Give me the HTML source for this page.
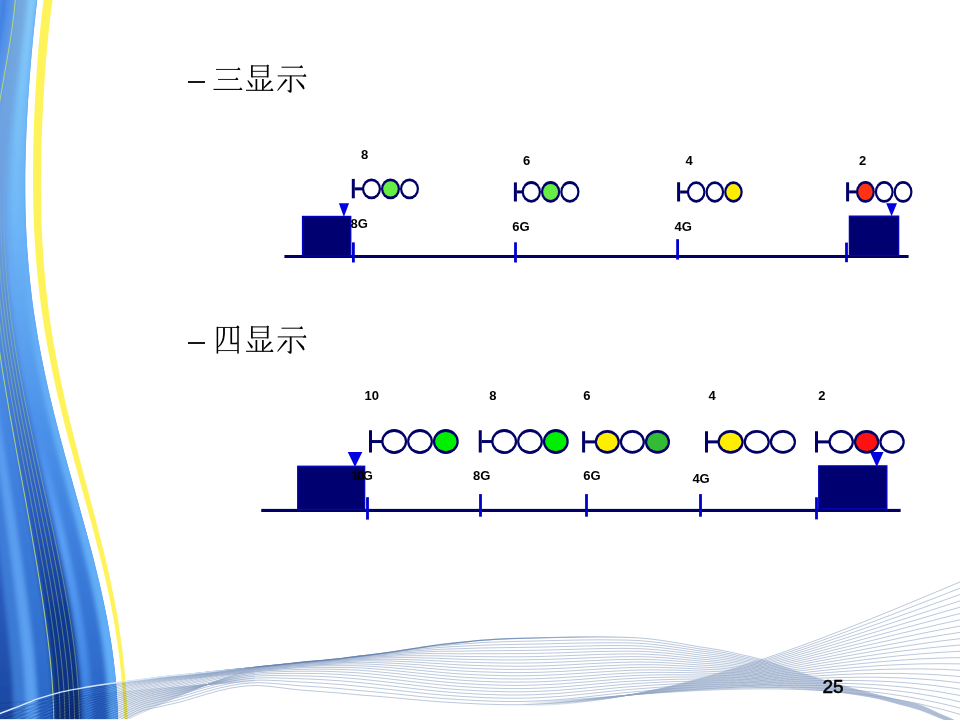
<!DOCTYPE html>
<html><head><meta charset="utf-8"><style>
html,body{margin:0;padding:0;background:#fff;}
body{width:960px;height:720px;overflow:hidden;position:relative;}
svg{position:absolute;left:0;top:0;display:block;}
text{font-family:"Liberation Sans",sans-serif;fill:#000;}
</style></head><body>
<svg width="960" height="720" viewBox="0 0 960 720">
<defs><clipPath id="cpBand"><path d="M-60.0,-40.0 C-60.0,-36.7 -60.0,-26.7 -60.0,-20.0 C-60.0,-13.3 -60.0,-6.7 -60.0,0.0 C-60.0,6.7 -60.0,13.3 -60.0,20.0 C-60.0,26.7 -60.0,33.3 -60.0,40.0 C-60.0,46.7 -60.0,53.3 -60.0,60.0 C-60.0,66.7 -60.0,73.3 -60.0,80.0 C-60.0,86.7 -60.0,93.3 -60.0,100.0 C-60.0,106.7 -60.0,113.3 -60.0,120.0 C-60.0,126.7 -60.0,133.3 -60.0,140.0 C-60.0,146.7 -60.0,153.3 -60.0,160.0 C-60.0,166.7 -60.0,173.3 -60.0,180.0 C-60.0,186.7 -60.0,193.3 -60.0,200.0 C-60.0,206.7 -60.0,213.3 -60.0,220.0 C-60.0,226.7 -60.0,233.3 -60.0,240.0 C-60.0,246.7 -60.0,253.3 -60.0,260.0 C-60.0,266.7 -60.0,273.3 -60.0,280.0 C-60.0,286.7 -60.0,293.3 -60.0,300.0 C-60.0,306.7 -60.0,313.3 -60.0,320.0 C-60.0,326.7 -60.0,333.3 -60.0,340.0 C-60.0,346.7 -60.0,353.3 -60.0,360.0 C-60.0,366.7 -60.0,373.3 -60.0,380.0 C-60.0,386.7 -60.0,393.3 -60.0,400.0 C-60.0,406.7 -60.0,413.3 -60.0,420.0 C-60.0,426.7 -60.0,433.3 -60.0,440.0 C-60.0,446.7 -60.0,453.3 -60.0,460.0 C-60.0,466.7 -60.0,473.3 -60.0,480.0 C-60.0,486.7 -60.0,493.3 -60.0,500.0 C-60.0,506.7 -60.0,513.3 -60.0,520.0 C-60.0,526.7 -60.0,533.3 -60.0,540.0 C-60.0,546.7 -60.0,553.3 -60.0,560.0 C-60.0,566.7 -60.0,573.3 -60.0,580.0 C-60.0,586.7 -60.0,593.3 -60.0,600.0 C-60.0,606.7 -60.0,613.3 -60.0,620.0 C-60.0,626.7 -60.0,633.3 -60.0,640.0 C-60.0,646.7 -60.0,653.3 -60.0,660.0 C-60.0,666.7 -60.0,673.3 -60.0,680.0 C-60.0,686.7 -60.0,693.3 -60.0,700.0 C-60.0,706.7 -60.0,713.3 -60.0,720.0 C-60.0,726.7 -60.0,733.3 -60.0,740.0 C-60.0,746.7 -60.0,756.7 -60.0,760.0 L117.0,760.0 C117.1,756.7 117.7,746.7 117.8,740.0 C118.0,733.3 118.0,726.7 117.9,720.0 C117.8,713.3 117.6,706.7 117.2,700.0 C116.9,693.3 116.4,686.7 115.8,680.0 C115.2,673.3 114.5,666.7 113.6,660.0 C112.8,653.3 111.8,646.7 110.8,640.0 C109.7,633.3 108.5,626.7 107.3,620.0 C106.0,613.3 104.7,606.7 103.2,600.0 C101.8,593.3 100.3,586.7 98.7,580.0 C97.1,573.3 95.4,566.7 93.8,560.0 C92.1,553.3 90.3,546.7 88.5,540.0 C86.7,533.3 84.9,526.7 83.0,520.0 C81.2,513.3 79.3,506.7 77.5,500.0 C75.6,493.3 73.7,486.7 71.9,480.0 C70.0,473.3 68.1,466.7 66.3,460.0 C64.5,453.3 62.7,446.7 60.9,440.0 C59.1,433.3 57.4,426.7 55.7,420.0 C54.0,413.3 52.4,406.7 50.8,400.0 C49.2,393.3 47.7,386.7 46.3,380.0 C44.8,373.3 43.4,366.7 42.1,360.0 C40.8,353.3 39.5,346.7 38.3,340.0 C37.2,333.3 36.1,326.7 35.1,320.0 C34.0,313.3 33.1,306.7 32.2,300.0 C31.4,293.3 30.6,286.7 29.9,280.0 C29.2,273.3 28.6,266.7 28.1,260.0 C27.5,253.3 27.1,246.7 26.7,240.0 C26.3,233.3 26.0,226.7 25.8,220.0 C25.5,213.3 25.4,206.7 25.3,200.0 C25.2,193.3 25.2,186.7 25.2,180.0 C25.2,173.3 25.3,166.7 25.5,160.0 C25.6,153.3 25.8,146.7 26.1,140.0 C26.3,133.3 26.6,126.7 27.0,120.0 C27.3,113.3 27.7,106.7 28.1,100.0 C28.6,93.3 29.0,86.7 29.5,80.0 C30.0,73.3 30.6,66.7 31.1,60.0 C31.7,53.3 32.3,46.7 32.9,40.0 C33.6,33.3 34.3,26.7 35.0,20.0 C35.7,13.3 36.4,6.7 37.2,0.0 C38.0,-6.7 38.8,-13.3 39.7,-20.0 C40.6,-26.7 42.1,-36.7 42.6,-40.0 Z"/></clipPath>
<filter id="fb1" x="-20%" y="-5%" width="140%" height="110%"><feGaussianBlur stdDeviation="2.2"/></filter>
<filter id="fb0" x="-20%" y="-5%" width="140%" height="110%"><feGaussianBlur stdDeviation="0.5"/></filter>
<linearGradient id="gBase" gradientUnits="userSpaceOnUse" x1="0" y1="0" x2="0" y2="720"><stop offset="0" stop-color="#4a8ae4"/><stop offset="0.5" stop-color="#4a8ce8"/><stop offset="1" stop-color="#3a74d0"/></linearGradient>
<linearGradient id="gThin" gradientUnits="userSpaceOnUse" x1="0" y1="140" x2="0" y2="320"><stop offset="0" stop-color="#b4d080" stop-opacity="0"/><stop offset="1" stop-color="#b4d080" stop-opacity="0.55"/></linearGradient>
<linearGradient id="gS0" gradientUnits="userSpaceOnUse" x1="0" y1="0" x2="0" y2="720"><stop offset="0" stop-color="#4f92ec"/><stop offset="0.5" stop-color="#4a8ae4"/><stop offset="0.8" stop-color="#2a5cc0"/><stop offset="1" stop-color="#1a48a0"/></linearGradient>
<linearGradient id="gS1" gradientUnits="userSpaceOnUse" x1="0" y1="0" x2="0" y2="720"><stop offset="0" stop-color="#3c7adc"/><stop offset="0.5" stop-color="#3f80e0"/><stop offset="1" stop-color="#3a78d0"/></linearGradient>
<linearGradient id="gS2" gradientUnits="userSpaceOnUse" x1="0" y1="0" x2="0" y2="720"><stop offset="0" stop-color="#5090ec"/><stop offset="0.5" stop-color="#5a9cf0"/><stop offset="1" stop-color="#5aa0f0"/></linearGradient>
<linearGradient id="gS3" gradientUnits="userSpaceOnUse" x1="0" y1="0" x2="0" y2="720"><stop offset="0" stop-color="#5a96e8"/><stop offset="0.5" stop-color="#4a8ce8"/><stop offset="1" stop-color="#2a68c8"/></linearGradient>
<linearGradient id="gS4" gradientUnits="userSpaceOnUse" x1="0" y1="0" x2="0" y2="720"><stop offset="0" stop-color="#74a8dc"/><stop offset="0.3" stop-color="#6a9ee4"/><stop offset="0.5" stop-color="#4a84d8"/><stop offset="0.7" stop-color="#2a5cc0"/><stop offset="0.85" stop-color="#0f3a92"/><stop offset="1" stop-color="#0a2e7c"/></linearGradient>
<linearGradient id="gS5" gradientUnits="userSpaceOnUse" x1="0" y1="0" x2="0" y2="720"><stop offset="0" stop-color="#7ab4e8"/><stop offset="0.4" stop-color="#66aaf4"/><stop offset="0.6" stop-color="#4a90ec"/><stop offset="0.75" stop-color="#5aa0f8"/><stop offset="1" stop-color="#3a80e0"/></linearGradient>
<linearGradient id="gS6" gradientUnits="userSpaceOnUse" x1="0" y1="0" x2="0" y2="720"><stop offset="0" stop-color="#86ccf8"/><stop offset="0.3" stop-color="#70b8f8"/><stop offset="0.6" stop-color="#4a90e8"/><stop offset="0.8" stop-color="#3a7ad8"/><stop offset="1" stop-color="#2a64c4"/></linearGradient>
<linearGradient id="gS7" gradientUnits="userSpaceOnUse" x1="0" y1="0" x2="0" y2="720"><stop offset="0" stop-color="#7cc4fa"/><stop offset="0.4" stop-color="#66b0f6"/><stop offset="1" stop-color="#60acf8"/></linearGradient>
<linearGradient id="gW2" gradientUnits="userSpaceOnUse" x1="520" y1="0" x2="760" y2="0"><stop offset="0" stop-color="#8ea3c4" stop-opacity="0"/><stop offset="0.5" stop-color="#8ea3c4" stop-opacity="0.35"/><stop offset="1" stop-color="#8ea3c4" stop-opacity="0.75"/></linearGradient>
<linearGradient id="gW3" gradientUnits="userSpaceOnUse" x1="0" y1="0" x2="260" y2="0"><stop offset="0" stop-color="#8ea3c4" stop-opacity="0.5"/><stop offset="0.8" stop-color="#8ea3c4" stop-opacity="0.6"/><stop offset="1" stop-color="#8ea3c4" stop-opacity="0.1"/></linearGradient>
<linearGradient id="gW1" gradientUnits="userSpaceOnUse" x1="0" y1="0" x2="960" y2="0"><stop offset="0" stop-color="#8ea3c4" stop-opacity="0.75"/><stop offset="0.79" stop-color="#8ea3c4" stop-opacity="0.75"/><stop offset="0.9" stop-color="#a8b8d2" stop-opacity="0.6"/><stop offset="1" stop-color="#a8b8d2" stop-opacity="0.55"/></linearGradient>
<linearGradient id="gEdge" gradientUnits="userSpaceOnUse" x1="190" y1="0" x2="640" y2="0"><stop offset="0" stop-color="#5a7aae" stop-opacity="0"/><stop offset="0.14" stop-color="#5a7aae" stop-opacity="0.8"/><stop offset="0.7" stop-color="#5a7aae" stop-opacity="0.7"/><stop offset="1" stop-color="#5a7aae" stop-opacity="0"/></linearGradient>
<linearGradient id="gDense" gradientUnits="userSpaceOnUse" x1="120" y1="0" x2="420" y2="0"><stop offset="0" stop-color="#7890bb" stop-opacity="0"/><stop offset="0.3" stop-color="#7890bb" stop-opacity="0.4"/><stop offset="1" stop-color="#7890bb" stop-opacity="0"/></linearGradient>
<linearGradient id="gHi" gradientUnits="userSpaceOnUse" x1="0" y1="0" x2="260" y2="0"><stop offset="0" stop-color="#d8ecff" stop-opacity="1"/><stop offset="0.8" stop-color="#d8ecff" stop-opacity="0.9"/><stop offset="1" stop-color="#d8ecff" stop-opacity="0"/></linearGradient></defs>
<g id="band"><path d="M-60.0,-40.0 C-60.0,-36.7 -60.0,-26.7 -60.0,-20.0 C-60.0,-13.3 -60.0,-6.7 -60.0,0.0 C-60.0,6.7 -60.0,13.3 -60.0,20.0 C-60.0,26.7 -60.0,33.3 -60.0,40.0 C-60.0,46.7 -60.0,53.3 -60.0,60.0 C-60.0,66.7 -60.0,73.3 -60.0,80.0 C-60.0,86.7 -60.0,93.3 -60.0,100.0 C-60.0,106.7 -60.0,113.3 -60.0,120.0 C-60.0,126.7 -60.0,133.3 -60.0,140.0 C-60.0,146.7 -60.0,153.3 -60.0,160.0 C-60.0,166.7 -60.0,173.3 -60.0,180.0 C-60.0,186.7 -60.0,193.3 -60.0,200.0 C-60.0,206.7 -60.0,213.3 -60.0,220.0 C-60.0,226.7 -60.0,233.3 -60.0,240.0 C-60.0,246.7 -60.0,253.3 -60.0,260.0 C-60.0,266.7 -60.0,273.3 -60.0,280.0 C-60.0,286.7 -60.0,293.3 -60.0,300.0 C-60.0,306.7 -60.0,313.3 -60.0,320.0 C-60.0,326.7 -60.0,333.3 -60.0,340.0 C-60.0,346.7 -60.0,353.3 -60.0,360.0 C-60.0,366.7 -60.0,373.3 -60.0,380.0 C-60.0,386.7 -60.0,393.3 -60.0,400.0 C-60.0,406.7 -60.0,413.3 -60.0,420.0 C-60.0,426.7 -60.0,433.3 -60.0,440.0 C-60.0,446.7 -60.0,453.3 -60.0,460.0 C-60.0,466.7 -60.0,473.3 -60.0,480.0 C-60.0,486.7 -60.0,493.3 -60.0,500.0 C-60.0,506.7 -60.0,513.3 -60.0,520.0 C-60.0,526.7 -60.0,533.3 -60.0,540.0 C-60.0,546.7 -60.0,553.3 -60.0,560.0 C-60.0,566.7 -60.0,573.3 -60.0,580.0 C-60.0,586.7 -60.0,593.3 -60.0,600.0 C-60.0,606.7 -60.0,613.3 -60.0,620.0 C-60.0,626.7 -60.0,633.3 -60.0,640.0 C-60.0,646.7 -60.0,653.3 -60.0,660.0 C-60.0,666.7 -60.0,673.3 -60.0,680.0 C-60.0,686.7 -60.0,693.3 -60.0,700.0 C-60.0,706.7 -60.0,713.3 -60.0,720.0 C-60.0,726.7 -60.0,733.3 -60.0,740.0 C-60.0,746.7 -60.0,756.7 -60.0,760.0 L117.0,760.0 C117.1,756.7 117.7,746.7 117.8,740.0 C118.0,733.3 118.0,726.7 117.9,720.0 C117.8,713.3 117.6,706.7 117.2,700.0 C116.9,693.3 116.4,686.7 115.8,680.0 C115.2,673.3 114.5,666.7 113.6,660.0 C112.8,653.3 111.8,646.7 110.8,640.0 C109.7,633.3 108.5,626.7 107.3,620.0 C106.0,613.3 104.7,606.7 103.2,600.0 C101.8,593.3 100.3,586.7 98.7,580.0 C97.1,573.3 95.4,566.7 93.8,560.0 C92.1,553.3 90.3,546.7 88.5,540.0 C86.7,533.3 84.9,526.7 83.0,520.0 C81.2,513.3 79.3,506.7 77.5,500.0 C75.6,493.3 73.7,486.7 71.9,480.0 C70.0,473.3 68.1,466.7 66.3,460.0 C64.5,453.3 62.7,446.7 60.9,440.0 C59.1,433.3 57.4,426.7 55.7,420.0 C54.0,413.3 52.4,406.7 50.8,400.0 C49.2,393.3 47.7,386.7 46.3,380.0 C44.8,373.3 43.4,366.7 42.1,360.0 C40.8,353.3 39.5,346.7 38.3,340.0 C37.2,333.3 36.1,326.7 35.1,320.0 C34.0,313.3 33.1,306.7 32.2,300.0 C31.4,293.3 30.6,286.7 29.9,280.0 C29.2,273.3 28.6,266.7 28.1,260.0 C27.5,253.3 27.1,246.7 26.7,240.0 C26.3,233.3 26.0,226.7 25.8,220.0 C25.5,213.3 25.4,206.7 25.3,200.0 C25.2,193.3 25.2,186.7 25.2,180.0 C25.2,173.3 25.3,166.7 25.5,160.0 C25.6,153.3 25.8,146.7 26.1,140.0 C26.3,133.3 26.6,126.7 27.0,120.0 C27.3,113.3 27.7,106.7 28.1,100.0 C28.6,93.3 29.0,86.7 29.5,80.0 C30.0,73.3 30.6,66.7 31.1,60.0 C31.7,53.3 32.3,46.7 32.9,40.0 C33.6,33.3 34.3,26.7 35.0,20.0 C35.7,13.3 36.4,6.7 37.2,0.0 C38.0,-6.7 38.8,-13.3 39.7,-20.0 C40.6,-26.7 42.1,-36.7 42.6,-40.0 Z" fill="url(#gBase)"/>
<g clip-path="url(#cpBand)"><g filter="url(#fb1)"><path d="M-40.6,-40.0 C-39.1,-36.7 -33.4,-26.7 -31.4,-20.0 C-29.5,-13.3 -28.8,-6.7 -28.6,0.0 C-28.4,6.7 -29.2,13.3 -30.2,20.0 C-31.3,26.7 -33.0,33.3 -34.8,40.0 C-36.7,46.7 -39.0,53.3 -41.3,60.0 C-43.6,66.7 -46.2,73.3 -48.6,80.0 C-51.1,86.7 -53.7,93.3 -56.2,100.0 C-58.6,106.7 -61.0,113.3 -63.3,120.0 C-65.5,126.7 -67.7,133.3 -69.7,140.0 C-71.6,146.7 -73.5,153.3 -75.1,160.0 C-76.7,166.7 -78.2,173.3 -79.4,180.0 C-80.7,186.7 -81.7,193.3 -82.6,200.0 C-83.5,206.7 -84.2,213.3 -84.8,220.0 C-85.3,226.7 -85.7,233.3 -86.0,240.0 C-86.2,246.7 -86.3,253.3 -86.3,260.0 C-86.3,266.7 -86.2,273.3 -86.0,280.0 C-85.8,286.7 -85.6,293.3 -85.2,300.0 C-84.9,306.7 -84.5,313.3 -84.1,320.0 C-83.7,326.7 -83.3,333.3 -82.9,340.0 C-82.5,346.7 -82.0,353.3 -81.6,360.0 C-81.2,366.7 -80.8,373.3 -80.5,380.0 C-80.1,386.7 -79.8,393.3 -79.5,400.0 C-79.2,406.7 -79.0,413.3 -78.8,420.0 C-78.6,426.7 -78.5,433.3 -78.4,440.0 C-78.3,446.7 -78.2,453.3 -78.2,460.0 C-78.2,466.7 -78.2,473.3 -78.3,480.0 C-78.3,486.7 -78.4,493.3 -78.5,500.0 C-78.6,506.7 -78.7,513.3 -78.8,520.0 C-78.9,526.7 -79.0,533.3 -79.1,540.0 C-79.2,546.7 -79.3,553.3 -79.3,560.0 C-79.3,566.7 -79.3,573.3 -79.3,580.0 C-79.2,586.7 -79.1,593.3 -79.0,600.0 C-78.8,606.7 -78.6,613.3 -78.4,620.0 C-78.2,626.7 -77.9,633.3 -77.5,640.0 C-77.2,646.7 -76.8,653.3 -76.5,660.0 C-76.1,666.7 -75.7,673.3 -75.4,680.0 C-75.1,686.7 -74.8,693.3 -74.7,700.0 C-74.6,706.7 -74.4,713.3 -74.6,720.0 C-74.9,726.7 -75.2,733.3 -75.9,740.0 C-76.7,746.7 -78.7,756.7 -79.3,760.0 L11.0,760.0 C11.4,756.7 12.7,746.7 13.2,740.0 C13.7,733.3 13.9,726.7 13.9,720.0 C14.0,713.3 13.8,706.7 13.6,700.0 C13.4,693.3 13.0,686.7 12.5,680.0 C12.1,673.3 11.5,666.7 11.0,660.0 C10.4,653.3 9.7,646.7 9.1,640.0 C8.4,633.3 7.7,626.7 7.0,620.0 C6.3,613.3 5.6,606.7 4.8,600.0 C4.1,593.3 3.3,586.7 2.6,580.0 C1.8,573.3 1.1,566.7 0.3,560.0 C-0.5,553.3 -1.2,546.7 -2.0,540.0 C-2.8,533.3 -3.6,526.7 -4.4,520.0 C-5.1,513.3 -5.9,506.7 -6.8,500.0 C-7.6,493.3 -8.4,486.7 -9.2,480.0 C-10.0,473.3 -10.9,466.7 -11.7,460.0 C-12.6,453.3 -13.4,446.7 -14.3,440.0 C-15.2,433.3 -16.0,426.7 -16.9,420.0 C-17.8,413.3 -18.7,406.7 -19.6,400.0 C-20.4,393.3 -21.3,386.7 -22.2,380.0 C-23.0,373.3 -23.9,366.7 -24.7,360.0 C-25.5,353.3 -26.4,346.7 -27.1,340.0 C-27.9,333.3 -28.6,326.7 -29.3,320.0 C-30.0,313.3 -30.6,306.7 -31.2,300.0 C-31.8,293.3 -32.3,286.7 -32.7,280.0 C-33.1,273.3 -33.5,266.7 -33.7,260.0 C-33.9,253.3 -34.1,246.7 -34.1,240.0 C-34.2,233.3 -34.1,226.7 -33.9,220.0 C-33.7,213.3 -33.4,206.7 -33.0,200.0 C-32.5,193.3 -32.0,186.7 -31.3,180.0 C-30.6,173.3 -29.8,166.7 -28.8,160.0 C-27.9,153.3 -26.8,146.7 -25.6,140.0 C-24.5,133.3 -23.1,126.7 -21.8,120.0 C-20.4,113.3 -18.9,106.7 -17.4,100.0 C-15.9,93.3 -14.3,86.7 -12.7,80.0 C-11.1,73.3 -9.5,66.7 -8.0,60.0 C-6.5,53.3 -5.0,46.7 -3.7,40.0 C-2.4,33.3 -1.1,26.7 -0.2,20.0 C0.7,13.3 1.4,6.7 1.7,0.0 C1.9,-6.7 2.0,-13.3 1.3,-20.0 C0.6,-26.7 -1.7,-36.7 -2.3,-40.0 Z" fill="url(#gS0)"/><path d="M-2.3,-40.0 C-1.7,-36.7 0.6,-26.7 1.3,-20.0 C2.0,-13.3 1.9,-6.7 1.7,0.0 C1.4,6.7 0.7,13.3 -0.2,20.0 C-1.1,26.7 -2.4,33.3 -3.7,40.0 C-5.0,46.7 -6.5,53.3 -8.0,60.0 C-9.5,66.7 -11.1,73.3 -12.7,80.0 C-14.3,86.7 -15.9,93.3 -17.4,100.0 C-18.9,106.7 -20.4,113.3 -21.8,120.0 C-23.1,126.7 -24.5,133.3 -25.6,140.0 C-26.8,146.7 -27.9,153.3 -28.8,160.0 C-29.8,166.7 -30.6,173.3 -31.3,180.0 C-32.0,186.7 -32.5,193.3 -33.0,200.0 C-33.4,206.7 -33.7,213.3 -33.9,220.0 C-34.1,226.7 -34.2,233.3 -34.1,240.0 C-34.1,246.7 -33.9,253.3 -33.7,260.0 C-33.5,266.7 -33.1,273.3 -32.7,280.0 C-32.3,286.7 -31.8,293.3 -31.2,300.0 C-30.6,306.7 -30.0,313.3 -29.3,320.0 C-28.6,326.7 -27.9,333.3 -27.1,340.0 C-26.4,346.7 -25.5,353.3 -24.7,360.0 C-23.9,366.7 -23.0,373.3 -22.2,380.0 C-21.3,386.7 -20.4,393.3 -19.6,400.0 C-18.7,406.7 -17.8,413.3 -16.9,420.0 C-16.0,426.7 -15.2,433.3 -14.3,440.0 C-13.4,446.7 -12.6,453.3 -11.7,460.0 C-10.9,466.7 -10.0,473.3 -9.2,480.0 C-8.4,486.7 -7.6,493.3 -6.8,500.0 C-5.9,506.7 -5.1,513.3 -4.4,520.0 C-3.6,526.7 -2.8,533.3 -2.0,540.0 C-1.2,546.7 -0.5,553.3 0.3,560.0 C1.1,566.7 1.8,573.3 2.6,580.0 C3.3,586.7 4.1,593.3 4.8,600.0 C5.6,606.7 6.3,613.3 7.0,620.0 C7.7,626.7 8.4,633.3 9.1,640.0 C9.7,646.7 10.4,653.3 11.0,660.0 C11.5,666.7 12.1,673.3 12.5,680.0 C13.0,686.7 13.4,693.3 13.6,700.0 C13.8,706.7 14.0,713.3 13.9,720.0 C13.9,726.7 13.7,733.3 13.2,740.0 C12.7,746.7 11.4,756.7 11.0,760.0 L23.4,760.0 C23.8,756.7 25.0,746.7 25.5,740.0 C25.9,733.3 26.1,726.7 26.1,720.0 C26.2,713.3 26.0,706.7 25.7,700.0 C25.5,693.3 25.1,686.7 24.6,680.0 C24.2,673.3 23.6,666.7 23.0,660.0 C22.4,653.3 21.7,646.7 21.0,640.0 C20.3,633.3 19.5,626.7 18.8,620.0 C18.0,613.3 17.2,606.7 16.4,600.0 C15.6,593.3 14.7,586.7 13.9,580.0 C13.0,573.3 12.1,566.7 11.3,560.0 C10.4,553.3 9.5,546.7 8.6,540.0 C7.7,533.3 6.8,526.7 5.9,520.0 C5.0,513.3 4.1,506.7 3.1,500.0 C2.2,493.3 1.2,486.7 0.3,480.0 C-0.7,473.3 -1.6,466.7 -2.6,460.0 C-3.5,453.3 -4.5,446.7 -5.5,440.0 C-6.5,433.3 -7.4,426.7 -8.4,420.0 C-9.4,413.3 -10.3,406.7 -11.3,400.0 C-12.3,393.3 -13.2,386.7 -14.1,380.0 C-15.1,373.3 -16.0,366.7 -16.9,360.0 C-17.8,353.3 -18.6,346.7 -19.4,340.0 C-20.3,333.3 -21.0,326.7 -21.8,320.0 C-22.5,313.3 -23.2,306.7 -23.8,300.0 C-24.4,293.3 -24.9,286.7 -25.3,280.0 C-25.8,273.3 -26.2,266.7 -26.5,260.0 C-26.7,253.3 -26.9,246.7 -27.0,240.0 C-27.1,233.3 -27.1,226.7 -26.9,220.0 C-26.8,213.3 -26.5,206.7 -26.2,200.0 C-25.8,193.3 -25.3,186.7 -24.7,180.0 C-24.1,173.3 -23.3,166.7 -22.5,160.0 C-21.6,153.3 -20.6,146.7 -19.6,140.0 C-18.5,133.3 -17.3,126.7 -16.0,120.0 C-14.8,113.3 -13.4,106.7 -12.0,100.0 C-10.7,93.3 -9.2,86.7 -7.7,80.0 C-6.3,73.3 -4.8,66.7 -3.4,60.0 C-2.0,53.3 -0.6,46.7 0.6,40.0 C1.8,33.3 3.0,26.7 3.9,20.0 C4.8,13.3 5.5,6.7 5.8,0.0 C6.2,-6.7 6.3,-13.3 5.8,-20.0 C5.3,-26.7 3.4,-36.7 2.9,-40.0 Z" fill="url(#gS1)"/><path d="M2.9,-40.0 C3.4,-36.7 5.3,-26.7 5.8,-20.0 C6.3,-13.3 6.2,-6.7 5.8,0.0 C5.5,6.7 4.8,13.3 3.9,20.0 C3.0,26.7 1.8,33.3 0.6,40.0 C-0.6,46.7 -2.0,53.3 -3.4,60.0 C-4.8,66.7 -6.3,73.3 -7.7,80.0 C-9.2,86.7 -10.7,93.3 -12.0,100.0 C-13.4,106.7 -14.8,113.3 -16.0,120.0 C-17.3,126.7 -18.5,133.3 -19.6,140.0 C-20.6,146.7 -21.6,153.3 -22.5,160.0 C-23.3,166.7 -24.1,173.3 -24.7,180.0 C-25.3,186.7 -25.8,193.3 -26.2,200.0 C-26.5,206.7 -26.8,213.3 -26.9,220.0 C-27.1,226.7 -27.1,233.3 -27.0,240.0 C-26.9,246.7 -26.7,253.3 -26.5,260.0 C-26.2,266.7 -25.8,273.3 -25.3,280.0 C-24.9,286.7 -24.4,293.3 -23.8,300.0 C-23.2,306.7 -22.5,313.3 -21.8,320.0 C-21.0,326.7 -20.3,333.3 -19.4,340.0 C-18.6,346.7 -17.8,353.3 -16.9,360.0 C-16.0,366.7 -15.1,373.3 -14.1,380.0 C-13.2,386.7 -12.3,393.3 -11.3,400.0 C-10.3,406.7 -9.4,413.3 -8.4,420.0 C-7.4,426.7 -6.5,433.3 -5.5,440.0 C-4.5,446.7 -3.5,453.3 -2.6,460.0 C-1.6,466.7 -0.7,473.3 0.3,480.0 C1.2,486.7 2.2,493.3 3.1,500.0 C4.1,506.7 5.0,513.3 5.9,520.0 C6.8,526.7 7.7,533.3 8.6,540.0 C9.5,546.7 10.4,553.3 11.3,560.0 C12.1,566.7 13.0,573.3 13.9,580.0 C14.7,586.7 15.6,593.3 16.4,600.0 C17.2,606.7 18.0,613.3 18.8,620.0 C19.5,626.7 20.3,633.3 21.0,640.0 C21.7,646.7 22.4,653.3 23.0,660.0 C23.6,666.7 24.2,673.3 24.6,680.0 C25.1,686.7 25.5,693.3 25.7,700.0 C26.0,706.7 26.2,713.3 26.1,720.0 C26.1,726.7 25.9,733.3 25.5,740.0 C25.0,746.7 23.8,756.7 23.4,760.0 L35.2,760.0 C35.5,756.7 36.7,746.7 37.1,740.0 C37.5,733.3 37.6,726.7 37.7,720.0 C37.7,713.3 37.5,706.7 37.3,700.0 C37.0,693.3 36.6,686.7 36.1,680.0 C35.6,673.3 35.0,666.7 34.4,660.0 C33.8,653.3 33.1,646.7 32.3,640.0 C31.6,633.3 30.8,626.7 29.9,620.0 C29.1,613.3 28.2,606.7 27.3,600.0 C26.4,593.3 25.5,586.7 24.5,580.0 C23.6,573.3 22.6,566.7 21.7,560.0 C20.7,553.3 19.7,546.7 18.7,540.0 C17.7,533.3 16.6,526.7 15.6,520.0 C14.6,513.3 13.5,506.7 12.5,500.0 C11.4,493.3 10.4,486.7 9.3,480.0 C8.2,473.3 7.2,466.7 6.1,460.0 C5.0,453.3 3.9,446.7 2.9,440.0 C1.8,433.3 0.7,426.7 -0.3,420.0 C-1.4,413.3 -2.4,406.7 -3.5,400.0 C-4.5,393.3 -5.5,386.7 -6.5,380.0 C-7.5,373.3 -8.5,366.7 -9.5,360.0 C-10.4,353.3 -11.3,346.7 -12.2,340.0 C-13.0,333.3 -13.9,326.7 -14.6,320.0 C-15.4,313.3 -16.1,306.7 -16.7,300.0 C-17.3,293.3 -17.9,286.7 -18.4,280.0 C-18.9,273.3 -19.3,266.7 -19.6,260.0 C-19.9,253.3 -20.1,246.7 -20.2,240.0 C-20.4,233.3 -20.4,226.7 -20.3,220.0 C-20.2,213.3 -20.0,206.7 -19.7,200.0 C-19.4,193.3 -18.9,186.7 -18.4,180.0 C-17.9,173.3 -17.2,166.7 -16.4,160.0 C-15.7,153.3 -14.8,146.7 -13.8,140.0 C-12.9,133.3 -11.8,126.7 -10.6,120.0 C-9.5,113.3 -8.2,106.7 -7.0,100.0 C-5.7,93.3 -4.4,86.7 -3.0,80.0 C-1.7,73.3 -0.3,66.7 1.0,60.0 C2.2,53.3 3.6,46.7 4.7,40.0 C5.8,33.3 7.0,26.7 7.8,20.0 C8.7,13.3 9.4,6.7 9.8,0.0 C10.2,-6.7 10.4,-13.3 10.1,-20.0 C9.8,-26.7 8.3,-36.7 7.9,-40.0 Z" fill="url(#gS2)"/><path d="M7.9,-40.0 C8.3,-36.7 9.8,-26.7 10.1,-20.0 C10.4,-13.3 10.2,-6.7 9.8,0.0 C9.4,6.7 8.7,13.3 7.8,20.0 C7.0,26.7 5.8,33.3 4.7,40.0 C3.6,46.7 2.2,53.3 1.0,60.0 C-0.3,66.7 -1.7,73.3 -3.0,80.0 C-4.4,86.7 -5.7,93.3 -7.0,100.0 C-8.2,106.7 -9.5,113.3 -10.6,120.0 C-11.8,126.7 -12.9,133.3 -13.8,140.0 C-14.8,146.7 -15.7,153.3 -16.4,160.0 C-17.2,166.7 -17.9,173.3 -18.4,180.0 C-18.9,186.7 -19.4,193.3 -19.7,200.0 C-20.0,206.7 -20.2,213.3 -20.3,220.0 C-20.4,226.7 -20.4,233.3 -20.2,240.0 C-20.1,246.7 -19.9,253.3 -19.6,260.0 C-19.3,266.7 -18.9,273.3 -18.4,280.0 C-17.9,286.7 -17.3,293.3 -16.7,300.0 C-16.1,306.7 -15.4,313.3 -14.6,320.0 C-13.9,326.7 -13.0,333.3 -12.2,340.0 C-11.3,346.7 -10.4,353.3 -9.5,360.0 C-8.5,366.7 -7.5,373.3 -6.5,380.0 C-5.5,386.7 -4.5,393.3 -3.5,400.0 C-2.4,406.7 -1.4,413.3 -0.3,420.0 C0.7,426.7 1.8,433.3 2.9,440.0 C3.9,446.7 5.0,453.3 6.1,460.0 C7.2,466.7 8.2,473.3 9.3,480.0 C10.4,486.7 11.4,493.3 12.5,500.0 C13.5,506.7 14.6,513.3 15.6,520.0 C16.6,526.7 17.7,533.3 18.7,540.0 C19.7,546.7 20.7,553.3 21.7,560.0 C22.6,566.7 23.6,573.3 24.5,580.0 C25.5,586.7 26.4,593.3 27.3,600.0 C28.2,606.7 29.1,613.3 29.9,620.0 C30.8,626.7 31.6,633.3 32.3,640.0 C33.1,646.7 33.8,653.3 34.4,660.0 C35.0,666.7 35.6,673.3 36.1,680.0 C36.6,686.7 37.0,693.3 37.3,700.0 C37.5,706.7 37.7,713.3 37.7,720.0 C37.6,726.7 37.5,733.3 37.1,740.0 C36.7,746.7 35.5,756.7 35.2,760.0 L51.6,760.0 C51.8,756.7 52.9,746.7 53.2,740.0 C53.6,733.3 53.7,726.7 53.7,720.0 C53.7,713.3 53.5,706.7 53.2,700.0 C53.0,693.3 52.5,686.7 52.0,680.0 C51.5,673.3 50.9,666.7 50.3,660.0 C49.6,653.3 48.8,646.7 48.0,640.0 C47.2,633.3 46.3,626.7 45.4,620.0 C44.5,613.3 43.5,606.7 42.5,600.0 C41.5,593.3 40.4,586.7 39.4,580.0 C38.3,573.3 37.2,566.7 36.1,560.0 C34.9,553.3 33.8,546.7 32.6,540.0 C31.5,533.3 30.3,526.7 29.1,520.0 C27.9,513.3 26.7,506.7 25.5,500.0 C24.3,493.3 23.0,486.7 21.8,480.0 C20.6,473.3 19.4,466.7 18.1,460.0 C16.9,453.3 15.7,446.7 14.5,440.0 C13.3,433.3 12.1,426.7 10.9,420.0 C9.7,413.3 8.5,406.7 7.4,400.0 C6.2,393.3 5.1,386.7 4.0,380.0 C2.9,373.3 1.9,366.7 0.8,360.0 C-0.2,353.3 -1.1,346.7 -2.1,340.0 C-3.0,333.3 -3.9,326.7 -4.7,320.0 C-5.5,313.3 -6.2,306.7 -6.9,300.0 C-7.6,293.3 -8.2,286.7 -8.7,280.0 C-9.3,273.3 -9.7,266.7 -10.1,260.0 C-10.4,253.3 -10.7,246.7 -10.9,240.0 C-11.0,233.3 -11.1,226.7 -11.1,220.0 C-11.0,213.3 -10.9,206.7 -10.7,200.0 C-10.5,193.3 -10.1,186.7 -9.7,180.0 C-9.2,173.3 -8.7,166.7 -8.0,160.0 C-7.4,153.3 -6.7,146.7 -5.8,140.0 C-5.0,133.3 -4.1,126.7 -3.1,120.0 C-2.1,113.3 -1.1,106.7 0.0,100.0 C1.1,93.3 2.3,86.7 3.5,80.0 C4.6,73.3 5.8,66.7 7.0,60.0 C8.1,53.3 9.3,46.7 10.3,40.0 C11.4,33.3 12.4,26.7 13.2,20.0 C14.1,13.3 14.8,6.7 15.3,0.0 C15.7,-6.7 16.1,-13.3 16.0,-20.0 C15.9,-26.7 15.1,-36.7 14.9,-40.0 Z" fill="url(#gS3)"/><path d="M14.9,-40.0 C15.1,-36.7 15.9,-26.7 16.0,-20.0 C16.1,-13.3 15.7,-6.7 15.3,0.0 C14.8,6.7 14.1,13.3 13.2,20.0 C12.4,26.7 11.4,33.3 10.3,40.0 C9.3,46.7 8.1,53.3 7.0,60.0 C5.8,66.7 4.6,73.3 3.5,80.0 C2.3,86.7 1.1,93.3 0.0,100.0 C-1.1,106.7 -2.1,113.3 -3.1,120.0 C-4.1,126.7 -5.0,133.3 -5.8,140.0 C-6.7,146.7 -7.4,153.3 -8.0,160.0 C-8.7,166.7 -9.2,173.3 -9.7,180.0 C-10.1,186.7 -10.5,193.3 -10.7,200.0 C-10.9,206.7 -11.0,213.3 -11.1,220.0 C-11.1,226.7 -11.0,233.3 -10.9,240.0 C-10.7,246.7 -10.4,253.3 -10.1,260.0 C-9.7,266.7 -9.3,273.3 -8.7,280.0 C-8.2,286.7 -7.6,293.3 -6.9,300.0 C-6.2,306.7 -5.5,313.3 -4.7,320.0 C-3.9,326.7 -3.0,333.3 -2.1,340.0 C-1.1,346.7 -0.2,353.3 0.8,360.0 C1.9,366.7 2.9,373.3 4.0,380.0 C5.1,386.7 6.2,393.3 7.4,400.0 C8.5,406.7 9.7,413.3 10.9,420.0 C12.1,426.7 13.3,433.3 14.5,440.0 C15.7,446.7 16.9,453.3 18.1,460.0 C19.4,466.7 20.6,473.3 21.8,480.0 C23.0,486.7 24.3,493.3 25.5,500.0 C26.7,506.7 27.9,513.3 29.1,520.0 C30.3,526.7 31.5,533.3 32.6,540.0 C33.8,546.7 34.9,553.3 36.1,560.0 C37.2,566.7 38.3,573.3 39.4,580.0 C40.4,586.7 41.5,593.3 42.5,600.0 C43.5,606.7 44.5,613.3 45.4,620.0 C46.3,626.7 47.2,633.3 48.0,640.0 C48.8,646.7 49.6,653.3 50.3,660.0 C50.9,666.7 51.5,673.3 52.0,680.0 C52.5,686.7 53.0,693.3 53.2,700.0 C53.5,706.7 53.7,713.3 53.7,720.0 C53.7,726.7 53.6,733.3 53.2,740.0 C52.9,746.7 51.8,756.7 51.6,760.0 L81.0,760.0 C81.2,756.7 82.0,746.7 82.3,740.0 C82.5,733.3 82.6,726.7 82.6,720.0 C82.5,713.3 82.3,706.7 82.0,700.0 C81.7,693.3 81.3,686.7 80.7,680.0 C80.2,673.3 79.5,666.7 78.8,660.0 C78.0,653.3 77.2,646.7 76.3,640.0 C75.3,633.3 74.3,626.7 73.2,620.0 C72.2,613.3 71.0,606.7 69.8,600.0 C68.6,593.3 67.4,586.7 66.1,580.0 C64.8,573.3 63.4,566.7 62.0,560.0 C60.6,553.3 59.2,546.7 57.8,540.0 C56.3,533.3 54.9,526.7 53.4,520.0 C51.9,513.3 50.4,506.7 48.9,500.0 C47.4,493.3 45.8,486.7 44.3,480.0 C42.8,473.3 41.3,466.7 39.8,460.0 C38.3,453.3 36.8,446.7 35.4,440.0 C33.9,433.3 32.5,426.7 31.1,420.0 C29.7,413.3 28.3,406.7 26.9,400.0 C25.6,393.3 24.3,386.7 23.0,380.0 C21.8,373.3 20.6,366.7 19.4,360.0 C18.3,353.3 17.2,346.7 16.1,340.0 C15.1,333.3 14.1,326.7 13.2,320.0 C12.3,313.3 11.5,306.7 10.7,300.0 C10.0,293.3 9.3,286.7 8.7,280.0 C8.1,273.3 7.5,266.7 7.1,260.0 C6.7,253.3 6.3,246.7 6.0,240.0 C5.8,233.3 5.6,226.7 5.5,220.0 C5.4,213.3 5.4,206.7 5.5,200.0 C5.6,193.3 5.8,186.7 6.0,180.0 C6.3,173.3 6.6,166.7 7.0,160.0 C7.5,153.3 8.0,146.7 8.5,140.0 C9.1,133.3 9.7,126.7 10.4,120.0 C11.1,113.3 11.9,106.7 12.7,100.0 C13.5,93.3 14.3,86.7 15.2,80.0 C16.1,73.3 17.0,66.7 17.9,60.0 C18.7,53.3 19.7,46.7 20.5,40.0 C21.4,33.3 22.2,26.7 23.0,20.0 C23.8,13.3 24.5,6.7 25.1,0.0 C25.8,-6.7 26.3,-13.3 26.7,-20.0 C27.0,-26.7 27.2,-36.7 27.3,-40.0 Z" fill="url(#gS4)"/><path d="M27.3,-40.0 C27.2,-36.7 27.0,-26.7 26.7,-20.0 C26.3,-13.3 25.8,-6.7 25.1,0.0 C24.5,6.7 23.8,13.3 23.0,20.0 C22.2,26.7 21.4,33.3 20.5,40.0 C19.7,46.7 18.7,53.3 17.9,60.0 C17.0,66.7 16.1,73.3 15.2,80.0 C14.3,86.7 13.5,93.3 12.7,100.0 C11.9,106.7 11.1,113.3 10.4,120.0 C9.7,126.7 9.1,133.3 8.5,140.0 C8.0,146.7 7.5,153.3 7.0,160.0 C6.6,166.7 6.3,173.3 6.0,180.0 C5.8,186.7 5.6,193.3 5.5,200.0 C5.4,206.7 5.4,213.3 5.5,220.0 C5.6,226.7 5.8,233.3 6.0,240.0 C6.3,246.7 6.7,253.3 7.1,260.0 C7.5,266.7 8.1,273.3 8.7,280.0 C9.3,286.7 10.0,293.3 10.7,300.0 C11.5,306.7 12.3,313.3 13.2,320.0 C14.1,326.7 15.1,333.3 16.1,340.0 C17.2,346.7 18.3,353.3 19.4,360.0 C20.6,366.7 21.8,373.3 23.0,380.0 C24.3,386.7 25.6,393.3 26.9,400.0 C28.3,406.7 29.7,413.3 31.1,420.0 C32.5,426.7 33.9,433.3 35.4,440.0 C36.8,446.7 38.3,453.3 39.8,460.0 C41.3,466.7 42.8,473.3 44.3,480.0 C45.8,486.7 47.4,493.3 48.9,500.0 C50.4,506.7 51.9,513.3 53.4,520.0 C54.9,526.7 56.3,533.3 57.8,540.0 C59.2,546.7 60.6,553.3 62.0,560.0 C63.4,566.7 64.8,573.3 66.1,580.0 C67.4,586.7 68.6,593.3 69.8,600.0 C71.0,606.7 72.2,613.3 73.2,620.0 C74.3,626.7 75.3,633.3 76.3,640.0 C77.2,646.7 78.0,653.3 78.8,660.0 C79.5,666.7 80.2,673.3 80.7,680.0 C81.3,686.7 81.7,693.3 82.0,700.0 C82.3,706.7 82.5,713.3 82.6,720.0 C82.6,726.7 82.5,733.3 82.3,740.0 C82.0,746.7 81.2,756.7 81.0,760.0 L90.8,760.0 C91.0,756.7 91.7,746.7 92.0,740.0 C92.2,733.3 92.3,726.7 92.2,720.0 C92.2,713.3 91.9,706.7 91.6,700.0 C91.3,693.3 90.9,686.7 90.3,680.0 C89.7,673.3 89.1,666.7 88.3,660.0 C87.5,653.3 86.6,646.7 85.7,640.0 C84.7,633.3 83.7,626.7 82.5,620.0 C81.4,613.3 80.2,606.7 78.9,600.0 C77.7,593.3 76.3,586.7 75.0,580.0 C73.6,573.3 72.1,566.7 70.7,560.0 C69.2,553.3 67.7,546.7 66.2,540.0 C64.6,533.3 63.0,526.7 61.5,520.0 C59.9,513.3 58.3,506.7 56.7,500.0 C55.1,493.3 53.4,486.7 51.8,480.0 C50.2,473.3 48.6,466.7 47.0,460.0 C45.5,453.3 43.9,446.7 42.3,440.0 C40.8,433.3 39.3,426.7 37.8,420.0 C36.3,413.3 34.8,406.7 33.4,400.0 C32.0,393.3 30.7,386.7 29.4,380.0 C28.1,373.3 26.8,366.7 25.6,360.0 C24.4,353.3 23.3,346.7 22.2,340.0 C21.1,333.3 20.1,326.7 19.2,320.0 C18.2,313.3 17.4,306.7 16.6,300.0 C15.8,293.3 15.1,286.7 14.5,280.0 C13.8,273.3 13.3,266.7 12.8,260.0 C12.4,253.3 12.0,246.7 11.7,240.0 C11.4,233.3 11.2,226.7 11.0,220.0 C10.9,213.3 10.9,206.7 10.9,200.0 C10.9,193.3 11.1,186.7 11.3,180.0 C11.4,173.3 11.7,166.7 12.1,160.0 C12.4,153.3 12.8,146.7 13.3,140.0 C13.8,133.3 14.3,126.7 14.9,120.0 C15.5,113.3 16.2,106.7 16.9,100.0 C17.6,93.3 18.3,86.7 19.1,80.0 C19.9,73.3 20.7,66.7 21.5,60.0 C22.3,53.3 23.1,46.7 23.9,40.0 C24.7,33.3 25.5,26.7 26.3,20.0 C27.0,13.3 27.8,6.7 28.4,0.0 C29.1,-6.7 29.7,-13.3 30.2,-20.0 C30.7,-26.7 31.3,-36.7 31.5,-40.0 Z" fill="url(#gS5)"/><path d="M31.5,-40.0 C31.3,-36.7 30.7,-26.7 30.2,-20.0 C29.7,-13.3 29.1,-6.7 28.4,0.0 C27.8,6.7 27.0,13.3 26.3,20.0 C25.5,26.7 24.7,33.3 23.9,40.0 C23.1,46.7 22.3,53.3 21.5,60.0 C20.7,66.7 19.9,73.3 19.1,80.0 C18.3,86.7 17.6,93.3 16.9,100.0 C16.2,106.7 15.5,113.3 14.9,120.0 C14.3,126.7 13.8,133.3 13.3,140.0 C12.8,146.7 12.4,153.3 12.1,160.0 C11.7,166.7 11.4,173.3 11.3,180.0 C11.1,186.7 10.9,193.3 10.9,200.0 C10.9,206.7 10.9,213.3 11.0,220.0 C11.2,226.7 11.4,233.3 11.7,240.0 C12.0,246.7 12.4,253.3 12.8,260.0 C13.3,266.7 13.8,273.3 14.5,280.0 C15.1,286.7 15.8,293.3 16.6,300.0 C17.4,306.7 18.2,313.3 19.2,320.0 C20.1,326.7 21.1,333.3 22.2,340.0 C23.3,346.7 24.4,353.3 25.6,360.0 C26.8,366.7 28.1,373.3 29.4,380.0 C30.7,386.7 32.0,393.3 33.4,400.0 C34.8,406.7 36.3,413.3 37.8,420.0 C39.3,426.7 40.8,433.3 42.3,440.0 C43.9,446.7 45.5,453.3 47.0,460.0 C48.6,466.7 50.2,473.3 51.8,480.0 C53.4,486.7 55.1,493.3 56.7,500.0 C58.3,506.7 59.9,513.3 61.5,520.0 C63.0,526.7 64.6,533.3 66.2,540.0 C67.7,546.7 69.2,553.3 70.7,560.0 C72.1,566.7 73.6,573.3 75.0,580.0 C76.3,586.7 77.7,593.3 78.9,600.0 C80.2,606.7 81.4,613.3 82.5,620.0 C83.7,626.7 84.7,633.3 85.7,640.0 C86.6,646.7 87.5,653.3 88.3,660.0 C89.1,666.7 89.7,673.3 90.3,680.0 C90.9,686.7 91.3,693.3 91.6,700.0 C91.9,706.7 92.2,713.3 92.2,720.0 C92.3,726.7 92.2,733.3 92.0,740.0 C91.7,746.7 91.0,756.7 90.8,760.0 L107.8,760.0 C108.0,756.7 108.6,746.7 108.8,740.0 C108.9,733.3 109.0,726.7 108.9,720.0 C108.8,713.3 108.6,706.7 108.3,700.0 C107.9,693.3 107.5,686.7 106.9,680.0 C106.3,673.3 105.6,666.7 104.8,660.0 C103.9,653.3 103.0,646.7 102.0,640.0 C101.0,633.3 99.8,626.7 98.6,620.0 C97.4,613.3 96.1,606.7 94.7,600.0 C93.4,593.3 91.9,586.7 90.4,580.0 C88.9,573.3 87.3,566.7 85.7,560.0 C84.1,553.3 82.4,546.7 80.7,540.0 C79.0,533.3 77.2,526.7 75.5,520.0 C73.7,513.3 72.0,506.7 70.2,500.0 C68.4,493.3 66.6,486.7 64.9,480.0 C63.1,473.3 61.3,466.7 59.6,460.0 C57.8,453.3 56.1,446.7 54.4,440.0 C52.7,433.3 51.1,426.7 49.4,420.0 C47.8,413.3 46.3,406.7 44.7,400.0 C43.2,393.3 41.7,386.7 40.3,380.0 C38.9,373.3 37.6,366.7 36.3,360.0 C35.0,353.3 33.8,346.7 32.7,340.0 C31.5,333.3 30.5,326.7 29.5,320.0 C28.5,313.3 27.6,306.7 26.8,300.0 C25.9,293.3 25.2,286.7 24.5,280.0 C23.8,273.3 23.2,266.7 22.7,260.0 C22.2,253.3 21.8,246.7 21.4,240.0 C21.1,233.3 20.8,226.7 20.6,220.0 C20.4,213.3 20.3,206.7 20.3,200.0 C20.2,193.3 20.2,186.7 20.3,180.0 C20.4,173.3 20.6,166.7 20.8,160.0 C21.0,153.3 21.3,146.7 21.6,140.0 C21.9,133.3 22.3,126.7 22.8,120.0 C23.2,113.3 23.7,106.7 24.2,100.0 C24.7,93.3 25.3,86.7 25.9,80.0 C26.5,73.3 27.1,66.7 27.8,60.0 C28.4,53.3 29.1,46.7 29.8,40.0 C30.5,33.3 31.2,26.7 31.9,20.0 C32.6,13.3 33.4,6.7 34.1,0.0 C34.9,-6.7 35.6,-13.3 36.4,-20.0 C37.2,-26.7 38.3,-36.7 38.7,-40.0 Z" fill="url(#gS6)"/><path d="M38.7,-40.0 C38.3,-36.7 37.2,-26.7 36.4,-20.0 C35.6,-13.3 34.9,-6.7 34.1,0.0 C33.4,6.7 32.6,13.3 31.9,20.0 C31.2,26.7 30.5,33.3 29.8,40.0 C29.1,46.7 28.4,53.3 27.8,60.0 C27.1,66.7 26.5,73.3 25.9,80.0 C25.3,86.7 24.7,93.3 24.2,100.0 C23.7,106.7 23.2,113.3 22.8,120.0 C22.3,126.7 21.9,133.3 21.6,140.0 C21.3,146.7 21.0,153.3 20.8,160.0 C20.6,166.7 20.4,173.3 20.3,180.0 C20.2,186.7 20.2,193.3 20.3,200.0 C20.3,206.7 20.4,213.3 20.6,220.0 C20.8,226.7 21.1,233.3 21.4,240.0 C21.8,246.7 22.2,253.3 22.7,260.0 C23.2,266.7 23.8,273.3 24.5,280.0 C25.2,286.7 25.9,293.3 26.8,300.0 C27.6,306.7 28.5,313.3 29.5,320.0 C30.5,326.7 31.5,333.3 32.7,340.0 C33.8,346.7 35.0,353.3 36.3,360.0 C37.6,366.7 38.9,373.3 40.3,380.0 C41.7,386.7 43.2,393.3 44.7,400.0 C46.3,406.7 47.8,413.3 49.4,420.0 C51.1,426.7 52.7,433.3 54.4,440.0 C56.1,446.7 57.8,453.3 59.6,460.0 C61.3,466.7 63.1,473.3 64.9,480.0 C66.6,486.7 68.4,493.3 70.2,500.0 C72.0,506.7 73.7,513.3 75.5,520.0 C77.2,526.7 79.0,533.3 80.7,540.0 C82.4,546.7 84.1,553.3 85.7,560.0 C87.3,566.7 88.9,573.3 90.4,580.0 C91.9,586.7 93.4,593.3 94.7,600.0 C96.1,606.7 97.4,613.3 98.6,620.0 C99.8,626.7 101.0,633.3 102.0,640.0 C103.0,646.7 103.9,653.3 104.8,660.0 C105.6,666.7 106.3,673.3 106.9,680.0 C107.5,686.7 107.9,693.3 108.3,700.0 C108.6,706.7 108.8,713.3 108.9,720.0 C109.0,726.7 108.9,733.3 108.8,740.0 C108.6,746.7 108.0,756.7 107.8,760.0 L120.3,760.0 C120.4,756.7 120.9,746.7 121.0,740.0 C121.2,733.3 121.2,726.7 121.1,720.0 C121.0,713.3 120.8,706.7 120.4,700.0 C120.1,693.3 119.6,686.7 119.0,680.0 C118.4,673.3 117.6,666.7 116.8,660.0 C116.0,653.3 115.0,646.7 113.9,640.0 C112.8,633.3 111.7,626.7 110.4,620.0 C109.1,613.3 107.7,606.7 106.3,600.0 C104.8,593.3 103.3,586.7 101.7,580.0 C100.1,573.3 98.4,566.7 96.6,560.0 C94.9,553.3 93.1,546.7 91.3,540.0 C89.5,533.3 87.6,526.7 85.7,520.0 C83.9,513.3 82.0,506.7 80.1,500.0 C78.2,493.3 76.3,486.7 74.4,480.0 C72.5,473.3 70.6,466.7 68.7,460.0 C66.9,453.3 65.0,446.7 63.2,440.0 C61.4,433.3 59.7,426.7 58.0,420.0 C56.3,413.3 54.6,406.7 53.0,400.0 C51.4,393.3 49.8,386.7 48.4,380.0 C46.9,373.3 45.5,366.7 44.1,360.0 C42.8,353.3 41.5,346.7 40.4,340.0 C39.2,333.3 38.1,326.7 37.0,320.0 C36.0,313.3 35.1,306.7 34.2,300.0 C33.3,293.3 32.6,286.7 31.9,280.0 C31.1,273.3 30.5,266.7 30.0,260.0 C29.4,253.3 29.0,246.7 28.6,240.0 C28.2,233.3 27.9,226.7 27.6,220.0 C27.4,213.3 27.2,206.7 27.1,200.0 C27.0,193.3 26.9,186.7 26.9,180.0 C27.0,173.3 27.0,166.7 27.1,160.0 C27.3,153.3 27.5,146.7 27.7,140.0 C27.9,133.3 28.2,126.7 28.5,120.0 C28.8,113.3 29.1,106.7 29.5,100.0 C29.9,93.3 30.4,86.7 30.8,80.0 C31.3,73.3 31.8,66.7 32.3,60.0 C32.9,53.3 33.5,46.7 34.1,40.0 C34.7,33.3 35.3,26.7 36.1,20.0 C36.8,13.3 37.5,6.7 38.3,0.0 C39.1,-6.7 40.0,-13.3 40.9,-20.0 C41.9,-26.7 43.5,-36.7 44.0,-40.0 Z" fill="url(#gS7)"/></g></g>
<g clip-path="url(#cpBand)"><g filter="url(#fb0)"><path d="M18.4,-20.0 C18.2,-16.7 18.0,-6.7 17.5,0.0 C17.0,6.7 16.2,13.3 15.4,20.0 C14.6,26.7 13.6,33.3 12.6,40.0 C11.6,46.7 10.5,53.3 9.4,60.0 C8.3,66.7 7.2,73.3 6.1,80.0 C5.0,86.7 3.9,93.3 2.8,100.0 C1.8,106.7 0.8,113.3 -0.1,120.0 C-1.0,126.7 -1.9,133.3 -2.6,140.0 C-3.4,146.7 -4.1,153.3 -4.7,160.0 C-5.3,166.7 -5.8,173.3 -6.2,180.0 C-6.6,186.7 -6.9,193.3 -7.1,200.0 C-7.3,206.7 -7.4,213.3 -7.4,220.0 C-7.4,226.7 -7.3,233.3 -7.1,240.0 C-6.9,246.7 -6.6,253.3 -6.2,260.0 C-5.9,266.7 -5.4,273.3 -4.9,280.0 C-4.3,286.7 -3.7,293.3 -3.0,300.0 C-2.3,306.7 -1.5,313.3 -0.7,320.0 C0.1,326.7 1.0,333.3 2.0,340.0 C2.9,346.7 3.9,353.3 5.0,360.0 C6.0,366.7 7.1,373.3 8.2,380.0 C9.4,386.7 10.5,393.3 11.7,400.0 C12.9,406.7 14.1,413.3 15.4,420.0 C16.6,426.7 17.9,433.3 19.1,440.0 C20.4,446.7 21.7,453.3 23.0,460.0 C24.2,466.7 25.5,473.3 26.8,480.0 C28.1,486.7 29.4,493.3 30.7,500.0 C32.0,506.7 33.2,513.3 34.5,520.0 C35.7,526.7 37.0,533.3 38.2,540.0 C39.4,546.7 40.7,553.3 41.8,560.0 C43.0,566.7 44.2,573.3 45.3,580.0 C46.4,586.7 47.5,593.3 48.6,600.0 C49.6,606.7 50.6,613.3 51.6,620.0 C52.5,626.7 53.4,633.3 54.3,640.0 C55.1,646.7 55.9,653.3 56.6,660.0 C57.3,666.7 57.9,673.3 58.4,680.0 C58.9,686.7 59.4,693.3 59.6,700.0 C59.9,706.7 60.1,713.3 60.1,720.0 C60.1,726.7 60.0,733.3 59.7,740.0 C59.4,746.7 58.4,756.7 58.1,760.0" fill="none" stroke="url(#gThin)" stroke-width="0.8"/><path d="M20.2,-20.0 C20.0,-16.7 19.6,-6.7 19.1,0.0 C18.6,6.7 17.8,13.3 17.0,20.0 C16.2,26.7 15.3,33.3 14.3,40.0 C13.3,46.7 12.3,53.3 11.2,60.0 C10.2,66.7 9.1,73.3 8.0,80.0 C7.0,86.7 5.9,93.3 5.0,100.0 C4.0,106.7 3.0,113.3 2.2,120.0 C1.3,126.7 0.5,133.3 -0.3,140.0 C-1.0,146.7 -1.6,153.3 -2.2,160.0 C-2.7,166.7 -3.2,173.3 -3.6,180.0 C-3.9,186.7 -4.2,193.3 -4.4,200.0 C-4.6,206.7 -4.6,213.3 -4.6,220.0 C-4.6,226.7 -4.5,233.3 -4.3,240.0 C-4.1,246.7 -3.8,253.3 -3.4,260.0 C-3.0,266.7 -2.5,273.3 -2.0,280.0 C-1.4,286.7 -0.8,293.3 -0.1,300.0 C0.6,306.7 1.4,313.3 2.3,320.0 C3.1,326.7 4.0,333.3 5.0,340.0 C6.0,346.7 7.0,353.3 8.1,360.0 C9.1,366.7 10.3,373.3 11.4,380.0 C12.6,386.7 13.8,393.3 15.0,400.0 C16.2,406.7 17.5,413.3 18.7,420.0 C20.0,426.7 21.3,433.3 22.6,440.0 C23.9,446.7 25.2,453.3 26.6,460.0 C27.9,466.7 29.2,473.3 30.6,480.0 C31.9,486.7 33.2,493.3 34.6,500.0 C35.9,506.7 37.2,513.3 38.5,520.0 C39.8,526.7 41.1,533.3 42.4,540.0 C43.7,546.7 44.9,553.3 46.2,560.0 C47.4,566.7 48.6,573.3 49.8,580.0 C50.9,586.7 52.0,593.3 53.1,600.0 C54.2,606.7 55.2,613.3 56.2,620.0 C57.2,626.7 58.1,633.3 59.0,640.0 C59.8,646.7 60.6,653.3 61.3,660.0 C62.0,666.7 62.7,673.3 63.2,680.0 C63.7,686.7 64.2,693.3 64.4,700.0 C64.7,706.7 64.9,713.3 64.9,720.0 C65.0,726.7 64.8,733.3 64.5,740.0 C64.2,746.7 63.3,756.7 63.0,760.0" fill="none" stroke="url(#gThin)" stroke-width="0.8"/><path d="M21.9,-20.0 C21.7,-16.7 21.3,-6.7 20.8,0.0 C20.2,6.7 19.5,13.3 18.7,20.0 C17.9,26.7 16.9,33.3 16.0,40.0 C15.1,46.7 14.0,53.3 13.0,60.0 C12.0,66.7 11.0,73.3 10.0,80.0 C9.0,86.7 8.0,93.3 7.1,100.0 C6.1,106.7 5.2,113.3 4.4,120.0 C3.6,126.7 2.8,133.3 2.1,140.0 C1.5,146.7 0.8,153.3 0.3,160.0 C-0.2,166.7 -0.6,173.3 -1.0,180.0 C-1.3,186.7 -1.5,193.3 -1.7,200.0 C-1.8,206.7 -1.9,213.3 -1.9,220.0 C-1.8,226.7 -1.7,233.3 -1.5,240.0 C-1.2,246.7 -0.9,253.3 -0.5,260.0 C-0.1,266.7 0.4,273.3 0.9,280.0 C1.5,286.7 2.2,293.3 2.9,300.0 C3.6,306.7 4.4,313.3 5.3,320.0 C6.1,326.7 7.1,333.3 8.0,340.0 C9.0,346.7 10.1,353.3 11.2,360.0 C12.2,366.7 13.4,373.3 14.6,380.0 C15.8,386.7 17.0,393.3 18.2,400.0 C19.5,406.7 20.8,413.3 22.1,420.0 C23.4,426.7 24.7,433.3 26.1,440.0 C27.4,446.7 28.8,453.3 30.2,460.0 C31.6,466.7 32.9,473.3 34.3,480.0 C35.7,486.7 37.1,493.3 38.5,500.0 C39.8,506.7 41.2,513.3 42.6,520.0 C43.9,526.7 45.3,533.3 46.6,540.0 C47.9,546.7 49.2,553.3 50.5,560.0 C51.8,566.7 53.0,573.3 54.2,580.0 C55.4,586.7 56.6,593.3 57.7,600.0 C58.8,606.7 59.9,613.3 60.9,620.0 C61.9,626.7 62.8,633.3 63.7,640.0 C64.6,646.7 65.4,653.3 66.1,660.0 C66.8,666.7 67.5,673.3 68.0,680.0 C68.5,686.7 68.9,693.3 69.2,700.0 C69.5,706.7 69.7,713.3 69.8,720.0 C69.8,726.7 69.7,733.3 69.4,740.0 C69.1,746.7 68.2,756.7 67.9,760.0" fill="none" stroke="url(#gThin)" stroke-width="0.8"/><path d="M23.7,-20.0 C23.5,-16.7 23.0,-6.7 22.4,0.0 C21.8,6.7 21.1,13.3 20.3,20.0 C19.5,26.7 18.6,33.3 17.7,40.0 C16.8,46.7 15.8,53.3 14.8,60.0 C13.9,66.7 12.9,73.3 11.9,80.0 C11.0,86.7 10.0,93.3 9.2,100.0 C8.3,106.7 7.4,113.3 6.7,120.0 C5.9,126.7 5.2,133.3 4.5,140.0 C3.9,146.7 3.3,153.3 2.8,160.0 C2.4,166.7 2.0,173.3 1.7,180.0 C1.4,186.7 1.1,193.3 1.0,200.0 C0.9,206.7 0.8,213.3 0.9,220.0 C1.0,226.7 1.1,233.3 1.4,240.0 C1.6,246.7 1.9,253.3 2.3,260.0 C2.7,266.7 3.3,273.3 3.8,280.0 C4.4,286.7 5.1,293.3 5.8,300.0 C6.5,306.7 7.4,313.3 8.2,320.0 C9.1,326.7 10.1,333.3 11.1,340.0 C12.1,346.7 13.1,353.3 14.3,360.0 C15.4,366.7 16.5,373.3 17.7,380.0 C19.0,386.7 20.2,393.3 21.5,400.0 C22.8,406.7 24.1,413.3 25.5,420.0 C26.8,426.7 28.2,433.3 29.6,440.0 C31.0,446.7 32.4,453.3 33.8,460.0 C35.2,466.7 36.7,473.3 38.1,480.0 C39.5,486.7 40.9,493.3 42.4,500.0 C43.8,506.7 45.2,513.3 46.6,520.0 C48.0,526.7 49.4,533.3 50.8,540.0 C52.2,546.7 53.5,553.3 54.8,560.0 C56.1,566.7 57.4,573.3 58.7,580.0 C59.9,586.7 61.1,593.3 62.2,600.0 C63.4,606.7 64.5,613.3 65.5,620.0 C66.5,626.7 67.5,633.3 68.4,640.0 C69.3,646.7 70.1,653.3 70.9,660.0 C71.6,666.7 72.2,673.3 72.8,680.0 C73.3,686.7 73.7,693.3 74.0,700.0 C74.3,706.7 74.5,713.3 74.6,720.0 C74.6,726.7 74.5,733.3 74.2,740.0 C73.9,746.7 73.1,756.7 72.8,760.0" fill="none" stroke="url(#gThin)" stroke-width="0.8"/><path d="M25.5,-20.0 C25.3,-16.7 24.6,-6.7 24.1,0.0 C23.5,6.7 22.7,13.3 21.9,20.0 C21.2,26.7 20.3,33.3 19.4,40.0 C18.5,46.7 17.6,53.3 16.6,60.0 C15.7,66.7 14.8,73.3 13.9,80.0 C13.0,86.7 12.1,93.3 11.3,100.0 C10.5,106.7 9.6,113.3 8.9,120.0 C8.2,126.7 7.5,133.3 6.9,140.0 C6.3,146.7 5.8,153.3 5.4,160.0 C4.9,166.7 4.6,173.3 4.3,180.0 C4.0,186.7 3.8,193.3 3.7,200.0 C3.6,206.7 3.6,213.3 3.7,220.0 C3.7,226.7 3.9,233.3 4.2,240.0 C4.4,246.7 4.8,253.3 5.2,260.0 C5.6,266.7 6.1,273.3 6.7,280.0 C7.3,286.7 8.0,293.3 8.8,300.0 C9.5,306.7 10.3,313.3 11.2,320.0 C12.1,326.7 13.1,333.3 14.1,340.0 C15.1,346.7 16.2,353.3 17.3,360.0 C18.5,366.7 19.7,373.3 20.9,380.0 C22.1,386.7 23.4,393.3 24.8,400.0 C26.1,406.7 27.4,413.3 28.8,420.0 C30.2,426.7 31.6,433.3 33.1,440.0 C34.5,446.7 35.9,453.3 37.4,460.0 C38.9,466.7 40.4,473.3 41.8,480.0 C43.3,486.7 44.8,493.3 46.3,500.0 C47.7,506.7 49.2,513.3 50.7,520.0 C52.1,526.7 53.6,533.3 55.0,540.0 C56.4,546.7 57.8,553.3 59.1,560.0 C60.5,566.7 61.8,573.3 63.1,580.0 C64.4,586.7 65.6,593.3 66.8,600.0 C68.0,606.7 69.1,613.3 70.2,620.0 C71.2,626.7 72.2,633.3 73.1,640.0 C74.0,646.7 74.9,653.3 75.6,660.0 C76.3,666.7 77.0,673.3 77.5,680.0 C78.1,686.7 78.5,693.3 78.8,700.0 C79.1,706.7 79.3,713.3 79.4,720.0 C79.4,726.7 79.3,733.3 79.1,740.0 C78.8,746.7 78.0,756.7 77.7,760.0" fill="none" stroke="url(#gThin)" stroke-width="0.8"/><path d="M14.9,-40.0 C15.1,-36.7 15.9,-26.7 16.0,-20.0 C16.1,-13.3 15.7,-6.7 15.3,0.0 C14.8,6.7 14.1,13.3 13.2,20.0 C12.4,26.7 11.4,33.3 10.3,40.0 C9.3,46.7 8.1,53.3 7.0,60.0 C5.8,66.7 4.6,73.3 3.5,80.0 C2.3,86.7 1.1,93.3 0.0,100.0 C-1.1,106.7 -2.1,113.3 -3.1,120.0 C-4.1,126.7 -5.0,133.3 -5.8,140.0 C-6.7,146.7 -7.4,153.3 -8.0,160.0 C-8.7,166.7 -9.2,173.3 -9.7,180.0 C-10.1,186.7 -10.5,193.3 -10.7,200.0 C-10.9,206.7 -11.0,213.3 -11.1,220.0 C-11.1,226.7 -11.0,233.3 -10.9,240.0 C-10.7,246.7 -10.4,253.3 -10.1,260.0 C-9.7,266.7 -9.3,273.3 -8.7,280.0 C-8.2,286.7 -7.6,293.3 -6.9,300.0 C-6.2,306.7 -5.5,313.3 -4.7,320.0 C-3.9,326.7 -3.0,333.3 -2.1,340.0 C-1.1,346.7 -0.2,353.3 0.8,360.0 C1.9,366.7 2.9,373.3 4.0,380.0 C5.1,386.7 6.2,393.3 7.4,400.0 C8.5,406.7 9.7,413.3 10.9,420.0 C12.1,426.7 13.3,433.3 14.5,440.0 C15.7,446.7 16.9,453.3 18.1,460.0 C19.4,466.7 20.6,473.3 21.8,480.0 C23.0,486.7 24.3,493.3 25.5,500.0 C26.7,506.7 27.9,513.3 29.1,520.0 C30.3,526.7 31.5,533.3 32.6,540.0 C33.8,546.7 34.9,553.3 36.1,560.0 C37.2,566.7 38.3,573.3 39.4,580.0 C40.4,586.7 41.5,593.3 42.5,600.0 C43.5,606.7 44.5,613.3 45.4,620.0 C46.3,626.7 47.2,633.3 48.0,640.0 C48.8,646.7 49.6,653.3 50.3,660.0 C50.9,666.7 51.5,673.3 52.0,680.0 C52.5,686.7 53.0,693.3 53.2,700.0 C53.5,706.7 53.7,713.3 53.7,720.0 C53.7,726.7 53.6,733.3 53.2,740.0 C52.9,746.7 51.8,756.7 51.6,760.0" fill="none" stroke="#c0e070" stroke-width="1.1" stroke-opacity="0.8"/></g></g>
<path d="M50.8,-40.0 C50.2,-36.7 48.1,-26.7 46.9,-20.0 C45.7,-13.3 44.7,-6.7 43.7,0.0 C42.8,6.7 42.0,13.3 41.2,20.0 C40.5,26.7 39.8,33.3 39.2,40.0 C38.6,46.7 38.0,53.3 37.5,60.0 C37.0,66.7 36.6,73.3 36.2,80.0 C35.7,86.7 35.4,93.3 35.0,100.0 C34.7,106.7 34.4,113.3 34.1,120.0 C33.9,126.7 33.7,133.3 33.5,140.0 C33.3,146.7 33.2,153.3 33.1,160.0 C33.0,166.7 33.0,173.3 33.0,180.0 C33.0,186.7 33.1,193.3 33.2,200.0 C33.3,206.7 33.5,213.3 33.8,220.0 C34.0,226.7 34.3,233.3 34.7,240.0 C35.1,246.7 35.6,253.3 36.1,260.0 C36.7,266.7 37.3,273.3 37.9,280.0 C38.6,286.7 39.4,293.3 40.2,300.0 C41.1,306.7 42.0,313.3 43.0,320.0 C44.0,326.7 45.1,333.3 46.3,340.0 C47.4,346.7 48.7,353.3 50.0,360.0 C51.3,366.7 52.7,373.3 54.1,380.0 C55.5,386.7 57.1,393.3 58.6,400.0 C60.2,406.7 61.8,413.3 63.5,420.0 C65.2,426.7 66.9,433.3 68.7,440.0 C70.4,446.7 72.2,453.3 74.0,460.0 C75.8,466.7 77.7,473.3 79.5,480.0 C81.3,486.7 83.2,493.3 85.0,500.0 C86.9,506.7 88.7,513.3 90.5,520.0 C92.3,526.7 94.1,533.3 95.8,540.0 C97.5,546.7 99.2,553.3 100.8,560.0 C102.5,566.7 104.1,573.3 105.6,580.0 C107.1,586.7 108.5,593.3 109.9,600.0 C111.2,606.7 112.5,613.3 113.7,620.0 C114.9,626.7 116.0,633.3 116.9,640.0 C117.9,646.7 118.8,653.3 119.6,660.0 C120.4,666.7 121.1,673.3 121.8,680.0 C122.4,686.7 122.9,693.3 123.3,700.0 C123.8,706.7 124.1,713.3 124.4,720.0 C124.7,726.7 124.9,733.3 125.2,740.0 C125.4,746.7 125.6,756.7 125.7,760.0 L128.4,760.0 C128.4,756.7 128.2,746.7 128.1,740.0 C128.0,733.3 127.8,726.7 127.6,720.0 C127.4,713.3 127.1,706.7 126.7,700.0 C126.4,693.3 125.9,686.7 125.4,680.0 C124.9,673.3 124.2,666.7 123.5,660.0 C122.8,653.3 122.0,646.7 121.0,640.0 C120.1,633.3 119.1,626.7 118.0,620.0 C116.9,613.3 115.7,606.7 114.4,600.0 C113.1,593.3 111.7,586.7 110.3,580.0 C108.9,573.3 107.3,566.7 105.8,560.0 C104.2,553.3 102.6,546.7 100.9,540.0 C99.3,533.3 97.5,526.7 95.8,520.0 C94.1,513.3 92.3,506.7 90.5,500.0 C88.8,493.3 87.0,486.7 85.2,480.0 C83.4,473.3 81.7,466.7 79.9,460.0 C78.2,453.3 76.4,446.7 74.7,440.0 C73.0,433.3 71.4,426.7 69.7,420.0 C68.1,413.3 66.6,406.7 65.0,400.0 C63.5,393.3 62.1,386.7 60.7,380.0 C59.3,373.3 57.9,366.7 56.7,360.0 C55.4,353.3 54.3,346.7 53.1,340.0 C52.0,333.3 51.0,326.7 50.0,320.0 C49.1,313.3 48.2,306.7 47.4,300.0 C46.6,293.3 45.9,286.7 45.3,280.0 C44.6,273.3 44.1,266.7 43.6,260.0 C43.1,253.3 42.7,246.7 42.3,240.0 C42.0,233.3 41.7,226.7 41.5,220.0 C41.3,213.3 41.1,206.7 41.1,200.0 C41.0,193.3 40.9,186.7 41.0,180.0 C41.0,173.3 41.1,166.7 41.2,160.0 C41.3,153.3 41.5,146.7 41.7,140.0 C41.9,133.3 42.1,126.7 42.4,120.0 C42.7,113.3 43.1,106.7 43.4,100.0 C43.8,93.3 44.2,86.7 44.6,80.0 C45.1,73.3 45.6,66.7 46.1,60.0 C46.6,53.3 47.2,46.7 47.9,40.0 C48.5,33.3 49.2,26.7 50.0,20.0 C50.8,13.3 51.6,6.7 52.6,0.0 C53.5,-6.7 54.6,-13.3 55.8,-20.0 C57.0,-26.7 59.1,-36.7 59.8,-40.0 Z" fill="#fff35c" filter="url(#fb0)"/></g>
<g id="waves"><g style="mix-blend-mode:multiply"><g fill="none" stroke="url(#gW1)" stroke-width="0.8"><path d="M-40.0,730.0 C-36.7,728.6 -26.7,724.6 -20.0,721.9 C-13.3,719.1 -6.7,716.2 0.0,713.5 C6.7,710.8 13.3,708.4 20.0,705.8 C26.7,703.3 33.3,700.4 40.0,698.2 C46.7,696.0 53.3,694.0 60.0,692.4 C66.7,690.8 73.3,689.7 80.0,688.4 C86.7,687.2 93.3,686.0 100.0,685.0 C106.7,684.0 113.3,683.1 120.0,682.2 C126.7,681.3 133.3,680.5 140.0,679.7 C146.7,678.8 153.3,677.8 160.0,677.0 C166.7,676.2 173.3,675.7 180.0,675.0 C186.7,674.3 193.3,673.6 200.0,672.9 C206.7,672.2 213.3,671.4 220.0,670.8 C226.7,670.1 233.3,669.5 240.0,668.9 C246.7,668.2 253.3,667.4 260.0,666.7 C266.7,666.0 273.3,665.3 280.0,664.6 C286.7,663.9 293.3,663.2 300.0,662.5 C306.7,661.8 313.3,661.3 320.0,660.7 C326.7,660.0 333.3,659.5 340.0,658.7 C346.7,657.9 353.3,656.9 360.0,656.0 C366.7,655.1 373.3,654.5 380.0,653.6 C386.7,652.7 393.3,651.7 400.0,650.7 C406.7,649.7 413.3,648.6 420.0,647.6 C426.7,646.6 433.3,645.6 440.0,644.7 C446.7,643.9 453.3,643.2 460.0,642.5 C466.7,641.8 473.3,641.0 480.0,640.4 C486.7,639.9 493.3,639.5 500.0,639.1 C506.7,638.8 513.3,638.6 520.0,638.3 C526.7,638.1 533.3,637.9 540.0,637.8 C546.7,637.6 553.3,637.5 560.0,637.4 C566.7,637.2 573.3,637.1 580.0,637.0 C586.7,636.9 593.3,636.9 600.0,636.9 C606.7,637.0 613.3,637.0 620.0,637.2 C626.7,637.4 633.3,637.5 640.0,638.0 C646.7,638.5 653.3,639.3 660.0,640.2 C666.7,641.1 673.3,642.3 680.0,643.4 C686.7,644.6 693.3,645.8 700.0,646.9 C706.7,648.0 713.3,648.8 720.0,650.0 C726.7,651.2 733.3,652.9 740.0,654.4 C746.7,655.9 753.3,657.1 760.0,659.0 C766.7,660.9 773.3,663.3 780.0,665.5 C786.7,667.8 793.3,670.3 800.0,672.5 C806.7,674.7 813.3,676.9 820.0,678.9 C826.7,681.0 833.3,683.1 840.0,685.0 C846.7,686.9 853.3,688.7 860.0,690.4 C866.7,692.2 873.3,693.8 880.0,695.5 C886.7,697.2 893.3,698.8 900.0,700.3 C906.7,701.9 913.3,702.7 920.0,705.0 C926.7,707.3 933.3,711.0 940.0,714.0 C946.7,717.0 953.3,719.4 960.0,722.7 C966.7,726.0 973.3,730.1 980.0,733.9 C986.7,737.6 996.7,743.1 1000.0,745.0"/><path d="M-40.0,734.8 C-36.7,733.3 -26.7,729.1 -20.0,726.1 C-13.3,723.2 -6.7,719.9 0.0,717.1 C6.7,714.3 13.3,711.9 20.0,709.3 C26.7,706.6 33.3,703.7 40.0,701.3 C46.7,698.9 53.3,696.8 60.0,695.0 C66.7,693.2 73.3,691.8 80.0,690.4 C86.7,688.9 93.3,687.5 100.0,686.3 C106.7,685.1 113.3,684.0 120.0,683.0 C126.7,681.9 133.3,681.0 140.0,680.0 C146.7,679.0 153.3,678.0 160.0,677.1 C166.7,676.3 173.3,675.8 180.0,675.0 C186.7,674.3 193.3,673.6 200.0,672.9 C206.7,672.2 213.3,671.5 220.0,670.8 C226.7,670.1 233.3,669.5 240.0,668.9 C246.7,668.2 253.3,667.4 260.0,666.7 C266.7,666.0 273.3,665.3 280.0,664.6 C286.7,663.9 293.3,663.2 300.0,662.5 C306.7,661.8 313.3,661.3 320.0,660.7 C326.7,660.0 333.3,659.5 340.0,658.7 C346.7,658.0 353.3,656.9 360.0,656.0 C366.7,655.2 373.3,654.5 380.0,653.7 C386.7,652.8 393.3,651.8 400.0,650.9 C406.7,650.0 413.3,649.0 420.0,648.1 C426.7,647.3 433.3,646.5 440.0,645.8 C446.7,645.2 453.3,644.7 460.0,644.2 C466.7,643.7 473.3,643.1 480.0,642.7 C486.7,642.3 493.3,642.1 500.0,641.9 C506.7,641.6 513.3,641.5 520.0,641.3 C526.7,641.1 533.3,641.0 540.0,640.9 C546.7,640.7 553.3,640.6 560.0,640.4 C566.7,640.3 573.3,640.1 580.0,640.0 C586.7,639.9 593.3,639.8 600.0,639.8 C606.7,639.8 613.3,639.9 620.0,640.0 C626.7,640.1 633.3,640.2 640.0,640.7 C646.7,641.1 653.3,641.9 660.0,642.7 C666.7,643.5 673.3,644.6 680.0,645.7 C686.7,646.7 693.3,647.9 700.0,648.9 C706.7,650.0 713.3,650.6 720.0,651.8 C726.7,653.0 733.3,654.5 740.0,656.0 C746.7,657.4 753.3,658.6 760.0,660.3 C766.7,662.1 773.3,664.4 780.0,666.6 C786.7,668.7 793.3,671.1 800.0,673.3 C806.7,675.4 813.3,677.5 820.0,679.5 C826.7,681.5 833.3,683.5 840.0,685.4 C846.7,687.2 853.3,689.0 860.0,690.7 C866.7,692.4 873.3,694.0 880.0,695.7 C886.7,697.3 893.3,698.9 900.0,700.5 C906.7,702.1 913.3,703.0 920.0,705.2 C926.7,707.5 933.3,711.3 940.0,714.2 C946.7,717.1 953.3,719.6 960.0,722.9 C966.7,726.2 973.3,730.3 980.0,734.0 C986.7,737.7 996.7,743.3 1000.0,745.1"/><path d="M-40.0,739.5 C-36.7,738.0 -26.7,733.5 -20.0,730.4 C-13.3,727.3 -6.7,723.7 0.0,720.7 C6.7,717.8 13.3,715.4 20.0,712.7 C26.7,710.0 33.3,707.0 40.0,704.5 C46.7,702.0 53.3,699.7 60.0,697.8 C66.7,695.8 73.3,694.2 80.0,692.6 C86.7,690.9 93.3,689.3 100.0,687.9 C106.7,686.5 113.3,685.3 120.0,684.1 C126.7,682.9 133.3,681.7 140.0,680.6 C146.7,679.5 153.3,678.4 160.0,677.5 C166.7,676.6 173.3,676.0 180.0,675.2 C186.7,674.4 193.3,673.7 200.0,672.9 C206.7,672.2 213.3,671.5 220.0,670.8 C226.7,670.1 233.3,669.5 240.0,668.9 C246.7,668.2 253.3,667.4 260.0,666.7 C266.7,666.0 273.3,665.3 280.0,664.6 C286.7,663.9 293.3,663.2 300.0,662.5 C306.7,661.9 313.3,661.3 320.0,660.7 C326.7,660.1 333.3,659.5 340.0,658.8 C346.7,658.0 353.3,656.9 360.0,656.1 C366.7,655.3 373.3,654.7 380.0,653.9 C386.7,653.1 393.3,652.2 400.0,651.4 C406.7,650.6 413.3,649.8 420.0,649.2 C426.7,648.5 433.3,647.9 440.0,647.4 C446.7,646.9 453.3,646.7 460.0,646.3 C466.7,646.0 473.3,645.6 480.0,645.3 C486.7,645.0 493.3,644.9 500.0,644.7 C506.7,644.6 513.3,644.5 520.0,644.3 C526.7,644.2 533.3,644.1 540.0,644.0 C546.7,643.8 553.3,643.7 560.0,643.5 C566.7,643.4 573.3,643.2 580.0,643.1 C586.7,642.9 593.3,642.8 600.0,642.8 C606.7,642.7 613.3,642.7 620.0,642.8 C626.7,642.9 633.3,642.9 640.0,643.3 C646.7,643.7 653.3,644.4 660.0,645.2 C666.7,645.9 673.3,647.0 680.0,647.9 C686.7,648.9 693.3,650.0 700.0,650.9 C706.7,651.9 713.3,652.5 720.0,653.6 C726.7,654.7 733.3,656.2 740.0,657.5 C746.7,658.9 753.3,660.0 760.0,661.7 C766.7,663.4 773.3,665.6 780.0,667.6 C786.7,669.7 793.3,672.0 800.0,674.0 C806.7,676.1 813.3,678.1 820.0,680.0 C826.7,682.0 833.3,683.9 840.0,685.7 C846.7,687.5 853.3,689.2 860.0,690.9 C866.7,692.6 873.3,694.2 880.0,695.8 C886.7,697.5 893.3,699.1 900.0,700.7 C906.7,702.3 913.3,703.2 920.0,705.5 C926.7,707.8 933.3,711.5 940.0,714.4 C946.7,717.3 953.3,719.8 960.0,723.1 C966.7,726.4 973.3,730.5 980.0,734.2 C986.7,737.9 996.7,743.4 1000.0,745.3"/><path d="M-40.0,744.3 C-36.7,742.7 -26.7,738.0 -20.0,734.7 C-13.3,731.4 -6.7,727.4 0.0,724.3 C6.7,721.3 13.3,719.0 20.0,716.2 C26.7,713.4 33.3,710.3 40.0,707.7 C46.7,705.1 53.3,702.7 60.0,700.6 C66.7,698.4 73.3,696.7 80.0,694.9 C86.7,693.1 93.3,691.3 100.0,689.7 C106.7,688.1 113.3,686.8 120.0,685.4 C126.7,684.0 133.3,682.6 140.0,681.4 C146.7,680.2 153.3,679.0 160.0,678.0 C166.7,677.0 173.3,676.3 180.0,675.5 C186.7,674.6 193.3,673.8 200.0,673.1 C206.7,672.3 213.3,671.6 220.0,670.9 C226.7,670.2 233.3,669.6 240.0,668.9 C246.7,668.2 253.3,667.4 260.0,666.7 C266.7,666.0 273.3,665.3 280.0,664.6 C286.7,663.9 293.3,663.2 300.0,662.5 C306.7,661.9 313.3,661.3 320.0,660.7 C326.7,660.1 333.3,659.6 340.0,658.9 C346.7,658.1 353.3,657.1 360.0,656.3 C366.7,655.6 373.3,655.0 380.0,654.3 C386.7,653.7 393.3,652.9 400.0,652.2 C406.7,651.6 413.3,650.9 420.0,650.5 C426.7,650.0 433.3,649.6 440.0,649.3 C446.7,649.0 453.3,648.9 460.0,648.7 C466.7,648.5 473.3,648.2 480.0,648.0 C486.7,647.9 493.3,647.8 500.0,647.7 C506.7,647.6 513.3,647.5 520.0,647.4 C526.7,647.3 533.3,647.2 540.0,647.1 C546.7,646.9 553.3,646.8 560.0,646.6 C566.7,646.4 573.3,646.2 580.0,646.1 C586.7,645.9 593.3,645.8 600.0,645.7 C606.7,645.6 613.3,645.5 620.0,645.6 C626.7,645.6 633.3,645.7 640.0,646.0 C646.7,646.3 653.3,646.9 660.0,647.6 C666.7,648.3 673.3,649.3 680.0,650.2 C686.7,651.0 693.3,652.1 700.0,652.9 C706.7,653.8 713.3,654.4 720.0,655.4 C726.7,656.4 733.3,657.8 740.0,659.1 C746.7,660.3 753.3,661.4 760.0,663.0 C766.7,664.6 773.3,666.7 780.0,668.7 C786.7,670.7 793.3,672.8 800.0,674.8 C806.7,676.8 813.3,678.7 820.0,680.6 C826.7,682.4 833.3,684.3 840.0,686.1 C846.7,687.8 853.3,689.5 860.0,691.1 C866.7,692.8 873.3,694.4 880.0,696.0 C886.7,697.6 893.3,699.3 900.0,700.9 C906.7,702.5 913.3,703.4 920.0,705.7 C926.7,708.0 933.3,711.7 940.0,714.6 C946.7,717.5 953.3,719.9 960.0,723.2 C966.7,726.5 973.3,730.6 980.0,734.3 C986.7,738.0 996.7,743.6 1000.0,745.4"/><path d="M-40.0,749.0 C-36.7,747.4 -26.7,742.5 -20.0,739.0 C-13.3,735.4 -6.7,731.2 0.0,728.0 C6.7,724.8 13.3,722.5 20.0,719.7 C26.7,716.9 33.3,713.7 40.0,711.0 C46.7,708.2 53.3,705.7 60.0,703.4 C66.7,701.1 73.3,699.2 80.0,697.2 C86.7,695.3 93.3,693.3 100.0,691.6 C106.7,689.8 113.3,688.4 120.0,686.8 C126.7,685.3 133.3,683.7 140.0,682.3 C146.7,681.0 153.3,679.7 160.0,678.6 C166.7,677.5 173.3,676.7 180.0,675.8 C186.7,674.9 193.3,674.1 200.0,673.3 C206.7,672.4 213.3,671.7 220.0,671.0 C226.7,670.2 233.3,669.6 240.0,668.9 C246.7,668.2 253.3,667.5 260.0,666.8 C266.7,666.0 273.3,665.4 280.0,664.7 C286.7,664.0 293.3,663.2 300.0,662.6 C306.7,662.0 313.3,661.4 320.0,660.8 C326.7,660.2 333.3,659.7 340.0,659.0 C346.7,658.3 353.3,657.3 360.0,656.6 C366.7,656.0 373.3,655.5 380.0,654.9 C386.7,654.4 393.3,653.7 400.0,653.2 C406.7,652.8 413.3,652.3 420.0,652.0 C426.7,651.7 433.3,651.5 440.0,651.3 C446.7,651.2 453.3,651.3 460.0,651.2 C466.7,651.1 473.3,650.9 480.0,650.8 C486.7,650.8 493.3,650.8 500.0,650.7 C506.7,650.7 513.3,650.6 520.0,650.5 C526.7,650.4 533.3,650.3 540.0,650.2 C546.7,650.1 553.3,649.9 560.0,649.7 C566.7,649.5 573.3,649.3 580.0,649.1 C586.7,648.9 593.3,648.7 600.0,648.6 C606.7,648.5 613.3,648.4 620.0,648.4 C626.7,648.4 633.3,648.4 640.0,648.7 C646.7,649.0 653.3,649.5 660.0,650.1 C666.7,650.7 673.3,651.6 680.0,652.4 C686.7,653.2 693.3,654.1 700.0,655.0 C706.7,655.8 713.3,656.3 720.0,657.2 C726.7,658.2 733.3,659.4 740.0,660.6 C746.7,661.8 753.3,662.8 760.0,664.3 C766.7,665.9 773.3,667.9 780.0,669.7 C786.7,671.6 793.3,673.7 800.0,675.6 C806.7,677.5 813.3,679.3 820.0,681.1 C826.7,682.9 833.3,684.7 840.0,686.4 C846.7,688.1 853.3,689.7 860.0,691.4 C866.7,693.0 873.3,694.5 880.0,696.2 C886.7,697.8 893.3,699.5 900.0,701.1 C906.7,702.7 913.3,703.7 920.0,706.0 C926.7,708.2 933.3,711.9 940.0,714.8 C946.7,717.7 953.3,720.1 960.0,723.4 C966.7,726.7 973.3,730.8 980.0,734.5 C986.7,738.2 996.7,743.7 1000.0,745.6"/><path d="M-40.0,753.8 C-36.7,752.0 -26.7,746.9 -20.0,743.2 C-13.3,739.5 -6.7,735.0 0.0,731.6 C6.7,728.3 13.3,726.1 20.0,723.2 C26.7,720.3 33.3,717.0 40.0,714.2 C46.7,711.4 53.3,708.7 60.0,706.3 C66.7,703.9 73.3,701.8 80.0,699.7 C86.7,697.5 93.3,695.4 100.0,693.5 C106.7,691.7 113.3,690.1 120.0,688.4 C126.7,686.7 133.3,684.9 140.0,683.4 C146.7,681.9 153.3,680.5 160.0,679.4 C166.7,678.2 173.3,677.3 180.0,676.3 C186.7,675.4 193.3,674.4 200.0,673.5 C206.7,672.7 213.3,671.9 220.0,671.1 C226.7,670.4 233.3,669.7 240.0,669.0 C246.7,668.3 253.3,667.5 260.0,666.8 C266.7,666.1 273.3,665.4 280.0,664.8 C286.7,664.1 293.3,663.3 300.0,662.7 C306.7,662.1 313.3,661.6 320.0,661.0 C326.7,660.4 333.3,659.9 340.0,659.3 C346.7,658.6 353.3,657.7 360.0,657.1 C366.7,656.5 373.3,656.2 380.0,655.7 C386.7,655.3 393.3,654.8 400.0,654.5 C406.7,654.1 413.3,653.9 420.0,653.7 C426.7,653.6 433.3,653.5 440.0,653.6 C446.7,653.6 453.3,653.7 460.0,653.8 C466.7,653.8 473.3,653.7 480.0,653.7 C486.7,653.7 493.3,653.7 500.0,653.7 C506.7,653.7 513.3,653.7 520.0,653.6 C526.7,653.6 533.3,653.5 540.0,653.3 C546.7,653.2 553.3,653.0 560.0,652.8 C566.7,652.6 573.3,652.3 580.0,652.1 C586.7,651.9 593.3,651.7 600.0,651.5 C606.7,651.4 613.3,651.2 620.0,651.2 C626.7,651.2 633.3,651.1 640.0,651.3 C646.7,651.6 653.3,652.0 660.0,652.6 C666.7,653.1 673.3,653.9 680.0,654.6 C686.7,655.4 693.3,656.2 700.0,657.0 C706.7,657.7 713.3,658.2 720.0,659.0 C726.7,659.9 733.3,661.1 740.0,662.2 C746.7,663.3 753.3,664.2 760.0,665.7 C766.7,667.1 773.3,669.0 780.0,670.8 C786.7,672.6 793.3,674.6 800.0,676.4 C806.7,678.2 813.3,679.9 820.0,681.6 C826.7,683.4 833.3,685.1 840.0,686.8 C846.7,688.4 853.3,690.0 860.0,691.6 C866.7,693.2 873.3,694.7 880.0,696.3 C886.7,698.0 893.3,699.7 900.0,701.3 C906.7,703.0 913.3,703.9 920.0,706.2 C926.7,708.5 933.3,712.1 940.0,715.0 C946.7,717.9 953.3,720.3 960.0,723.6 C966.7,726.9 973.3,731.0 980.0,734.6 C986.7,738.3 996.7,743.9 1000.0,745.7"/><path d="M-40.0,758.6 C-36.7,756.7 -26.7,751.4 -20.0,747.5 C-13.3,743.6 -6.7,738.7 0.0,735.3 C6.7,731.8 13.3,729.7 20.0,726.7 C26.7,723.7 33.3,720.4 40.0,717.5 C46.7,714.6 53.3,711.8 60.0,709.2 C66.7,706.7 73.3,704.4 80.0,702.1 C86.7,699.8 93.3,697.6 100.0,695.6 C106.7,693.6 113.3,691.8 120.0,690.0 C126.7,688.2 133.3,686.2 140.0,684.6 C146.7,683.0 153.3,681.5 160.0,680.3 C166.7,679.0 173.3,678.0 180.0,677.0 C186.7,675.9 193.3,674.9 200.0,673.9 C206.7,673.0 213.3,672.1 220.0,671.3 C226.7,670.5 233.3,669.9 240.0,669.2 C246.7,668.4 253.3,667.7 260.0,667.0 C266.7,666.2 273.3,665.6 280.0,664.9 C286.7,664.2 293.3,663.5 300.0,662.9 C306.7,662.3 313.3,661.8 320.0,661.2 C326.7,660.7 333.3,660.3 340.0,659.7 C346.7,659.1 353.3,658.3 360.0,657.8 C366.7,657.3 373.3,657.0 380.0,656.7 C386.7,656.4 393.3,656.1 400.0,655.9 C406.7,655.7 413.3,655.7 420.0,655.7 C426.7,655.7 433.3,655.8 440.0,655.9 C446.7,656.0 453.3,656.3 460.0,656.4 C466.7,656.6 473.3,656.6 480.0,656.6 C486.7,656.7 493.3,656.8 500.0,656.8 C506.7,656.8 513.3,656.8 520.0,656.8 C526.7,656.7 533.3,656.6 540.0,656.5 C546.7,656.3 553.3,656.1 560.0,655.9 C566.7,655.7 573.3,655.4 580.0,655.2 C586.7,654.9 593.3,654.6 600.0,654.4 C606.7,654.2 613.3,654.1 620.0,654.0 C626.7,653.9 633.3,653.8 640.0,654.0 C646.7,654.2 653.3,654.6 660.0,655.0 C666.7,655.5 673.3,656.2 680.0,656.9 C686.7,657.5 693.3,658.3 700.0,659.0 C706.7,659.6 713.3,660.1 720.0,660.9 C726.7,661.7 733.3,662.7 740.0,663.7 C746.7,664.7 753.3,665.6 760.0,667.0 C766.7,668.4 773.3,670.1 780.0,671.8 C786.7,673.5 793.3,675.4 800.0,677.1 C806.7,678.9 813.3,680.5 820.0,682.2 C826.7,683.9 833.3,685.5 840.0,687.1 C846.7,688.7 853.3,690.3 860.0,691.8 C866.7,693.4 873.3,694.9 880.0,696.5 C886.7,698.1 893.3,699.8 900.0,701.5 C906.7,703.2 913.3,704.2 920.0,706.4 C926.7,708.7 933.3,712.3 940.0,715.1 C946.7,718.0 953.3,720.5 960.0,723.8 C966.7,727.0 973.3,731.1 980.0,734.8 C986.7,738.5 996.7,744.0 1000.0,745.9"/><path d="M-40.0,763.3 C-36.7,761.4 -26.7,755.9 -20.0,751.8 C-13.3,747.7 -6.7,742.5 0.0,738.9 C6.7,735.3 13.3,733.2 20.0,730.2 C26.7,727.2 33.3,723.8 40.0,720.8 C46.7,717.8 53.3,714.9 60.0,712.2 C66.7,709.5 73.3,707.1 80.0,704.6 C86.7,702.2 93.3,699.8 100.0,697.7 C106.7,695.5 113.3,693.7 120.0,691.7 C126.7,689.8 133.3,687.6 140.0,685.9 C146.7,684.1 153.3,682.6 160.0,681.3 C166.7,679.9 173.3,678.8 180.0,677.7 C186.7,676.6 193.3,675.4 200.0,674.4 C206.7,673.4 213.3,672.5 220.0,671.6 C226.7,670.8 233.3,670.1 240.0,669.4 C246.7,668.6 253.3,667.8 260.0,667.1 C266.7,666.4 273.3,665.8 280.0,665.1 C286.7,664.4 293.3,663.7 300.0,663.1 C306.7,662.6 313.3,662.1 320.0,661.6 C326.7,661.1 333.3,660.7 340.0,660.2 C346.7,659.7 353.3,659.0 360.0,658.6 C366.7,658.2 373.3,658.1 380.0,657.9 C386.7,657.7 393.3,657.6 400.0,657.6 C406.7,657.5 413.3,657.6 420.0,657.8 C426.7,657.9 433.3,658.2 440.0,658.4 C446.7,658.6 453.3,659.0 460.0,659.2 C466.7,659.4 473.3,659.5 480.0,659.6 C486.7,659.7 493.3,659.8 500.0,659.9 C506.7,660.0 513.3,660.0 520.0,659.9 C526.7,659.9 533.3,659.8 540.0,659.6 C546.7,659.5 553.3,659.3 560.0,659.0 C566.7,658.8 573.3,658.5 580.0,658.2 C586.7,657.9 593.3,657.6 600.0,657.4 C606.7,657.1 613.3,656.9 620.0,656.8 C626.7,656.7 633.3,656.5 640.0,656.7 C646.7,656.8 653.3,657.1 660.0,657.5 C666.7,657.9 673.3,658.5 680.0,659.1 C686.7,659.7 693.3,660.4 700.0,661.0 C706.7,661.6 713.3,661.9 720.0,662.7 C726.7,663.4 733.3,664.3 740.0,665.3 C746.7,666.2 753.3,667.1 760.0,668.3 C766.7,669.6 773.3,671.3 780.0,672.9 C786.7,674.5 793.3,676.3 800.0,677.9 C806.7,679.6 813.3,681.1 820.0,682.7 C826.7,684.3 833.3,685.9 840.0,687.5 C846.7,689.1 853.3,690.5 860.0,692.1 C866.7,693.6 873.3,695.1 880.0,696.7 C886.7,698.3 893.3,700.0 900.0,701.7 C906.7,703.4 913.3,704.4 920.0,706.7 C926.7,708.9 933.3,712.5 940.0,715.3 C946.7,718.2 953.3,720.7 960.0,723.9 C966.7,727.2 973.3,731.3 980.0,735.0 C986.7,738.6 996.7,744.2 1000.0,746.0"/><path d="M-40.0,768.1 C-36.7,766.1 -26.7,760.3 -20.0,756.1 C-13.3,751.8 -6.7,746.3 0.0,742.5 C6.7,738.8 13.3,736.8 20.0,733.7 C26.7,730.7 33.3,727.2 40.0,724.1 C46.7,721.0 53.3,718.0 60.0,715.1 C66.7,712.3 73.3,709.7 80.0,707.2 C86.7,704.6 93.3,702.1 100.0,699.8 C106.7,697.5 113.3,695.6 120.0,693.6 C126.7,691.5 133.3,689.1 140.0,687.2 C146.7,685.4 153.3,683.9 160.0,682.4 C166.7,681.0 173.3,679.8 180.0,678.6 C186.7,677.3 193.3,676.1 200.0,675.0 C206.7,673.9 213.3,672.9 220.0,672.0 C226.7,671.1 233.3,670.4 240.0,669.7 C246.7,668.9 253.3,668.1 260.0,667.4 C266.7,666.7 273.3,666.0 280.0,665.4 C286.7,664.7 293.3,664.1 300.0,663.5 C306.7,663.0 313.3,662.5 320.0,662.1 C326.7,661.6 333.3,661.3 340.0,660.9 C346.7,660.5 353.3,659.9 360.0,659.6 C366.7,659.3 373.3,659.3 380.0,659.3 C386.7,659.3 393.3,659.3 400.0,659.4 C406.7,659.5 413.3,659.7 420.0,660.0 C426.7,660.3 433.3,660.7 440.0,661.0 C446.7,661.3 453.3,661.8 460.0,662.0 C466.7,662.3 473.3,662.4 480.0,662.6 C486.7,662.8 493.3,662.9 500.0,663.0 C506.7,663.1 513.3,663.1 520.0,663.1 C526.7,663.1 533.3,662.9 540.0,662.8 C546.7,662.6 553.3,662.4 560.0,662.1 C566.7,661.9 573.3,661.5 580.0,661.2 C586.7,660.9 593.3,660.5 600.0,660.3 C606.7,660.0 613.3,659.7 620.0,659.6 C626.7,659.4 633.3,659.3 640.0,659.3 C646.7,659.4 653.3,659.7 660.0,660.0 C666.7,660.3 673.3,660.8 680.0,661.3 C686.7,661.8 693.3,662.5 700.0,663.0 C706.7,663.5 713.3,663.8 720.0,664.5 C726.7,665.1 733.3,666.0 740.0,666.8 C746.7,667.7 753.3,668.5 760.0,669.7 C766.7,670.9 773.3,672.4 780.0,673.9 C786.7,675.4 793.3,677.1 800.0,678.7 C806.7,680.2 813.3,681.7 820.0,683.3 C826.7,684.8 833.3,686.4 840.0,687.9 C846.7,689.4 853.3,690.8 860.0,692.3 C866.7,693.8 873.3,695.2 880.0,696.8 C886.7,698.4 893.3,700.2 900.0,701.9 C906.7,703.6 913.3,704.6 920.0,706.9 C926.7,709.2 933.3,712.7 940.0,715.5 C946.7,718.4 953.3,720.8 960.0,724.1 C966.7,727.4 973.3,731.4 980.0,735.1 C986.7,738.8 996.7,744.3 1000.0,746.1"/><path d="M-40.0,772.8 C-36.7,770.8 -26.7,764.8 -20.0,760.3 C-13.3,755.9 -6.7,750.0 0.0,746.2 C6.7,742.3 13.3,740.4 20.0,737.3 C26.7,734.1 33.3,730.6 40.0,727.4 C46.7,724.2 53.3,721.1 60.0,718.1 C66.7,715.2 73.3,712.4 80.0,709.7 C86.7,707.1 93.3,704.4 100.0,702.0 C106.7,699.6 113.3,697.6 120.0,695.4 C126.7,693.2 133.3,690.6 140.0,688.7 C146.7,686.7 153.3,685.2 160.0,683.7 C166.7,682.1 173.3,680.9 180.0,679.6 C186.7,678.3 193.3,676.9 200.0,675.7 C206.7,674.6 213.3,673.5 220.0,672.5 C226.7,671.6 233.3,670.8 240.0,670.0 C246.7,669.2 253.3,668.4 260.0,667.7 C266.7,667.0 273.3,666.4 280.0,665.8 C286.7,665.2 293.3,664.5 300.0,664.0 C306.7,663.5 313.3,663.1 320.0,662.7 C326.7,662.4 333.3,662.1 340.0,661.8 C346.7,661.5 353.3,660.9 360.0,660.8 C366.7,660.6 373.3,660.8 380.0,660.9 C386.7,661.0 393.3,661.1 400.0,661.4 C406.7,661.6 413.3,662.0 420.0,662.4 C426.7,662.8 433.3,663.3 440.0,663.7 C446.7,664.1 453.3,664.6 460.0,664.9 C466.7,665.2 473.3,665.4 480.0,665.6 C486.7,665.8 493.3,666.0 500.0,666.1 C506.7,666.2 513.3,666.3 520.0,666.3 C526.7,666.2 533.3,666.1 540.0,665.9 C546.7,665.8 553.3,665.5 560.0,665.2 C566.7,665.0 573.3,664.6 580.0,664.2 C586.7,663.9 593.3,663.5 600.0,663.2 C606.7,662.9 613.3,662.6 620.0,662.4 C626.7,662.2 633.3,662.0 640.0,662.0 C646.7,662.0 653.3,662.2 660.0,662.5 C666.7,662.7 673.3,663.2 680.0,663.6 C686.7,664.0 693.3,664.5 700.0,665.0 C706.7,665.4 713.3,665.7 720.0,666.3 C726.7,666.9 733.3,667.6 740.0,668.4 C746.7,669.2 753.3,669.9 760.0,671.0 C766.7,672.1 773.3,673.6 780.0,675.0 C786.7,676.4 793.3,678.0 800.0,679.5 C806.7,680.9 813.3,682.4 820.0,683.8 C826.7,685.3 833.3,686.8 840.0,688.2 C846.7,689.7 853.3,691.1 860.0,692.5 C866.7,694.0 873.3,695.4 880.0,697.0 C886.7,698.6 893.3,700.4 900.0,702.1 C906.7,703.8 913.3,704.9 920.0,707.1 C926.7,709.4 933.3,712.9 940.0,715.7 C946.7,718.6 953.3,721.0 960.0,724.3 C966.7,727.5 973.3,731.6 980.0,735.3 C986.7,738.9 996.7,744.5 1000.0,746.3"/><path d="M-40.0,777.6 C-36.7,775.4 -26.7,769.3 -20.0,764.6 C-13.3,760.0 -6.7,753.8 0.0,749.8 C6.7,745.9 13.3,744.0 20.0,740.8 C26.7,737.6 33.3,734.0 40.0,730.7 C46.7,727.5 53.3,724.2 60.0,721.1 C66.7,718.0 73.3,715.2 80.0,712.3 C86.7,709.5 93.3,706.7 100.0,704.2 C106.7,701.7 113.3,699.7 120.0,697.4 C126.7,695.0 133.3,692.3 140.0,690.2 C146.7,688.2 153.3,686.6 160.0,685.0 C166.7,683.4 173.3,682.1 180.0,680.7 C186.7,679.3 193.3,677.8 200.0,676.6 C206.7,675.3 213.3,674.2 220.0,673.1 C226.7,672.1 233.3,671.3 240.0,670.5 C246.7,669.7 253.3,668.9 260.0,668.2 C266.7,667.5 273.3,666.9 280.0,666.3 C286.7,665.7 293.3,665.1 300.0,664.7 C306.7,664.2 313.3,663.9 320.0,663.6 C326.7,663.3 333.3,663.1 340.0,662.8 C346.7,662.6 353.3,662.3 360.0,662.2 C366.7,662.2 373.3,662.5 380.0,662.7 C386.7,662.9 393.3,663.2 400.0,663.6 C406.7,664.0 413.3,664.4 420.0,664.9 C426.7,665.4 433.3,666.0 440.0,666.5 C446.7,667.0 453.3,667.5 460.0,667.9 C466.7,668.2 473.3,668.5 480.0,668.7 C486.7,668.9 493.3,669.2 500.0,669.3 C506.7,669.4 513.3,669.5 520.0,669.4 C526.7,669.4 533.3,669.3 540.0,669.1 C546.7,668.9 553.3,668.7 560.0,668.4 C566.7,668.0 573.3,667.6 580.0,667.3 C586.7,666.9 593.3,666.5 600.0,666.1 C606.7,665.8 613.3,665.4 620.0,665.2 C626.7,664.9 633.3,664.7 640.0,664.7 C646.7,664.6 653.3,664.7 660.0,664.9 C666.7,665.1 673.3,665.5 680.0,665.8 C686.7,666.2 693.3,666.6 700.0,667.0 C706.7,667.4 713.3,667.6 720.0,668.1 C726.7,668.6 733.3,669.2 740.0,669.9 C746.7,670.6 753.3,671.3 760.0,672.3 C766.7,673.3 773.3,674.7 780.0,676.0 C786.7,677.3 793.3,678.8 800.0,680.2 C806.7,681.6 813.3,683.0 820.0,684.4 C826.7,685.8 833.3,687.2 840.0,688.6 C846.7,690.0 853.3,691.3 860.0,692.8 C866.7,694.2 873.3,695.6 880.0,697.2 C886.7,698.8 893.3,700.6 900.0,702.3 C906.7,704.0 913.3,705.1 920.0,707.4 C926.7,709.7 933.3,713.1 940.0,715.9 C946.7,718.7 953.3,721.2 960.0,724.4 C966.7,727.7 973.3,731.8 980.0,735.4 C986.7,739.1 996.7,744.6 1000.0,746.4"/><path d="M-40.0,782.4 C-36.7,780.1 -26.7,773.7 -20.0,768.9 C-13.3,764.1 -6.7,757.6 0.0,753.5 C6.7,749.4 13.3,747.5 20.0,744.3 C26.7,741.1 33.3,737.4 40.0,734.1 C46.7,730.7 53.3,727.3 60.0,724.1 C66.7,720.9 73.3,717.9 80.0,715.0 C86.7,712.0 93.3,709.1 100.0,706.5 C106.7,703.9 113.3,701.8 120.0,699.4 C126.7,696.9 133.3,694.0 140.0,691.8 C146.7,689.7 153.3,688.1 160.0,686.5 C166.7,684.8 173.3,683.5 180.0,682.0 C186.7,680.5 193.3,678.9 200.0,677.6 C206.7,676.2 213.3,675.0 220.0,673.9 C226.7,672.8 233.3,672.0 240.0,671.1 C246.7,670.2 253.3,669.5 260.0,668.8 C266.7,668.1 273.3,667.5 280.0,667.0 C286.7,666.5 293.3,665.9 300.0,665.5 C306.7,665.1 313.3,664.8 320.0,664.6 C326.7,664.4 333.3,664.3 340.0,664.1 C346.7,664.0 353.3,663.8 360.0,663.9 C366.7,664.0 373.3,664.3 380.0,664.7 C386.7,665.0 393.3,665.5 400.0,665.9 C406.7,666.4 413.3,667.0 420.0,667.6 C426.7,668.2 433.3,668.8 440.0,669.3 C446.7,669.9 453.3,670.4 460.0,670.9 C466.7,671.3 473.3,671.5 480.0,671.8 C486.7,672.1 493.3,672.3 500.0,672.4 C506.7,672.6 513.3,672.6 520.0,672.6 C526.7,672.6 533.3,672.5 540.0,672.3 C546.7,672.1 553.3,671.8 560.0,671.5 C566.7,671.1 573.3,670.7 580.0,670.3 C586.7,669.9 593.3,669.4 600.0,669.0 C606.7,668.6 613.3,668.2 620.0,668.0 C626.7,667.7 633.3,667.4 640.0,667.3 C646.7,667.2 653.3,667.3 660.0,667.4 C666.7,667.5 673.3,667.8 680.0,668.1 C686.7,668.3 693.3,668.7 700.0,669.0 C706.7,669.3 713.3,669.5 720.0,669.9 C726.7,670.3 733.3,670.9 740.0,671.5 C746.7,672.1 753.3,672.7 760.0,673.7 C766.7,674.6 773.3,675.9 780.0,677.1 C786.7,678.3 793.3,679.7 800.0,681.0 C806.7,682.3 813.3,683.6 820.0,684.9 C826.7,686.2 833.3,687.6 840.0,688.9 C846.7,690.3 853.3,691.6 860.0,693.0 C866.7,694.4 873.3,695.8 880.0,697.3 C886.7,698.9 893.3,700.8 900.0,702.5 C906.7,704.2 913.3,705.3 920.0,707.6 C926.7,709.9 933.3,713.3 940.0,716.1 C946.7,718.9 953.3,721.4 960.0,724.6 C966.7,727.9 973.3,731.9 980.0,735.6 C986.7,739.3 996.7,744.7 1000.0,746.6"/><path d="M-40.0,787.1 C-36.7,784.8 -26.7,778.2 -20.0,773.2 C-13.3,768.2 -6.7,761.3 0.0,757.1 C6.7,752.9 13.3,751.1 20.0,747.8 C26.7,744.6 33.3,740.8 40.0,737.4 C46.7,733.9 53.3,730.4 60.0,727.1 C66.7,723.8 73.3,720.7 80.0,717.6 C86.7,714.5 93.3,711.5 100.0,708.8 C106.7,706.1 113.3,704.0 120.0,701.4 C126.7,698.9 133.3,695.7 140.0,693.5 C146.7,691.3 153.3,689.7 160.0,688.0 C166.7,686.4 173.3,684.9 180.0,683.4 C186.7,681.8 193.3,680.1 200.0,678.7 C206.7,677.3 213.3,675.9 220.0,674.8 C226.7,673.6 233.3,672.7 240.0,671.8 C246.7,670.9 253.3,670.1 260.0,669.5 C266.7,668.8 273.3,668.3 280.0,667.9 C286.7,667.4 293.3,666.9 300.0,666.6 C306.7,666.2 313.3,666.0 320.0,665.8 C326.7,665.7 333.3,665.7 340.0,665.7 C346.7,665.7 353.3,665.6 360.0,665.8 C366.7,666.0 373.3,666.5 380.0,666.9 C386.7,667.3 393.3,667.9 400.0,668.5 C406.7,669.0 413.3,669.7 420.0,670.4 C426.7,671.0 433.3,671.7 440.0,672.3 C446.7,672.9 453.3,673.5 460.0,673.9 C466.7,674.3 473.3,674.7 480.0,674.9 C486.7,675.2 493.3,675.5 500.0,675.6 C506.7,675.8 513.3,675.8 520.0,675.8 C526.7,675.8 533.3,675.6 540.0,675.4 C546.7,675.2 553.3,674.9 560.0,674.6 C566.7,674.2 573.3,673.8 580.0,673.3 C586.7,672.9 593.3,672.4 600.0,672.0 C606.7,671.5 613.3,671.1 620.0,670.8 C626.7,670.4 633.3,670.1 640.0,670.0 C646.7,669.9 653.3,669.8 660.0,669.9 C666.7,669.9 673.3,670.1 680.0,670.3 C686.7,670.5 693.3,670.8 700.0,671.0 C706.7,671.2 713.3,671.4 720.0,671.7 C726.7,672.1 733.3,672.5 740.0,673.0 C746.7,673.6 753.3,674.2 760.0,675.0 C766.7,675.8 773.3,677.0 780.0,678.1 C786.7,679.3 793.3,680.6 800.0,681.8 C806.7,683.0 813.3,684.2 820.0,685.4 C826.7,686.7 833.3,688.0 840.0,689.3 C846.7,690.6 853.3,691.8 860.0,693.2 C866.7,694.6 873.3,695.9 880.0,697.5 C886.7,699.1 893.3,700.9 900.0,702.7 C906.7,704.4 913.3,705.6 920.0,707.9 C926.7,710.1 933.3,713.5 940.0,716.3 C946.7,719.1 953.3,721.6 960.0,724.8 C966.7,728.0 973.3,732.1 980.0,735.8 C986.7,739.4 996.7,744.9 1000.0,746.7"/><path d="M-40.0,791.9 C-36.7,789.5 -26.7,782.7 -20.0,777.5 C-13.3,772.3 -6.7,765.1 0.0,760.8 C6.7,756.4 13.3,754.7 20.0,751.4 C26.7,748.0 33.3,744.3 40.0,740.7 C46.7,737.2 53.3,733.6 60.0,730.2 C66.7,726.8 73.3,723.4 80.0,720.3 C86.7,717.1 93.3,713.9 100.0,711.2 C106.7,708.4 113.3,706.2 120.0,703.5 C126.7,700.9 133.3,697.6 140.0,695.3 C146.7,693.0 153.3,691.5 160.0,689.7 C166.7,688.0 173.3,686.5 180.0,684.9 C186.7,683.3 193.3,681.5 200.0,680.0 C206.7,678.5 213.3,677.0 220.0,675.8 C226.7,674.6 233.3,673.6 240.0,672.7 C246.7,671.8 253.3,671.0 260.0,670.4 C266.7,669.7 273.3,669.3 280.0,668.9 C286.7,668.5 293.3,668.1 300.0,667.8 C306.7,667.6 313.3,667.4 320.0,667.3 C326.7,667.3 333.3,667.4 340.0,667.5 C346.7,667.5 353.3,667.6 360.0,667.9 C366.7,668.2 373.3,668.8 380.0,669.3 C386.7,669.9 393.3,670.5 400.0,671.2 C406.7,671.8 413.3,672.6 420.0,673.3 C426.7,673.9 433.3,674.7 440.0,675.3 C446.7,675.9 453.3,676.5 460.0,677.0 C466.7,677.5 473.3,677.8 480.0,678.1 C486.7,678.4 493.3,678.6 500.0,678.8 C506.7,678.9 513.3,679.0 520.0,679.0 C526.7,679.0 533.3,678.8 540.0,678.6 C546.7,678.4 553.3,678.1 560.0,677.7 C566.7,677.3 573.3,676.8 580.0,676.4 C586.7,675.9 593.3,675.3 600.0,674.9 C606.7,674.4 613.3,673.9 620.0,673.6 C626.7,673.2 633.3,672.9 640.0,672.7 C646.7,672.5 653.3,672.4 660.0,672.3 C666.7,672.3 673.3,672.4 680.0,672.5 C686.7,672.6 693.3,672.8 700.0,673.0 C706.7,673.2 713.3,673.3 720.0,673.5 C726.7,673.8 733.3,674.1 740.0,674.6 C746.7,675.1 753.3,675.6 760.0,676.3 C766.7,677.1 773.3,678.1 780.0,679.2 C786.7,680.2 793.3,681.4 800.0,682.6 C806.7,683.7 813.3,684.8 820.0,686.0 C826.7,687.2 833.3,688.4 840.0,689.6 C846.7,690.9 853.3,692.1 860.0,693.4 C866.7,694.8 873.3,696.1 880.0,697.7 C886.7,699.2 893.3,701.1 900.0,702.9 C906.7,704.6 913.3,705.8 920.0,708.1 C926.7,710.4 933.3,713.7 940.0,716.5 C946.7,719.3 953.3,721.7 960.0,725.0 C966.7,728.2 973.3,732.3 980.0,735.9 C986.7,739.6 996.7,745.0 1000.0,746.9"/><path d="M-40.0,796.7 C-36.7,794.2 -26.7,787.1 -20.0,781.8 C-13.3,776.4 -6.7,768.9 0.0,764.4 C6.7,759.9 13.3,758.3 20.0,754.9 C26.7,751.5 33.3,747.7 40.0,744.1 C46.7,740.5 53.3,736.7 60.0,733.2 C66.7,729.7 73.3,726.2 80.0,722.9 C86.7,719.7 93.3,716.4 100.0,713.5 C106.7,710.7 113.3,708.4 120.0,705.7 C126.7,703.0 133.3,699.5 140.0,697.1 C146.7,694.7 153.3,693.3 160.0,691.5 C166.7,689.7 173.3,688.2 180.0,686.6 C186.7,684.9 193.3,683.0 200.0,681.4 C206.7,679.8 213.3,678.3 220.0,677.0 C226.7,675.7 233.3,674.6 240.0,673.7 C246.7,672.8 253.3,672.0 260.0,671.4 C266.7,670.8 273.3,670.5 280.0,670.2 C286.7,669.8 293.3,669.6 300.0,669.4 C306.7,669.2 313.3,669.1 320.0,669.1 C326.7,669.1 333.3,669.3 340.0,669.5 C346.7,669.7 353.3,669.9 360.0,670.3 C366.7,670.7 373.3,671.3 380.0,672.0 C386.7,672.6 393.3,673.3 400.0,674.0 C406.7,674.7 413.3,675.5 420.0,676.3 C426.7,677.0 433.3,677.8 440.0,678.4 C446.7,679.0 453.3,679.6 460.0,680.1 C466.7,680.6 473.3,681.0 480.0,681.3 C486.7,681.6 493.3,681.8 500.0,682.0 C506.7,682.1 513.3,682.2 520.0,682.2 C526.7,682.1 533.3,682.0 540.0,681.8 C546.7,681.5 553.3,681.2 560.0,680.8 C566.7,680.4 573.3,679.9 580.0,679.4 C586.7,678.9 593.3,678.3 600.0,677.8 C606.7,677.3 613.3,676.8 620.0,676.3 C626.7,675.9 633.3,675.6 640.0,675.3 C646.7,675.1 653.3,674.9 660.0,674.8 C666.7,674.7 673.3,674.7 680.0,674.8 C686.7,674.8 693.3,674.9 700.0,675.0 C706.7,675.1 713.3,675.1 720.0,675.3 C726.7,675.5 733.3,675.8 740.0,676.1 C746.7,676.5 753.3,677.0 760.0,677.7 C766.7,678.3 773.3,679.3 780.0,680.2 C786.7,681.2 793.3,682.3 800.0,683.3 C806.7,684.4 813.3,685.4 820.0,686.5 C826.7,687.6 833.3,688.8 840.0,690.0 C846.7,691.2 853.3,692.4 860.0,693.7 C866.7,695.0 873.3,696.3 880.0,697.8 C886.7,699.4 893.3,701.3 900.0,703.1 C906.7,704.8 913.3,706.1 920.0,708.3 C926.7,710.6 933.3,713.9 940.0,716.7 C946.7,719.5 953.3,721.9 960.0,725.1 C966.7,728.4 973.3,732.4 980.0,736.1 C986.7,739.7 996.7,745.2 1000.0,747.0"/><path d="M-40.0,801.4 C-36.7,798.9 -26.7,791.6 -20.0,786.0 C-13.3,780.5 -6.7,772.7 0.0,768.1 C6.7,763.5 13.3,761.9 20.0,758.5 C26.7,755.0 33.3,751.1 40.0,747.4 C46.7,743.7 53.3,739.9 60.0,736.3 C66.7,732.6 73.3,729.0 80.0,725.6 C86.7,722.3 93.3,718.9 100.0,715.9 C106.7,713.0 113.3,710.7 120.0,707.9 C126.7,705.1 133.3,701.4 140.0,699.0 C146.7,696.6 153.3,695.1 160.0,693.4 C166.7,691.6 173.3,690.1 180.0,688.3 C186.7,686.6 193.3,684.7 200.0,683.0 C206.7,681.3 213.3,679.7 220.0,678.3 C226.7,677.0 233.3,675.8 240.0,674.9 C246.7,674.0 253.3,673.2 260.0,672.7 C266.7,672.1 273.3,671.9 280.0,671.7 C286.7,671.4 293.3,671.3 300.0,671.2 C306.7,671.1 313.3,671.1 320.0,671.2 C326.7,671.3 333.3,671.6 340.0,671.9 C346.7,672.2 353.3,672.5 360.0,673.0 C366.7,673.5 373.3,674.1 380.0,674.8 C386.7,675.5 393.3,676.3 400.0,677.0 C406.7,677.8 413.3,678.6 420.0,679.4 C426.7,680.1 433.3,680.9 440.0,681.6 C446.7,682.2 453.3,682.8 460.0,683.3 C466.7,683.8 473.3,684.1 480.0,684.5 C486.7,684.8 493.3,685.0 500.0,685.2 C506.7,685.4 513.3,685.4 520.0,685.4 C526.7,685.3 533.3,685.2 540.0,684.9 C546.7,684.7 553.3,684.3 560.0,683.9 C566.7,683.5 573.3,682.9 580.0,682.4 C586.7,681.9 593.3,681.3 600.0,680.7 C606.7,680.2 613.3,679.6 620.0,679.1 C626.7,678.7 633.3,678.3 640.0,678.0 C646.7,677.7 653.3,677.4 660.0,677.3 C666.7,677.1 673.3,677.1 680.0,677.0 C686.7,677.0 693.3,677.0 700.0,677.0 C706.7,677.0 713.3,677.0 720.0,677.1 C726.7,677.3 733.3,677.4 740.0,677.7 C746.7,678.0 753.3,678.4 760.0,679.0 C766.7,679.6 773.3,680.4 780.0,681.3 C786.7,682.1 793.3,683.1 800.0,684.1 C806.7,685.1 813.3,686.0 820.0,687.1 C826.7,688.1 833.3,689.2 840.0,690.4 C846.7,691.5 853.3,692.6 860.0,693.9 C866.7,695.2 873.3,696.4 880.0,698.0 C886.7,699.6 893.3,701.5 900.0,703.2 C906.7,705.0 913.3,706.3 920.0,708.6 C926.7,710.8 933.3,714.1 940.0,716.9 C946.7,719.6 953.3,722.1 960.0,725.3 C966.7,728.6 973.3,732.6 980.0,736.2 C986.7,739.9 996.7,745.3 1000.0,747.1"/><path d="M-40.0,806.2 C-36.7,803.5 -26.7,796.1 -20.0,790.3 C-13.3,784.6 -6.7,776.4 0.0,771.7 C6.7,767.0 13.3,765.5 20.0,762.0 C26.7,758.5 33.3,754.6 40.0,750.8 C46.7,747.0 53.3,743.1 60.0,739.3 C66.7,735.6 73.3,731.8 80.0,728.4 C86.7,724.9 93.3,721.4 100.0,718.4 C106.7,715.3 113.3,713.0 120.0,710.1 C126.7,707.2 133.3,703.4 140.0,701.0 C146.7,698.5 153.3,697.1 160.0,695.3 C166.7,693.6 173.3,692.0 180.0,690.3 C186.7,688.5 193.3,686.5 200.0,684.7 C206.7,683.0 213.3,681.3 220.0,679.9 C226.7,678.4 233.3,677.2 240.0,676.3 C246.7,675.3 253.3,674.6 260.0,674.2 C266.7,673.7 273.3,673.6 280.0,673.5 C286.7,673.4 293.3,673.3 300.0,673.4 C306.7,673.4 313.3,673.4 320.0,673.6 C326.7,673.8 333.3,674.1 340.0,674.5 C346.7,674.9 353.3,675.3 360.0,675.9 C366.7,676.5 373.3,677.2 380.0,677.9 C386.7,678.6 393.3,679.4 400.0,680.2 C406.7,681.0 413.3,681.8 420.0,682.6 C426.7,683.4 433.3,684.1 440.0,684.8 C446.7,685.4 453.3,686.0 460.0,686.5 C466.7,687.0 473.3,687.4 480.0,687.7 C486.7,688.0 493.3,688.3 500.0,688.4 C506.7,688.6 513.3,688.6 520.0,688.6 C526.7,688.5 533.3,688.4 540.0,688.1 C546.7,687.8 553.3,687.5 560.0,687.0 C566.7,686.6 573.3,686.0 580.0,685.4 C586.7,684.9 593.3,684.2 600.0,683.6 C606.7,683.1 613.3,682.4 620.0,681.9 C626.7,681.4 633.3,681.0 640.0,680.7 C646.7,680.3 653.3,680.0 660.0,679.8 C666.7,679.5 673.3,679.4 680.0,679.2 C686.7,679.1 693.3,679.1 700.0,679.0 C706.7,679.0 713.3,678.9 720.0,679.0 C726.7,679.0 733.3,679.0 740.0,679.3 C746.7,679.5 753.3,679.8 760.0,680.3 C766.7,680.8 773.3,681.6 780.0,682.3 C786.7,683.1 793.3,684.0 800.0,684.9 C806.7,685.8 813.3,686.6 820.0,687.6 C826.7,688.6 833.3,689.6 840.0,690.7 C846.7,691.8 853.3,692.9 860.0,694.1 C866.7,695.4 873.3,696.6 880.0,698.2 C886.7,699.7 893.3,701.7 900.0,703.4 C906.7,705.2 913.3,706.5 920.0,708.8 C926.7,711.1 933.3,714.3 940.0,717.0 C946.7,719.8 953.3,722.3 960.0,725.5 C966.7,728.7 973.3,732.8 980.0,736.4 C986.7,740.0 996.7,745.5 1000.0,747.3"/><path d="M-40.0,810.9 C-36.7,808.2 -26.7,800.5 -20.0,794.6 C-13.3,788.7 -6.7,780.2 0.0,775.4 C6.7,770.5 13.3,769.1 20.0,765.5 C26.7,762.0 33.3,758.0 40.0,754.1 C46.7,750.3 53.3,746.2 60.0,742.4 C66.7,738.5 73.3,734.7 80.0,731.1 C86.7,727.5 93.3,723.9 100.0,720.8 C106.7,717.7 113.3,715.4 120.0,712.4 C126.7,709.5 133.3,705.5 140.0,703.0 C146.7,700.5 153.3,699.2 160.0,697.4 C166.7,695.6 173.3,694.1 180.0,692.3 C186.7,690.6 193.3,688.5 200.0,686.7 C206.7,684.9 213.3,683.0 220.0,681.6 C226.7,680.1 233.3,678.8 240.0,677.9 C246.7,676.9 253.3,676.3 260.0,675.9 C266.7,675.5 273.3,675.6 280.0,675.6 C286.7,675.6 293.3,675.7 300.0,675.9 C306.7,676.0 313.3,676.1 320.0,676.4 C326.7,676.6 333.3,677.0 340.0,677.5 C346.7,678.0 353.3,678.5 360.0,679.1 C366.7,679.7 373.3,680.4 380.0,681.2 C386.7,681.9 393.3,682.7 400.0,683.5 C406.7,684.3 413.3,685.2 420.0,685.9 C426.7,686.7 433.3,687.4 440.0,688.1 C446.7,688.7 453.3,689.3 460.0,689.7 C466.7,690.2 473.3,690.6 480.0,690.9 C486.7,691.2 493.3,691.5 500.0,691.6 C506.7,691.8 513.3,691.9 520.0,691.8 C526.7,691.7 533.3,691.6 540.0,691.3 C546.7,691.0 553.3,690.6 560.0,690.2 C566.7,689.7 573.3,689.1 580.0,688.5 C586.7,687.9 593.3,687.2 600.0,686.6 C606.7,685.9 613.3,685.3 620.0,684.7 C626.7,684.2 633.3,683.8 640.0,683.3 C646.7,682.9 653.3,682.5 660.0,682.2 C666.7,681.9 673.3,681.7 680.0,681.5 C686.7,681.3 693.3,681.2 700.0,681.0 C706.7,680.9 713.3,680.8 720.0,680.8 C726.7,680.7 733.3,680.7 740.0,680.8 C746.7,681.0 753.3,681.2 760.0,681.7 C766.7,682.1 773.3,682.7 780.0,683.4 C786.7,684.0 793.3,684.9 800.0,685.7 C806.7,686.5 813.3,687.3 820.0,688.2 C826.7,689.1 833.3,690.0 840.0,691.1 C846.7,692.1 853.3,693.2 860.0,694.4 C866.7,695.6 873.3,696.8 880.0,698.3 C886.7,699.9 893.3,701.8 900.0,703.6 C906.7,705.4 913.3,706.8 920.0,709.0 C926.7,711.3 933.3,714.5 940.0,717.2 C946.7,720.0 953.3,722.5 960.0,725.7 C966.7,728.9 973.3,732.9 980.0,736.6 C986.7,740.2 996.7,745.6 1000.0,747.4"/><path d="M-40.0,815.7 C-36.7,812.9 -26.7,805.0 -20.0,798.9 C-13.3,792.8 -6.7,784.0 0.0,779.0 C6.7,774.1 13.3,772.7 20.0,769.1 C26.7,765.5 33.3,761.4 40.0,757.5 C46.7,753.6 53.3,749.4 60.0,745.5 C66.7,741.5 73.3,737.5 80.0,733.8 C86.7,730.1 93.3,726.5 100.0,723.3 C106.7,720.1 113.3,717.8 120.0,714.8 C126.7,711.7 133.3,707.6 140.0,705.1 C146.7,702.5 153.3,701.3 160.0,699.6 C166.7,697.8 173.3,696.4 180.0,694.6 C186.7,692.8 193.3,690.6 200.0,688.8 C206.7,686.9 213.3,685.0 220.0,683.5 C226.7,682.0 233.3,680.6 240.0,679.7 C246.7,678.7 253.3,678.1 260.0,677.9 C266.7,677.6 273.3,677.9 280.0,678.0 C286.7,678.2 293.3,678.5 300.0,678.7 C306.7,679.0 313.3,679.2 320.0,679.5 C326.7,679.9 333.3,680.3 340.0,680.8 C346.7,681.4 353.3,682.0 360.0,682.6 C366.7,683.3 373.3,684.0 380.0,684.7 C386.7,685.4 393.3,686.2 400.0,687.0 C406.7,687.8 413.3,688.6 420.0,689.3 C426.7,690.1 433.3,690.8 440.0,691.4 C446.7,692.0 453.3,692.5 460.0,693.0 C466.7,693.5 473.3,693.8 480.0,694.2 C486.7,694.5 493.3,694.7 500.0,694.9 C506.7,695.0 513.3,695.1 520.0,695.0 C526.7,695.0 533.3,694.7 540.0,694.5 C546.7,694.2 553.3,693.8 560.0,693.3 C566.7,692.8 573.3,692.1 580.0,691.5 C586.7,690.9 593.3,690.1 600.0,689.5 C606.7,688.8 613.3,688.1 620.0,687.5 C626.7,687.0 633.3,686.5 640.0,686.0 C646.7,685.5 653.3,685.1 660.0,684.7 C666.7,684.3 673.3,684.0 680.0,683.7 C686.7,683.4 693.3,683.2 700.0,683.0 C706.7,682.8 713.3,682.7 720.0,682.6 C726.7,682.5 733.3,682.3 740.0,682.4 C746.7,682.4 753.3,682.7 760.0,683.0 C766.7,683.3 773.3,683.9 780.0,684.4 C786.7,685.0 793.3,685.7 800.0,686.4 C806.7,687.1 813.3,687.9 820.0,688.7 C826.7,689.5 833.3,690.4 840.0,691.4 C846.7,692.4 853.3,693.4 860.0,694.6 C866.7,695.8 873.3,697.0 880.0,698.5 C886.7,700.0 893.3,702.0 900.0,703.8 C906.7,705.6 913.3,707.0 920.0,709.3 C926.7,711.6 933.3,714.7 940.0,717.4 C946.7,720.2 953.3,722.6 960.0,725.8 C966.7,729.1 973.3,733.1 980.0,736.7 C986.7,740.3 996.7,745.8 1000.0,747.6"/><path d="M-40.0,820.5 C-36.7,817.6 -26.7,809.5 -20.0,803.2 C-13.3,796.9 -6.7,787.8 0.0,782.7 C6.7,777.6 13.3,776.3 20.0,772.6 C26.7,769.0 33.3,764.9 40.0,760.9 C46.7,756.9 53.3,752.6 60.0,748.6 C66.7,744.5 73.3,740.4 80.0,736.6 C86.7,732.8 93.3,729.0 100.0,725.8 C106.7,722.6 113.3,720.2 120.0,717.1 C126.7,714.0 133.3,709.7 140.0,707.2 C146.7,704.6 153.3,703.5 160.0,701.8 C166.7,700.1 173.3,698.7 180.0,696.9 C186.7,695.1 193.3,692.9 200.0,691.0 C206.7,689.1 213.3,687.2 220.0,685.6 C226.7,684.1 233.3,682.6 240.0,681.7 C246.7,680.8 253.3,680.3 260.0,680.1 C266.7,680.0 273.3,680.5 280.0,680.8 C286.7,681.1 293.3,681.7 300.0,682.0 C306.7,682.4 313.3,682.6 320.0,683.1 C326.7,683.5 333.3,684.0 340.0,684.5 C346.7,685.1 353.3,685.8 360.0,686.4 C366.7,687.1 373.3,687.7 380.0,688.4 C386.7,689.1 393.3,689.9 400.0,690.6 C406.7,691.4 413.3,692.2 420.0,692.9 C426.7,693.6 433.3,694.3 440.0,694.8 C446.7,695.4 453.3,695.9 460.0,696.3 C466.7,696.7 473.3,697.1 480.0,697.4 C486.7,697.7 493.3,698.0 500.0,698.1 C506.7,698.3 513.3,698.3 520.0,698.2 C526.7,698.2 533.3,697.9 540.0,697.6 C546.7,697.3 553.3,696.9 560.0,696.4 C566.7,695.9 573.3,695.2 580.0,694.5 C586.7,693.9 593.3,693.1 600.0,692.4 C606.7,691.7 613.3,690.9 620.0,690.3 C626.7,689.7 633.3,689.2 640.0,688.7 C646.7,688.1 653.3,687.6 660.0,687.2 C666.7,686.7 673.3,686.3 680.0,686.0 C686.7,685.6 693.3,685.3 700.0,685.0 C706.7,684.8 713.3,684.6 720.0,684.4 C726.7,684.2 733.3,683.9 740.0,683.9 C746.7,683.9 753.3,684.1 760.0,684.3 C766.7,684.6 773.3,685.0 780.0,685.5 C786.7,686.0 793.3,686.6 800.0,687.2 C806.7,687.8 813.3,688.5 820.0,689.2 C826.7,690.0 833.3,690.9 840.0,691.8 C846.7,692.7 853.3,693.7 860.0,694.8 C866.7,696.0 873.3,697.1 880.0,698.7 C886.7,700.2 893.3,702.2 900.0,704.0 C906.7,705.8 913.3,707.3 920.0,709.5 C926.7,711.8 933.3,714.9 940.0,717.6 C946.7,720.4 953.3,722.8 960.0,726.0 C966.7,729.2 973.3,733.3 980.0,736.9 C986.7,740.5 996.7,745.9 1000.0,747.7"/><path d="M-40.0,825.2 C-36.7,822.3 -26.7,813.9 -20.0,807.5 C-13.3,801.0 -6.7,791.6 0.0,786.3 C6.7,781.1 13.3,779.9 20.0,776.2 C26.7,772.5 33.3,768.3 40.0,764.3 C46.7,760.2 53.3,755.8 60.0,751.6 C66.7,747.5 73.3,743.2 80.0,739.4 C86.7,735.5 93.3,731.6 100.0,728.3 C106.7,725.0 113.3,722.7 120.0,719.6 C126.7,716.4 133.3,711.9 140.0,709.4 C146.7,706.8 153.3,705.8 160.0,704.2 C166.7,702.5 173.3,701.2 180.0,699.4 C186.7,697.6 193.3,695.4 200.0,693.5 C206.7,691.6 213.3,689.5 220.0,687.9 C226.7,686.4 233.3,684.9 240.0,684.0 C246.7,683.1 253.3,682.7 260.0,682.7 C266.7,682.7 273.3,683.5 280.0,684.0 C286.7,684.5 293.3,685.3 300.0,685.8 C306.7,686.3 313.3,686.6 320.0,687.0 C326.7,687.5 333.3,688.0 340.0,688.6 C346.7,689.2 353.3,689.9 360.0,690.6 C366.7,691.2 373.3,691.7 380.0,692.4 C386.7,693.0 393.3,693.7 400.0,694.4 C406.7,695.1 413.3,695.8 420.0,696.5 C426.7,697.1 433.3,697.8 440.0,698.3 C446.7,698.8 453.3,699.2 460.0,699.6 C466.7,700.0 473.3,700.4 480.0,700.7 C486.7,701.0 493.3,701.2 500.0,701.4 C506.7,701.5 513.3,701.6 520.0,701.5 C526.7,701.4 533.3,701.1 540.0,700.8 C546.7,700.5 553.3,700.1 560.0,699.5 C566.7,699.0 573.3,698.3 580.0,697.6 C586.7,696.9 593.3,696.1 600.0,695.3 C606.7,694.6 613.3,693.8 620.0,693.1 C626.7,692.5 633.3,691.9 640.0,691.3 C646.7,690.8 653.3,690.2 660.0,689.6 C666.7,689.1 673.3,688.6 680.0,688.2 C686.7,687.8 693.3,687.4 700.0,687.0 C706.7,686.7 713.3,686.5 720.0,686.2 C726.7,685.9 733.3,685.6 740.0,685.5 C746.7,685.4 753.3,685.5 760.0,685.7 C766.7,685.8 773.3,686.1 780.0,686.5 C786.7,686.9 793.3,687.4 800.0,688.0 C806.7,688.5 813.3,689.1 820.0,689.8 C826.7,690.5 833.3,691.3 840.0,692.1 C846.7,693.0 853.3,694.0 860.0,695.1 C866.7,696.2 873.3,697.3 880.0,698.8 C886.7,700.4 893.3,702.4 900.0,704.2 C906.7,706.0 913.3,707.5 920.0,709.8 C926.7,712.0 933.3,715.1 940.0,717.8 C946.7,720.5 953.3,723.0 960.0,726.2 C966.7,729.4 973.3,733.4 980.0,737.0 C986.7,740.6 996.7,746.1 1000.0,747.9"/><path d="M-40.0,830.0 C-36.7,827.0 -26.7,818.4 -20.0,811.8 C-13.3,805.1 -6.7,795.3 0.0,790.0 C6.7,784.7 13.3,783.5 20.0,779.7 C26.7,776.0 33.3,771.8 40.0,767.6 C46.7,763.5 53.3,759.0 60.0,754.8 C66.7,750.5 73.3,746.1 80.0,742.1 C86.7,738.2 93.3,734.2 100.0,730.9 C106.7,727.5 113.3,725.2 120.0,722.0 C126.7,718.8 133.3,714.2 140.0,711.6 C146.7,709.1 153.3,708.2 160.0,706.6 C166.7,705.0 173.3,703.7 180.0,702.0 C186.7,700.3 193.3,698.0 200.0,696.1 C206.7,694.2 213.3,692.1 220.0,690.5 C226.7,688.9 233.3,687.4 240.0,686.6 C246.7,685.7 253.3,685.4 260.0,685.6 C266.7,685.8 273.3,686.9 280.0,687.6 C286.7,688.4 293.3,689.4 300.0,690.0 C306.7,690.6 313.3,691.0 320.0,691.5 C326.7,692.0 333.3,692.5 340.0,693.1 C346.7,693.7 353.3,694.4 360.0,695.0 C366.7,695.6 373.3,696.0 380.0,696.5 C386.7,697.1 393.3,697.7 400.0,698.3 C406.7,698.9 413.3,699.6 420.0,700.2 C426.7,700.7 433.3,701.3 440.0,701.8 C446.7,702.3 453.3,702.6 460.0,703.0 C466.7,703.4 473.3,703.7 480.0,704.0 C486.7,704.3 493.3,704.5 500.0,704.6 C506.7,704.7 513.3,704.8 520.0,704.7 C526.7,704.6 533.3,704.3 540.0,704.0 C546.7,703.7 553.3,703.2 560.0,702.6 C566.7,702.1 573.3,701.3 580.0,700.6 C586.7,699.9 593.3,699.0 600.0,698.2 C606.7,697.5 613.3,696.6 620.0,695.9 C626.7,695.2 633.3,694.6 640.0,694.0 C646.7,693.4 653.3,692.7 660.0,692.1 C666.7,691.5 673.3,690.9 680.0,690.4 C686.7,689.9 693.3,689.5 700.0,689.1 C706.7,688.6 713.3,688.3 720.0,688.0 C726.7,687.7 733.3,687.2 740.0,687.0 C746.7,686.8 753.3,686.9 760.0,687.0 C766.7,687.1 773.3,687.3 780.0,687.6 C786.7,687.9 793.3,688.3 800.0,688.8 C806.7,689.2 813.3,689.7 820.0,690.3 C826.7,691.0 833.3,691.7 840.0,692.5 C846.7,693.3 853.3,694.2 860.0,695.3 C866.7,696.4 873.3,697.5 880.0,699.0 C886.7,700.5 893.3,702.6 900.0,704.4 C906.7,706.2 913.3,707.7 920.0,710.0 C926.7,712.3 933.3,715.3 940.0,718.0 C946.7,720.7 953.3,723.2 960.0,726.4 C966.7,729.6 973.3,733.6 980.0,737.2 C986.7,740.8 996.7,746.2 1000.0,748.0"/></g><g fill="none" stroke="url(#gW3)" stroke-width="0.7"><path d="M-20.0,705.0 C60.0,700.0 180.0,684.0 255.0,682.0"/><path d="M-20.0,710.6 C60.0,702.9 180.0,684.4 255.0,681.2"/><path d="M-20.0,716.2 C60.0,705.9 180.0,684.7 255.0,680.4"/><path d="M-20.0,721.8 C60.0,708.8 180.0,685.1 255.0,679.5"/><path d="M-20.0,727.4 C60.0,711.8 180.0,685.4 255.0,678.7"/><path d="M-20.0,732.9 C60.0,714.7 180.0,685.8 255.0,677.9"/><path d="M-20.0,738.5 C60.0,717.6 180.0,686.1 255.0,677.1"/><path d="M-20.0,744.1 C60.0,720.6 180.0,686.5 255.0,676.2"/><path d="M-20.0,749.7 C60.0,723.5 180.0,686.8 255.0,675.4"/><path d="M-20.0,755.3 C60.0,726.5 180.0,687.2 255.0,674.6"/><path d="M-20.0,760.9 C60.0,729.4 180.0,687.5 255.0,673.8"/><path d="M-20.0,766.5 C60.0,732.4 180.0,687.9 255.0,672.9"/><path d="M-20.0,772.1 C60.0,735.3 180.0,688.2 255.0,672.1"/><path d="M-20.0,777.6 C60.0,738.2 180.0,688.6 255.0,671.3"/><path d="M-20.0,783.2 C60.0,741.2 180.0,688.9 255.0,670.5"/><path d="M-20.0,788.8 C60.0,744.1 180.0,689.3 255.0,669.6"/><path d="M-20.0,794.4 C60.0,747.1 180.0,689.6 255.0,668.8"/><path d="M-20.0,800.0 C60.0,750.0 180.0,690.0 255.0,668.0"/></g><g fill="none" stroke="url(#gW2)" stroke-width="0.8"><path d="M460.0,704.7 C463.3,704.6 473.3,704.5 480.0,704.3 C486.7,704.1 493.3,703.9 500.0,703.6 C506.7,703.4 513.3,703.0 520.0,702.7 C526.7,702.3 533.3,701.9 540.0,701.5 C546.7,701.1 553.3,700.7 560.0,700.2 C566.7,699.8 573.3,699.3 580.0,698.8 C586.7,698.3 593.3,697.8 600.0,697.3 C606.7,696.8 613.3,696.3 620.0,695.8 C626.7,695.3 633.3,694.8 640.0,694.3 C646.7,693.8 653.3,693.4 660.0,692.9 C666.7,692.5 673.3,692.0 680.0,691.7 C686.7,691.3 693.3,690.9 700.0,690.6 C706.7,690.2 713.3,689.9 720.0,689.7 C726.7,689.5 733.3,689.3 740.0,689.1 C746.7,689.0 753.3,688.9 760.0,688.8 C766.7,688.8 773.3,688.8 780.0,688.9 C786.7,689.0 793.3,689.2 800.0,689.5 C806.7,689.7 813.3,690.0 820.0,690.4 C826.7,690.9 833.3,691.4 840.0,691.9 C846.7,692.5 853.3,693.2 860.0,694.0 C866.7,694.8 873.3,695.7 880.0,696.7 C886.7,697.7 893.3,698.8 900.0,700.0 C906.7,701.2 913.3,702.6 920.0,704.0 C926.7,705.5 933.3,707.1 940.0,708.8 C946.7,710.6 953.3,712.4 960.0,714.4 C966.7,716.4 973.3,718.6 980.0,720.9 C986.7,723.2 996.7,727.0 1000.0,728.2"/><path d="M460.0,704.7 C463.3,704.6 473.3,704.5 480.0,704.4 C486.7,704.2 493.3,704.0 500.0,703.7 C506.7,703.5 513.3,703.2 520.0,702.9 C526.7,702.5 533.3,702.1 540.0,701.7 C546.7,701.3 553.3,700.9 560.0,700.4 C566.7,699.9 573.3,699.5 580.0,699.0 C586.7,698.5 593.3,697.9 600.0,697.4 C606.7,696.9 613.3,696.4 620.0,695.8 C626.7,695.3 633.3,694.8 640.0,694.2 C646.7,693.7 653.3,693.2 660.0,692.7 C666.7,692.2 673.3,691.7 680.0,691.3 C686.7,690.8 693.3,690.4 700.0,690.0 C706.7,689.6 713.3,689.2 720.0,688.9 C726.7,688.6 733.3,688.3 740.0,688.0 C746.7,687.8 753.3,687.6 760.0,687.5 C766.7,687.3 773.3,687.3 780.0,687.2 C786.7,687.2 793.3,687.3 800.0,687.4 C806.7,687.5 813.3,687.7 820.0,688.0 C826.7,688.3 833.3,688.6 840.0,689.1 C846.7,689.5 853.3,690.0 860.0,690.6 C866.7,691.3 873.3,692.0 880.0,692.8 C886.7,693.6 893.3,694.5 900.0,695.6 C906.7,696.6 913.3,697.8 920.0,699.0 C926.7,700.3 933.3,701.7 940.0,703.2 C946.7,704.7 953.3,706.3 960.0,708.1 C966.7,709.9 973.3,711.8 980.0,713.8 C986.7,715.9 996.7,719.3 1000.0,720.4"/><path d="M460.0,704.6 C463.3,704.6 473.3,704.5 480.0,704.4 C486.7,704.3 493.3,704.1 500.0,703.9 C506.7,703.6 513.3,703.3 520.0,703.0 C526.7,702.7 533.3,702.3 540.0,701.9 C546.7,701.5 553.3,701.1 560.0,700.6 C566.7,700.1 573.3,699.6 580.0,699.1 C586.7,698.6 593.3,698.1 600.0,697.5 C606.7,697.0 613.3,696.4 620.0,695.9 C626.7,695.3 633.3,694.7 640.0,694.2 C646.7,693.6 653.3,693.0 660.0,692.5 C666.7,692.0 673.3,691.4 680.0,690.9 C686.7,690.4 693.3,689.9 700.0,689.4 C706.7,688.9 713.3,688.5 720.0,688.1 C726.7,687.7 733.3,687.3 740.0,687.0 C746.7,686.6 753.3,686.3 760.0,686.1 C766.7,685.9 773.3,685.7 780.0,685.6 C786.7,685.4 793.3,685.3 800.0,685.3 C806.7,685.3 813.3,685.4 820.0,685.5 C826.7,685.7 833.3,685.9 840.0,686.2 C846.7,686.4 853.3,686.8 860.0,687.3 C866.7,687.7 873.3,688.3 880.0,688.9 C886.7,689.6 893.3,690.3 900.0,691.2 C906.7,692.0 913.3,692.9 920.0,694.0 C926.7,695.1 933.3,696.2 940.0,697.5 C946.7,698.8 953.3,700.3 960.0,701.8 C966.7,703.3 973.3,705.0 980.0,706.8 C986.7,708.6 996.7,711.7 1000.0,712.7"/><path d="M460.0,704.6 C463.3,704.5 473.3,704.6 480.0,704.5 C486.7,704.4 493.3,704.2 500.0,704.0 C506.7,703.8 513.3,703.5 520.0,703.2 C526.7,702.9 533.3,702.5 540.0,702.1 C546.7,701.7 553.3,701.3 560.0,700.8 C566.7,700.3 573.3,699.8 580.0,699.3 C586.7,698.8 593.3,698.2 600.0,697.7 C606.7,697.1 613.3,696.5 620.0,695.9 C626.7,695.3 633.3,694.7 640.0,694.1 C646.7,693.5 653.3,692.9 660.0,692.3 C666.7,691.7 673.3,691.1 680.0,690.5 C686.7,689.9 693.3,689.4 700.0,688.8 C706.7,688.3 713.3,687.8 720.0,687.3 C726.7,686.8 733.3,686.3 740.0,685.9 C746.7,685.5 753.3,685.1 760.0,684.7 C766.7,684.4 773.3,684.1 780.0,683.9 C786.7,683.6 793.3,683.4 800.0,683.3 C806.7,683.2 813.3,683.1 820.0,683.1 C826.7,683.1 833.3,683.1 840.0,683.3 C846.7,683.4 853.3,683.6 860.0,683.9 C866.7,684.2 873.3,684.6 880.0,685.0 C886.7,685.5 893.3,686.1 900.0,686.7 C906.7,687.4 913.3,688.1 920.0,689.0 C926.7,689.9 933.3,690.8 940.0,691.9 C946.7,693.0 953.3,694.2 960.0,695.5 C966.7,696.8 973.3,698.2 980.0,699.8 C986.7,701.4 996.7,704.0 1000.0,704.9"/><path d="M460.0,704.5 C463.3,704.5 473.3,704.6 480.0,704.5 C486.7,704.4 493.3,704.3 500.0,704.1 C506.7,703.9 513.3,703.7 520.0,703.4 C526.7,703.1 533.3,702.7 540.0,702.3 C546.7,701.9 553.3,701.5 560.0,701.0 C566.7,700.5 573.3,700.0 580.0,699.5 C586.7,698.9 593.3,698.4 600.0,697.8 C606.7,697.2 613.3,696.6 620.0,695.9 C626.7,695.3 633.3,694.7 640.0,694.0 C646.7,693.4 653.3,692.7 660.0,692.1 C666.7,691.4 673.3,690.8 680.0,690.1 C686.7,689.5 693.3,688.9 700.0,688.3 C706.7,687.7 713.3,687.0 720.0,686.5 C726.7,685.9 733.3,685.4 740.0,684.8 C746.7,684.3 753.3,683.8 760.0,683.4 C766.7,682.9 773.3,682.5 780.0,682.2 C786.7,681.8 793.3,681.5 800.0,681.2 C806.7,681.0 813.3,680.8 820.0,680.6 C826.7,680.5 833.3,680.4 840.0,680.4 C846.7,680.4 853.3,680.4 860.0,680.5 C866.7,680.7 873.3,680.9 880.0,681.2 C886.7,681.5 893.3,681.8 900.0,682.3 C906.7,682.8 913.3,683.3 920.0,684.0 C926.7,684.6 933.3,685.4 940.0,686.3 C946.7,687.1 953.3,688.1 960.0,689.2 C966.7,690.3 973.3,691.5 980.0,692.8 C986.7,694.1 996.7,696.4 1000.0,697.1"/><path d="M460.0,704.4 C463.3,704.5 473.3,704.6 480.0,704.5 C486.7,704.5 493.3,704.4 500.0,704.2 C506.7,704.1 513.3,703.8 520.0,703.5 C526.7,703.3 533.3,702.9 540.0,702.5 C546.7,702.1 553.3,701.7 560.0,701.2 C566.7,700.7 573.3,700.2 580.0,699.6 C586.7,699.1 593.3,698.5 600.0,697.9 C606.7,697.3 613.3,696.6 620.0,696.0 C626.7,695.3 633.3,694.6 640.0,694.0 C646.7,693.3 653.3,692.6 660.0,691.9 C666.7,691.2 673.3,690.5 680.0,689.8 C686.7,689.1 693.3,688.4 700.0,687.7 C706.7,687.0 713.3,686.3 720.0,685.7 C726.7,685.0 733.3,684.4 740.0,683.8 C746.7,683.2 753.3,682.6 760.0,682.0 C766.7,681.5 773.3,680.9 780.0,680.5 C786.7,680.0 793.3,679.5 800.0,679.2 C806.7,678.8 813.3,678.4 820.0,678.1 C826.7,677.9 833.3,677.6 840.0,677.5 C846.7,677.3 853.3,677.2 860.0,677.2 C866.7,677.1 873.3,677.2 880.0,677.3 C886.7,677.4 893.3,677.6 900.0,677.9 C906.7,678.1 913.3,678.5 920.0,679.0 C926.7,679.4 933.3,680.0 940.0,680.6 C946.7,681.3 953.3,682.0 960.0,682.9 C966.7,683.7 973.3,684.7 980.0,685.8 C986.7,686.8 996.7,688.8 1000.0,689.4"/><path d="M460.0,704.4 C463.3,704.4 473.3,704.6 480.0,704.6 C486.7,704.6 493.3,704.5 500.0,704.4 C506.7,704.2 513.3,704.0 520.0,703.7 C526.7,703.4 533.3,703.1 540.0,702.7 C546.7,702.3 553.3,701.9 560.0,701.4 C566.7,700.9 573.3,700.4 580.0,699.8 C586.7,699.3 593.3,698.6 600.0,698.0 C606.7,697.4 613.3,696.7 620.0,696.0 C626.7,695.3 633.3,694.6 640.0,693.9 C646.7,693.2 653.3,692.4 660.0,691.7 C666.7,690.9 673.3,690.2 680.0,689.4 C686.7,688.6 693.3,687.9 700.0,687.1 C706.7,686.4 713.3,685.6 720.0,684.9 C726.7,684.1 733.3,683.4 740.0,682.7 C746.7,682.0 753.3,681.3 760.0,680.7 C766.7,680.0 773.3,679.4 780.0,678.8 C786.7,678.2 793.3,677.6 800.0,677.1 C806.7,676.6 813.3,676.1 820.0,675.7 C826.7,675.3 833.3,674.9 840.0,674.6 C846.7,674.3 853.3,674.0 860.0,673.8 C866.7,673.6 873.3,673.5 880.0,673.4 C886.7,673.3 893.3,673.4 900.0,673.4 C906.7,673.5 913.3,673.7 920.0,674.0 C926.7,674.2 933.3,674.5 940.0,675.0 C946.7,675.4 953.3,675.9 960.0,676.6 C966.7,677.2 973.3,677.9 980.0,678.7 C986.7,679.6 996.7,681.1 1000.0,681.6"/><path d="M460.0,704.3 C463.3,704.4 473.3,704.6 480.0,704.6 C486.7,704.7 493.3,704.6 500.0,704.5 C506.7,704.4 513.3,704.1 520.0,703.9 C526.7,703.6 533.3,703.3 540.0,702.9 C546.7,702.5 553.3,702.1 560.0,701.6 C566.7,701.1 573.3,700.6 580.0,700.0 C586.7,699.4 593.3,698.8 600.0,698.1 C606.7,697.5 613.3,696.8 620.0,696.1 C626.7,695.3 633.3,694.6 640.0,693.8 C646.7,693.1 653.3,692.3 660.0,691.5 C666.7,690.7 673.3,689.8 680.0,689.0 C686.7,688.2 693.3,687.4 700.0,686.5 C706.7,685.7 713.3,684.9 720.0,684.1 C726.7,683.2 733.3,682.4 740.0,681.6 C746.7,680.8 753.3,680.0 760.0,679.3 C766.7,678.5 773.3,677.8 780.0,677.1 C786.7,676.4 793.3,675.7 800.0,675.0 C806.7,674.4 813.3,673.8 820.0,673.2 C826.7,672.7 833.3,672.1 840.0,671.7 C846.7,671.2 853.3,670.8 860.0,670.4 C866.7,670.1 873.3,669.8 880.0,669.5 C886.7,669.3 893.3,669.1 900.0,669.0 C906.7,668.9 913.3,668.9 920.0,668.9 C926.7,669.0 933.3,669.1 940.0,669.3 C946.7,669.6 953.3,669.9 960.0,670.3 C966.7,670.7 973.3,671.1 980.0,671.7 C986.7,672.3 996.7,673.5 1000.0,673.8"/><path d="M460.0,704.3 C463.3,704.4 473.3,704.6 480.0,704.7 C486.7,704.7 493.3,704.7 500.0,704.6 C506.7,704.5 513.3,704.3 520.0,704.1 C526.7,703.8 533.3,703.5 540.0,703.1 C546.7,702.7 553.3,702.3 560.0,701.8 C566.7,701.3 573.3,700.8 580.0,700.2 C586.7,699.6 593.3,698.9 600.0,698.3 C606.7,697.6 613.3,696.9 620.0,696.1 C626.7,695.4 633.3,694.6 640.0,693.8 C646.7,692.9 653.3,692.1 660.0,691.3 C666.7,690.4 673.3,689.5 680.0,688.6 C686.7,687.8 693.3,686.9 700.0,686.0 C706.7,685.1 713.3,684.2 720.0,683.3 C726.7,682.4 733.3,681.4 740.0,680.6 C746.7,679.7 753.3,678.8 760.0,677.9 C766.7,677.1 773.3,676.2 780.0,675.4 C786.7,674.6 793.3,673.8 800.0,673.0 C806.7,672.2 813.3,671.5 820.0,670.8 C826.7,670.1 833.3,669.4 840.0,668.8 C846.7,668.2 853.3,667.6 860.0,667.1 C866.7,666.5 873.3,666.1 880.0,665.6 C886.7,665.2 893.3,664.9 900.0,664.6 C906.7,664.3 913.3,664.1 920.0,663.9 C926.7,663.8 933.3,663.7 940.0,663.7 C946.7,663.7 953.3,663.8 960.0,663.9 C966.7,664.1 973.3,664.4 980.0,664.7 C986.7,665.1 996.7,665.8 1000.0,666.0"/><path d="M460.0,704.2 C463.3,704.3 473.3,704.7 480.0,704.7 C486.7,704.8 493.3,704.8 500.0,704.7 C506.7,704.6 513.3,704.5 520.0,704.2 C526.7,704.0 533.3,703.7 540.0,703.3 C546.7,702.9 553.3,702.5 560.0,702.0 C566.7,701.5 573.3,700.9 580.0,700.3 C586.7,699.7 593.3,699.1 600.0,698.4 C606.7,697.7 613.3,696.9 620.0,696.1 C626.7,695.4 633.3,694.5 640.0,693.7 C646.7,692.8 653.3,692.0 660.0,691.0 C666.7,690.1 673.3,689.2 680.0,688.3 C686.7,687.3 693.3,686.4 700.0,685.4 C706.7,684.4 713.3,683.4 720.0,682.4 C726.7,681.5 733.3,680.5 740.0,679.5 C746.7,678.5 753.3,677.5 760.0,676.6 C766.7,675.6 773.3,674.6 780.0,673.7 C786.7,672.7 793.3,671.8 800.0,670.9 C806.7,670.0 813.3,669.1 820.0,668.3 C826.7,667.5 833.3,666.7 840.0,665.9 C846.7,665.1 853.3,664.4 860.0,663.7 C866.7,663.0 873.3,662.4 880.0,661.8 C886.7,661.2 893.3,660.6 900.0,660.2 C906.7,659.7 913.3,659.3 920.0,658.9 C926.7,658.6 933.3,658.3 940.0,658.1 C946.7,657.8 953.3,657.7 960.0,657.6 C966.7,657.6 973.3,657.6 980.0,657.7 C986.7,657.8 996.7,658.2 1000.0,658.3"/><path d="M460.0,704.2 C463.3,704.3 473.3,704.7 480.0,704.8 C486.7,704.9 493.3,704.9 500.0,704.8 C506.7,704.8 513.3,704.6 520.0,704.4 C526.7,704.2 533.3,703.9 540.0,703.5 C546.7,703.1 553.3,702.7 560.0,702.2 C566.7,701.7 573.3,701.1 580.0,700.5 C586.7,699.9 593.3,699.2 600.0,698.5 C606.7,697.8 613.3,697.0 620.0,696.2 C626.7,695.4 633.3,694.5 640.0,693.6 C646.7,692.7 653.3,691.8 660.0,690.8 C666.7,689.9 673.3,688.9 680.0,687.9 C686.7,686.9 693.3,685.9 700.0,684.8 C706.7,683.8 713.3,682.7 720.0,681.6 C726.7,680.6 733.3,679.5 740.0,678.4 C746.7,677.3 753.3,676.3 760.0,675.2 C766.7,674.1 773.3,673.0 780.0,672.0 C786.7,670.9 793.3,669.9 800.0,668.9 C806.7,667.8 813.3,666.8 820.0,665.8 C826.7,664.9 833.3,663.9 840.0,663.0 C846.7,662.1 853.3,661.2 860.0,660.3 C866.7,659.5 873.3,658.7 880.0,657.9 C886.7,657.1 893.3,656.4 900.0,655.7 C906.7,655.1 913.3,654.4 920.0,653.9 C926.7,653.3 933.3,652.8 940.0,652.4 C946.7,652.0 953.3,651.6 960.0,651.3 C966.7,651.0 973.3,650.8 980.0,650.7 C986.7,650.5 996.7,650.5 1000.0,650.5"/><path d="M460.0,704.1 C463.3,704.2 473.3,704.7 480.0,704.8 C486.7,705.0 493.3,705.0 500.0,705.0 C506.7,704.9 513.3,704.8 520.0,704.6 C526.7,704.4 533.3,704.1 540.0,703.7 C546.7,703.3 553.3,702.9 560.0,702.4 C566.7,701.9 573.3,701.3 580.0,700.7 C586.7,700.1 593.3,699.4 600.0,698.6 C606.7,697.9 613.3,697.1 620.0,696.2 C626.7,695.4 633.3,694.5 640.0,693.6 C646.7,692.6 653.3,691.6 660.0,690.6 C666.7,689.6 673.3,688.6 680.0,687.5 C686.7,686.5 693.3,685.3 700.0,684.2 C706.7,683.1 713.3,682.0 720.0,680.8 C726.7,679.7 733.3,678.5 740.0,677.3 C746.7,676.2 753.3,675.0 760.0,673.8 C766.7,672.6 773.3,671.5 780.0,670.3 C786.7,669.1 793.3,668.0 800.0,666.8 C806.7,665.7 813.3,664.5 820.0,663.4 C826.7,662.3 833.3,661.2 840.0,660.1 C846.7,659.0 853.3,658.0 860.0,657.0 C866.7,655.9 873.3,655.0 880.0,654.0 C886.7,653.1 893.3,652.2 900.0,651.3 C906.7,650.5 913.3,649.6 920.0,648.9 C926.7,648.1 933.3,647.4 940.0,646.8 C946.7,646.1 953.3,645.5 960.0,645.0 C966.7,644.5 973.3,644.0 980.0,643.7 C986.7,643.3 996.7,642.9 1000.0,642.7"/><path d="M460.0,704.1 C463.3,704.2 473.3,704.7 480.0,704.9 C486.7,705.0 493.3,705.1 500.0,705.1 C506.7,705.1 513.3,704.9 520.0,704.7 C526.7,704.6 533.3,704.3 540.0,703.9 C546.7,703.5 553.3,703.1 560.0,702.6 C566.7,702.1 573.3,701.5 580.0,700.9 C586.7,700.2 593.3,699.5 600.0,698.7 C606.7,698.0 613.3,697.1 620.0,696.3 C626.7,695.4 633.3,694.5 640.0,693.5 C646.7,692.5 653.3,691.5 660.0,690.4 C666.7,689.4 673.3,688.3 680.0,687.1 C686.7,686.0 693.3,684.8 700.0,683.7 C706.7,682.5 713.3,681.3 720.0,680.0 C726.7,678.8 733.3,677.5 740.0,676.3 C746.7,675.0 753.3,673.7 760.0,672.5 C766.7,671.2 773.3,669.9 780.0,668.6 C786.7,667.3 793.3,666.0 800.0,664.7 C806.7,663.5 813.3,662.2 820.0,660.9 C826.7,659.7 833.3,658.4 840.0,657.2 C846.7,656.0 853.3,654.8 860.0,653.6 C866.7,652.4 873.3,651.2 880.0,650.1 C886.7,649.0 893.3,647.9 900.0,646.9 C906.7,645.8 913.3,644.8 920.0,643.9 C926.7,642.9 933.3,642.0 940.0,641.1 C946.7,640.3 953.3,639.5 960.0,638.7 C966.7,638.0 973.3,637.3 980.0,636.6 C986.7,636.0 996.7,635.2 1000.0,635.0"/><path d="M460.0,704.0 C463.3,704.2 473.3,704.7 480.0,704.9 C486.7,705.1 493.3,705.2 500.0,705.2 C506.7,705.2 513.3,705.1 520.0,704.9 C526.7,704.7 533.3,704.5 540.0,704.1 C546.7,703.8 553.3,703.3 560.0,702.8 C566.7,702.3 573.3,701.7 580.0,701.0 C586.7,700.4 593.3,699.6 600.0,698.9 C606.7,698.1 613.3,697.2 620.0,696.3 C626.7,695.4 633.3,694.4 640.0,693.4 C646.7,692.4 653.3,691.3 660.0,690.2 C666.7,689.1 673.3,688.0 680.0,686.8 C686.7,685.6 693.3,684.3 700.0,683.1 C706.7,681.8 713.3,680.5 720.0,679.2 C726.7,677.9 733.3,676.6 740.0,675.2 C746.7,673.9 753.3,672.5 760.0,671.1 C766.7,669.7 773.3,668.3 780.0,666.9 C786.7,665.5 793.3,664.1 800.0,662.7 C806.7,661.3 813.3,659.9 820.0,658.5 C826.7,657.1 833.3,655.7 840.0,654.3 C846.7,652.9 853.3,651.6 860.0,650.2 C866.7,648.9 873.3,647.5 880.0,646.3 C886.7,645.0 893.3,643.7 900.0,642.5 C906.7,641.2 913.3,640.0 920.0,638.8 C926.7,637.7 933.3,636.6 940.0,635.5 C946.7,634.4 953.3,633.4 960.0,632.4 C966.7,631.4 973.3,630.5 980.0,629.6 C986.7,628.8 996.7,627.6 1000.0,627.2"/><path d="M460.0,704.0 C463.3,704.1 473.3,704.7 480.0,705.0 C486.7,705.2 493.3,705.3 500.0,705.3 C506.7,705.3 513.3,705.3 520.0,705.1 C526.7,704.9 533.3,704.7 540.0,704.3 C546.7,704.0 553.3,703.5 560.0,703.0 C566.7,702.5 573.3,701.9 580.0,701.2 C586.7,700.5 593.3,699.8 600.0,699.0 C606.7,698.2 613.3,697.3 620.0,696.3 C626.7,695.4 633.3,694.4 640.0,693.3 C646.7,692.3 653.3,691.2 660.0,690.0 C666.7,688.9 673.3,687.6 680.0,686.4 C686.7,685.1 693.3,683.8 700.0,682.5 C706.7,681.2 713.3,679.8 720.0,678.4 C726.7,677.0 733.3,675.6 740.0,674.1 C746.7,672.7 753.3,671.2 760.0,669.7 C766.7,668.2 773.3,666.7 780.0,665.2 C786.7,663.7 793.3,662.2 800.0,660.6 C806.7,659.1 813.3,657.5 820.0,656.0 C826.7,654.5 833.3,652.9 840.0,651.4 C846.7,649.9 853.3,648.4 860.0,646.8 C866.7,645.3 873.3,643.8 880.0,642.4 C886.7,640.9 893.3,639.4 900.0,638.0 C906.7,636.6 913.3,635.2 920.0,633.8 C926.7,632.5 933.3,631.1 940.0,629.8 C946.7,628.6 953.3,627.3 960.0,626.1 C966.7,624.9 973.3,623.7 980.0,622.6 C986.7,621.5 996.7,620.0 1000.0,619.4"/><path d="M460.0,703.9 C463.3,704.1 473.3,704.8 480.0,705.0 C486.7,705.3 493.3,705.4 500.0,705.4 C506.7,705.5 513.3,705.4 520.0,705.3 C526.7,705.1 533.3,704.8 540.0,704.5 C546.7,704.2 553.3,703.7 560.0,703.2 C566.7,702.7 573.3,702.1 580.0,701.4 C586.7,700.7 593.3,699.9 600.0,699.1 C606.7,698.3 613.3,697.4 620.0,696.4 C626.7,695.4 633.3,694.4 640.0,693.3 C646.7,692.2 653.3,691.0 660.0,689.8 C666.7,688.6 673.3,687.3 680.0,686.0 C686.7,684.7 693.3,683.3 700.0,681.9 C706.7,680.5 713.3,679.1 720.0,677.6 C726.7,676.1 733.3,674.6 740.0,673.1 C746.7,671.5 753.3,670.0 760.0,668.4 C766.7,666.8 773.3,665.1 780.0,663.5 C786.7,661.9 793.3,660.2 800.0,658.6 C806.7,656.9 813.3,655.2 820.0,653.5 C826.7,651.9 833.3,650.2 840.0,648.5 C846.7,646.8 853.3,645.1 860.0,643.5 C866.7,641.8 873.3,640.1 880.0,638.5 C886.7,636.8 893.3,635.2 900.0,633.6 C906.7,632.0 913.3,630.4 920.0,628.8 C926.7,627.3 933.3,625.7 940.0,624.2 C946.7,622.7 953.3,621.2 960.0,619.8 C966.7,618.3 973.3,616.9 980.0,615.6 C986.7,614.2 996.7,612.3 1000.0,611.7"/><path d="M460.0,703.9 C463.3,704.1 473.3,704.8 480.0,705.1 C486.7,705.3 493.3,705.5 500.0,705.6 C506.7,705.6 513.3,705.6 520.0,705.4 C526.7,705.3 533.3,705.0 540.0,704.7 C546.7,704.4 553.3,703.9 560.0,703.4 C566.7,702.9 573.3,702.3 580.0,701.6 C586.7,700.9 593.3,700.1 600.0,699.2 C606.7,698.4 613.3,697.4 620.0,696.4 C626.7,695.4 633.3,694.3 640.0,693.2 C646.7,692.1 653.3,690.9 660.0,689.6 C666.7,688.3 673.3,687.0 680.0,685.6 C686.7,684.3 693.3,682.8 700.0,681.4 C706.7,679.9 713.3,678.4 720.0,676.8 C726.7,675.2 733.3,673.6 740.0,672.0 C746.7,670.4 753.3,668.7 760.0,667.0 C766.7,665.3 773.3,663.6 780.0,661.8 C786.7,660.1 793.3,658.3 800.0,656.5 C806.7,654.7 813.3,652.9 820.0,651.1 C826.7,649.3 833.3,647.4 840.0,645.6 C846.7,643.8 853.3,641.9 860.0,640.1 C866.7,638.3 873.3,636.4 880.0,634.6 C886.7,632.8 893.3,631.0 900.0,629.2 C906.7,627.4 913.3,625.6 920.0,623.8 C926.7,622.0 933.3,620.3 940.0,618.6 C946.7,616.8 953.3,615.1 960.0,613.5 C966.7,611.8 973.3,610.2 980.0,608.6 C986.7,607.0 996.7,604.7 1000.0,603.9"/><path d="M460.0,703.8 C463.3,704.0 473.3,704.8 480.0,705.1 C486.7,705.4 493.3,705.6 500.0,705.7 C506.7,705.8 513.3,705.7 520.0,705.6 C526.7,705.5 533.3,705.2 540.0,704.9 C546.7,704.6 553.3,704.1 560.0,703.6 C566.7,703.1 573.3,702.4 580.0,701.7 C586.7,701.0 593.3,700.2 600.0,699.3 C606.7,698.5 613.3,697.5 620.0,696.5 C626.7,695.4 633.3,694.3 640.0,693.1 C646.7,692.0 653.3,690.7 660.0,689.4 C666.7,688.1 673.3,686.7 680.0,685.3 C686.7,683.8 693.3,682.3 700.0,680.8 C706.7,679.2 713.3,677.6 720.0,676.0 C726.7,674.4 733.3,672.7 740.0,670.9 C746.7,669.2 753.3,667.4 760.0,665.6 C766.7,663.8 773.3,662.0 780.0,660.1 C786.7,658.3 793.3,656.4 800.0,654.4 C806.7,652.5 813.3,650.6 820.0,648.6 C826.7,646.7 833.3,644.7 840.0,642.7 C846.7,640.7 853.3,638.7 860.0,636.7 C866.7,634.7 873.3,632.7 880.0,630.7 C886.7,628.7 893.3,626.7 900.0,624.7 C906.7,622.8 913.3,620.8 920.0,618.8 C926.7,616.8 933.3,614.9 940.0,612.9 C946.7,611.0 953.3,609.1 960.0,607.2 C966.7,605.3 973.3,603.4 980.0,601.6 C986.7,599.7 996.7,597.0 1000.0,596.1"/><path d="M460.0,703.8 C463.3,704.0 473.3,704.8 480.0,705.1 C486.7,705.5 493.3,705.7 500.0,705.8 C506.7,705.9 513.3,705.9 520.0,705.8 C526.7,705.7 533.3,705.4 540.0,705.1 C546.7,704.8 553.3,704.3 560.0,703.8 C566.7,703.3 573.3,702.6 580.0,701.9 C586.7,701.2 593.3,700.4 600.0,699.5 C606.7,698.6 613.3,697.6 620.0,696.5 C626.7,695.4 633.3,694.3 640.0,693.1 C646.7,691.8 653.3,690.5 660.0,689.2 C666.7,687.8 673.3,686.4 680.0,684.9 C686.7,683.4 693.3,681.8 700.0,680.2 C706.7,678.6 713.3,676.9 720.0,675.2 C726.7,673.5 733.3,671.7 740.0,669.9 C746.7,668.0 753.3,666.2 760.0,664.3 C766.7,662.4 773.3,660.4 780.0,658.4 C786.7,656.4 793.3,654.4 800.0,652.4 C806.7,650.3 813.3,648.3 820.0,646.2 C826.7,644.1 833.3,642.0 840.0,639.8 C846.7,637.7 853.3,635.5 860.0,633.4 C866.7,631.2 873.3,629.0 880.0,626.9 C886.7,624.7 893.3,622.5 900.0,620.3 C906.7,618.1 913.3,616.0 920.0,613.8 C926.7,611.6 933.3,609.4 940.0,607.3 C946.7,605.1 953.3,603.0 960.0,600.9 C966.7,598.7 973.3,596.6 980.0,594.5 C986.7,592.4 996.7,589.4 1000.0,588.4"/><path d="M460.0,703.7 C463.3,704.0 473.3,704.8 480.0,705.2 C486.7,705.6 493.3,705.8 500.0,705.9 C506.7,706.1 513.3,706.1 520.0,706.0 C526.7,705.8 533.3,705.6 540.0,705.3 C546.7,705.0 553.3,704.5 560.0,704.0 C566.7,703.5 573.3,702.8 580.0,702.1 C586.7,701.3 593.3,700.5 600.0,699.6 C606.7,698.7 613.3,697.6 620.0,696.5 C626.7,695.5 633.3,694.3 640.0,693.0 C646.7,691.7 653.3,690.4 660.0,689.0 C666.7,687.6 673.3,686.1 680.0,684.5 C686.7,683.0 693.3,681.3 700.0,679.6 C706.7,677.9 713.3,676.2 720.0,674.4 C726.7,672.6 733.3,670.7 740.0,668.8 C746.7,666.9 753.3,664.9 760.0,662.9 C766.7,660.9 773.3,658.8 780.0,656.7 C786.7,654.6 793.3,652.5 800.0,650.3 C806.7,648.2 813.3,645.9 820.0,643.7 C826.7,641.5 833.3,639.2 840.0,636.9 C846.7,634.6 853.3,632.3 860.0,630.0 C866.7,627.7 873.3,625.3 880.0,623.0 C886.7,620.6 893.3,618.3 900.0,615.9 C906.7,613.5 913.3,611.1 920.0,608.8 C926.7,606.4 933.3,604.0 940.0,601.6 C946.7,599.3 953.3,596.9 960.0,594.5 C966.7,592.2 973.3,589.8 980.0,587.5 C986.7,585.2 996.7,581.7 1000.0,580.6"/><path d="M460.0,703.7 C463.3,703.9 473.3,704.8 480.0,705.2 C486.7,705.6 493.3,705.9 500.0,706.1 C506.7,706.2 513.3,706.2 520.0,706.1 C526.7,706.0 533.3,705.8 540.0,705.5 C546.7,705.2 553.3,704.7 560.0,704.2 C566.7,703.7 573.3,703.0 580.0,702.3 C586.7,701.5 593.3,700.7 600.0,699.7 C606.7,698.8 613.3,697.7 620.0,696.6 C626.7,695.5 633.3,694.2 640.0,692.9 C646.7,691.6 653.3,690.2 660.0,688.8 C666.7,687.3 673.3,685.8 680.0,684.1 C686.7,682.5 693.3,680.8 700.0,679.1 C706.7,677.3 713.3,675.5 720.0,673.6 C726.7,671.7 733.3,669.7 740.0,667.7 C746.7,665.7 753.3,663.6 760.0,661.5 C766.7,659.4 773.3,657.2 780.0,655.0 C786.7,652.8 793.3,650.6 800.0,648.3 C806.7,646.0 813.3,643.6 820.0,641.2 C826.7,638.9 833.3,636.5 840.0,634.0 C846.7,631.6 853.3,629.1 860.0,626.6 C866.7,624.1 873.3,621.6 880.0,619.1 C886.7,616.6 893.3,614.0 900.0,611.5 C906.7,608.9 913.3,606.3 920.0,603.7 C926.7,601.2 933.3,598.6 940.0,596.0 C946.7,593.4 953.3,590.8 960.0,588.2 C966.7,585.6 973.3,583.1 980.0,580.5 C986.7,577.9 996.7,574.1 1000.0,572.8"/><path d="M460.0,703.6 C463.3,703.9 473.3,704.9 480.0,705.3 C486.7,705.7 493.3,706.0 500.0,706.2 C506.7,706.3 513.3,706.4 520.0,706.3 C526.7,706.2 533.3,706.0 540.0,705.7 C546.7,705.4 553.3,704.9 560.0,704.4 C566.7,703.8 573.3,703.2 580.0,702.4 C586.7,701.7 593.3,700.8 600.0,699.8 C606.7,698.9 613.3,697.8 620.0,696.6 C626.7,695.5 633.3,694.2 640.0,692.9 C646.7,691.5 653.3,690.1 660.0,688.6 C666.7,687.0 673.3,685.4 680.0,683.8 C686.7,682.1 693.3,680.3 700.0,678.5 C706.7,676.7 713.3,674.7 720.0,672.8 C726.7,670.8 733.3,668.8 740.0,666.7 C746.7,664.6 753.3,662.4 760.0,660.2 C766.7,657.9 773.3,655.7 780.0,653.3 C786.7,651.0 793.3,648.6 800.0,646.2 C806.7,643.8 813.3,641.3 820.0,638.8 C826.7,636.3 833.3,633.7 840.0,631.1 C846.7,628.5 853.3,625.9 860.0,623.3 C866.7,620.6 873.3,617.9 880.0,615.2 C886.7,612.5 893.3,609.8 900.0,607.0 C906.7,604.3 913.3,601.5 920.0,598.7 C926.7,596.0 933.3,593.2 940.0,590.4 C946.7,587.6 953.3,584.7 960.0,581.9 C966.7,579.1 973.3,576.3 980.0,573.5 C986.7,570.7 996.7,566.5 1000.0,565.0"/></g><path d="M100.0,685.0 C103.3,684.5 113.3,683.1 120.0,682.2 C126.7,681.3 133.3,680.5 140.0,679.7 C146.7,678.8 153.3,677.8 160.0,677.0 C166.7,676.2 173.3,675.7 180.0,675.0 C186.7,674.3 193.3,673.6 200.0,672.9 C206.7,672.2 213.3,671.4 220.0,670.8 C226.7,670.1 233.3,669.5 240.0,668.9 C246.7,668.2 253.3,667.4 260.0,666.7 C266.7,666.0 273.3,665.3 280.0,664.6 C286.7,663.9 293.3,663.2 300.0,662.5 C306.7,661.8 313.3,661.3 320.0,660.7 C326.7,660.0 333.3,659.5 340.0,658.7 C346.7,657.9 353.3,656.9 360.0,656.0 C366.7,655.1 373.3,654.5 380.0,653.6 C386.7,652.7 393.3,651.7 400.0,650.7 C406.7,649.7 413.3,648.6 420.0,647.6 C426.7,646.6 433.3,645.6 440.0,644.7 C446.7,643.9 453.3,643.2 460.0,642.5 C466.7,641.8 473.3,641.0 480.0,640.4 C486.7,639.9 493.3,639.5 500.0,639.1 C506.7,638.8 513.3,638.6 520.0,638.3 C526.7,638.1 533.3,637.9 540.0,637.8 C546.7,637.6 553.3,637.5 560.0,637.4 C566.7,637.2 573.3,637.1 580.0,637.0 C586.7,636.9 593.3,636.9 600.0,636.9 C606.7,637.0 613.3,637.0 620.0,637.2 C626.7,637.4 636.7,637.9 640.0,638.0" fill="none" stroke="url(#gEdge)" stroke-width="1.3"/><path d="M120.0,685.2 C123.3,684.8 133.3,683.5 140.0,682.7 C146.7,681.8 153.3,680.8 160.0,680.0 C166.7,679.2 173.3,678.7 180.0,678.0 C186.7,677.3 193.3,676.6 200.0,675.9 C206.7,675.2 213.3,674.4 220.0,673.8 C226.7,673.1 233.3,672.5 240.0,671.9 C246.7,671.2 253.3,670.4 260.0,669.7 C266.7,669.0 273.3,668.3 280.0,667.6 C286.7,666.9 293.3,666.2 300.0,665.5 C306.7,664.8 313.3,664.3 320.0,663.7 C326.7,663.0 333.3,662.5 340.0,661.7 C346.7,660.9 353.3,659.9 360.0,659.0 C366.7,658.1 373.3,657.5 380.0,656.6 C386.7,655.7 393.3,654.7 400.0,653.7 C406.7,652.7 416.7,651.1 420.0,650.6" fill="none" stroke="url(#gDense)" stroke-width="4"/></g><path d="M-40.0,730.0 C-36.7,728.6 -26.7,724.6 -20.0,721.9 C-13.3,719.1 -6.7,716.2 0.0,713.5 C6.7,710.8 13.3,708.4 20.0,705.8 C26.7,703.3 33.3,700.4 40.0,698.2 C46.7,696.0 53.3,694.0 60.0,692.4 C66.7,690.8 73.3,689.7 80.0,688.4 C86.7,687.2 93.3,686.0 100.0,685.0 C106.7,684.0 113.3,683.1 120.0,682.2 C126.7,681.3 133.3,680.5 140.0,679.7 C146.7,678.8 153.3,677.8 160.0,677.0 C166.7,676.2 173.3,675.7 180.0,675.0 C186.7,674.3 193.3,673.6 200.0,672.9 C206.7,672.2 213.3,671.4 220.0,670.8 C226.7,670.1 233.3,669.5 240.0,668.9 C246.7,668.2 256.7,667.1 260.0,666.7" fill="none" stroke="url(#gHi)" stroke-width="1.4"/></g>
<g id="diagram"><rect x="284.40" y="255.00" width="624.20" height="3.00" fill="#000066"/>
<rect x="302.50" y="216.40" width="48.30" height="39.50" fill="#000070" stroke="#0000c0" stroke-width="1.2"/>
<rect x="849.35" y="216.10" width="49.35" height="39.30" fill="#000070" stroke="#0000c0" stroke-width="1.2"/>
<path d="M338.90,203.30 L349.00,203.30 L343.90,216.90 Z" fill="#0000e0"/>
<path d="M886.20,203.20 L897.00,203.20 L891.60,216.20 Z" fill="#0000e0"/>
<rect x="352.00" y="242.40" width="2.80" height="20.10" fill="#0000cc"/>
<rect x="514.10" y="242.30" width="2.80" height="20.20" fill="#0000cc"/>
<rect x="676.20" y="239.20" width="2.80" height="20.40" fill="#0000cc"/>
<rect x="845.10" y="242.60" width="2.80" height="19.60" fill="#0000cc"/>
<rect x="351.80" y="178.90" width="3.00" height="19.40" fill="#000066"/>
<rect x="354.80" y="187.35" width="8.20" height="3.00" fill="#000066"/>
<ellipse cx="371.50" cy="188.85" rx="9.50" ry="10.45" fill="#000066"/>
<ellipse cx="390.50" cy="188.85" rx="9.50" ry="10.45" fill="#000066"/>
<ellipse cx="409.50" cy="188.85" rx="9.50" ry="10.45" fill="#000066"/>
<ellipse cx="371.50" cy="188.85" rx="7.30" ry="7.65" fill="#ffffff"/>
<ellipse cx="390.50" cy="188.85" rx="7.30" ry="7.65" fill="#66ee44"/>
<ellipse cx="409.50" cy="188.85" rx="7.30" ry="7.65" fill="#ffffff"/>
<rect x="513.90" y="182.40" width="3.00" height="19.10" fill="#000066"/>
<rect x="516.90" y="190.40" width="5.80" height="3.00" fill="#000066"/>
<ellipse cx="531.33" cy="191.90" rx="9.63" ry="10.80" fill="#000066"/>
<ellipse cx="550.60" cy="191.90" rx="9.63" ry="10.80" fill="#000066"/>
<ellipse cx="569.87" cy="191.90" rx="9.63" ry="10.80" fill="#000066"/>
<ellipse cx="531.33" cy="191.90" rx="7.43" ry="8.00" fill="#ffffff"/>
<ellipse cx="550.60" cy="191.90" rx="7.43" ry="8.00" fill="#66ee44"/>
<ellipse cx="569.87" cy="191.90" rx="7.43" ry="8.00" fill="#ffffff"/>
<rect x="677.10" y="182.25" width="3.00" height="19.25" fill="#000066"/>
<rect x="680.10" y="190.50" width="7.80" height="3.00" fill="#000066"/>
<ellipse cx="696.21" cy="192.00" rx="9.31" ry="10.75" fill="#000066"/>
<ellipse cx="714.83" cy="192.00" rx="9.31" ry="10.75" fill="#000066"/>
<ellipse cx="733.44" cy="192.00" rx="9.31" ry="10.75" fill="#000066"/>
<ellipse cx="696.21" cy="192.00" rx="7.11" ry="7.95" fill="#ffffff"/>
<ellipse cx="714.83" cy="192.00" rx="7.11" ry="7.95" fill="#ffffff"/>
<ellipse cx="733.44" cy="192.00" rx="7.11" ry="7.95" fill="#ffee00"/>
<rect x="846.10" y="182.30" width="3.00" height="19.10" fill="#000066"/>
<rect x="849.10" y="190.40" width="7.90" height="3.00" fill="#000066"/>
<ellipse cx="865.42" cy="191.90" rx="9.42" ry="10.90" fill="#000066"/>
<ellipse cx="884.25" cy="191.90" rx="9.42" ry="10.90" fill="#000066"/>
<ellipse cx="903.08" cy="191.90" rx="9.42" ry="10.90" fill="#000066"/>
<ellipse cx="865.42" cy="191.90" rx="7.22" ry="8.10" fill="#ff3311"/>
<ellipse cx="884.25" cy="191.90" rx="7.22" ry="8.10" fill="#ffffff"/>
<ellipse cx="903.08" cy="191.90" rx="7.22" ry="8.10" fill="#ffffff"/>
<rect x="261.25" y="508.90" width="639.40" height="3.10" fill="#000066"/>
<rect x="297.70" y="466.20" width="67.00" height="43.20" fill="#000070" stroke="#0000c0" stroke-width="1.2"/>
<rect x="818.70" y="465.85" width="68.20" height="43.05" fill="#000070" stroke="#0000c0" stroke-width="1.2"/>
<path d="M347.75,451.90 L362.25,451.90 L355.00,466.90 Z" fill="#0000e0"/>
<path d="M870.00,451.90 L883.50,451.90 L876.75,466.90 Z" fill="#0000e0"/>
<rect x="366.10" y="497.20" width="2.80" height="22.40" fill="#0000cc"/>
<rect x="479.10" y="494.10" width="2.80" height="22.60" fill="#0000cc"/>
<rect x="585.10" y="494.10" width="2.80" height="22.60" fill="#0000cc"/>
<rect x="699.10" y="494.10" width="2.80" height="22.60" fill="#0000cc"/>
<rect x="815.10" y="497.25" width="2.80" height="22.15" fill="#0000cc"/>
<rect x="369.00" y="430.25" width="3.00" height="22.25" fill="#000066"/>
<rect x="372.00" y="440.05" width="10.25" height="3.00" fill="#000066"/>
<ellipse cx="394.17" cy="441.55" rx="12.92" ry="12.45" fill="#000066"/>
<ellipse cx="420.00" cy="441.55" rx="12.92" ry="12.45" fill="#000066"/>
<ellipse cx="445.83" cy="441.55" rx="12.92" ry="12.45" fill="#000066"/>
<ellipse cx="394.17" cy="441.55" rx="10.72" ry="9.65" fill="#ffffff"/>
<ellipse cx="420.00" cy="441.55" rx="10.72" ry="9.65" fill="#ffffff"/>
<ellipse cx="445.83" cy="441.55" rx="10.72" ry="9.65" fill="#00ee00"/>
<rect x="478.75" y="430.25" width="3.00" height="22.25" fill="#000066"/>
<rect x="481.75" y="440.05" width="10.50" height="3.00" fill="#000066"/>
<ellipse cx="504.17" cy="441.55" rx="12.92" ry="12.45" fill="#000066"/>
<ellipse cx="530.00" cy="441.55" rx="12.92" ry="12.45" fill="#000066"/>
<ellipse cx="555.83" cy="441.55" rx="12.92" ry="12.45" fill="#000066"/>
<ellipse cx="504.17" cy="441.55" rx="10.72" ry="9.65" fill="#ffffff"/>
<ellipse cx="530.00" cy="441.55" rx="10.72" ry="9.65" fill="#ffffff"/>
<ellipse cx="555.83" cy="441.55" rx="10.72" ry="9.65" fill="#00ee00"/>
<rect x="582.10" y="431.25" width="3.00" height="21.25" fill="#000066"/>
<rect x="585.10" y="440.38" width="10.65" height="3.00" fill="#000066"/>
<ellipse cx="607.29" cy="441.88" rx="12.54" ry="11.88" fill="#000066"/>
<ellipse cx="632.38" cy="441.88" rx="12.54" ry="11.88" fill="#000066"/>
<ellipse cx="657.46" cy="441.88" rx="12.54" ry="11.88" fill="#000066"/>
<ellipse cx="607.29" cy="441.88" rx="10.34" ry="9.07" fill="#ffee00"/>
<ellipse cx="632.38" cy="441.88" rx="10.34" ry="9.07" fill="#ffffff"/>
<ellipse cx="657.46" cy="441.88" rx="10.34" ry="9.07" fill="#33bb33"/>
<rect x="705.00" y="431.25" width="3.00" height="21.25" fill="#000066"/>
<rect x="708.00" y="440.38" width="10.50" height="3.00" fill="#000066"/>
<ellipse cx="730.58" cy="441.88" rx="13.08" ry="11.88" fill="#000066"/>
<ellipse cx="756.75" cy="441.88" rx="13.08" ry="11.88" fill="#000066"/>
<ellipse cx="782.92" cy="441.88" rx="13.08" ry="11.88" fill="#000066"/>
<ellipse cx="730.58" cy="441.88" rx="10.88" ry="9.07" fill="#ffee00"/>
<ellipse cx="756.75" cy="441.88" rx="10.88" ry="9.07" fill="#ffffff"/>
<ellipse cx="782.92" cy="441.88" rx="10.88" ry="9.07" fill="#ffffff"/>
<rect x="815.00" y="431.25" width="3.00" height="21.25" fill="#000066"/>
<rect x="818.00" y="440.38" width="11.50" height="3.00" fill="#000066"/>
<ellipse cx="841.21" cy="441.88" rx="12.71" ry="11.88" fill="#000066"/>
<ellipse cx="866.62" cy="441.88" rx="12.71" ry="11.88" fill="#000066"/>
<ellipse cx="892.04" cy="441.88" rx="12.71" ry="11.88" fill="#000066"/>
<ellipse cx="841.21" cy="441.88" rx="10.51" ry="9.07" fill="#ffffff"/>
<ellipse cx="866.62" cy="441.88" rx="10.51" ry="9.07" fill="#ff1111"/>
<ellipse cx="892.04" cy="441.88" rx="10.51" ry="9.07" fill="#ffffff"/>
<text x="361.00" y="158.70" font-size="13" font-weight="bold">8</text>
<text x="523.00" y="165.00" font-size="13" font-weight="bold">6</text>
<text x="685.50" y="165.00" font-size="13" font-weight="bold">4</text>
<text x="859.00" y="165.00" font-size="13" font-weight="bold">2</text>
<text x="350.50" y="227.80" font-size="13" font-weight="bold">8G</text>
<text x="512.20" y="230.80" font-size="13" font-weight="bold">6G</text>
<text x="674.50" y="230.80" font-size="13" font-weight="bold">4G</text>
<text x="364.50" y="399.75" font-size="13" font-weight="bold">10</text>
<text x="489.20" y="399.75" font-size="13" font-weight="bold">8</text>
<text x="583.20" y="399.75" font-size="13" font-weight="bold">6</text>
<text x="708.50" y="399.75" font-size="13" font-weight="bold">4</text>
<text x="818.20" y="399.75" font-size="13" font-weight="bold">2</text>
<text x="351.30" y="479.70" font-size="13" font-weight="bold" letter-spacing="-1.5">10G</text>
<text x="473.10" y="479.70" font-size="13" font-weight="bold">8G</text>
<text x="583.20" y="479.70" font-size="13" font-weight="bold">6G</text>
<text x="692.40" y="482.60" font-size="13" font-weight="bold">4G</text>
<text x="822.4" y="692.9" font-size="19" font-weight="normal" stroke="#000" stroke-width="0.55">25</text></g>
<g id="glyphs"><g transform="translate(0,0)" fill="#000">
<rect x="188" y="81.1" width="17" height="1.8"/>
<path d="M216.00,68.95 L240.00,68.95 L240.00,69.85 L216.00,69.85 Z"/><path d="M236.80,69.85 L238.80,67.20 L240.60,69.85 Z"/>
<path d="M218.00,78.95 L238.00,78.95 L238.00,79.85 L218.00,79.85 Z"/><path d="M234.80,79.85 L236.80,77.20 L238.60,79.85 Z"/>
<path d="M213.50,88.85 L242.00,88.85 L242.00,89.95 L213.50,89.95 Z"/><path d="M238.80,89.95 L240.80,87.20 L242.60,89.95 Z"/>
<rect x="251.05" y="65.20" width="1.70" height="12.20"/>
<rect x="266.85" y="65.20" width="1.70" height="12.20"/>
<path d="M251.90,65.40 L267.70,65.40 L267.70,66.40 L251.90,66.40 Z"/>
<path d="M251.90,70.85 L267.70,70.85 L267.70,71.75 L251.90,71.75 Z"/>
<path d="M251.90,76.30 L267.70,76.30 L267.70,77.30 L251.90,77.30 Z"/>
<path d="M267.00,64.30 L269.20,65.40 L268.60,66.20 Z"/>
<rect x="255.55" y="79.00" width="1.70" height="11.30"/>
<rect x="262.05" y="79.00" width="1.70" height="11.30"/>
<path d="M247.30,80.60 L248.30,80.20 L252.80,85.20 L252.40,87.30 L251.30,87.40 Z"/>
<path d="M270.00,80.20 L271.80,81.60 L264.00,88.60 L263.40,87.40 Z"/>
<path d="M246.00,89.75 L273.00,89.75 L273.00,90.85 L246.00,90.85 Z"/><path d="M269.80,90.85 L271.80,88.10 L273.60,90.85 Z"/>
<path d="M281.50,66.70 L302.50,66.70 L302.50,67.70 L281.50,67.70 Z"/><path d="M299.30,67.70 L301.30,65.00 L303.10,67.70 Z"/>
<path d="M277.70,75.40 L306.00,75.40 L306.00,76.40 L277.70,76.40 Z"/><path d="M302.80,76.40 L304.80,73.70 L306.60,76.40 Z"/>
<path d="M289.8,75.8 L291.6,75.8 L291.6,91.2 Q291.2,93.2 289.6,92.6 L287.0,90.4 L289.8,90.2 Z"/>
<path d="M285.40,78.90 L287.60,80.00 L277.90,90.70 L277.20,90.20 Z"/>
<path d="M296.00,79.50 L297.00,79.10 L303.60,85.50 L304.60,88.60 L303.40,89.40 Z"/>
</g>
<g transform="translate(0,261)" fill="#000">
<rect x="188" y="81.1" width="17" height="1.8"/>
<rect x="216.65" y="65.80" width="1.50" height="26.80"/>
<rect x="237.25" y="65.20" width="1.50" height="27.40"/>
<path d="M217.40,65.95 L239.00,65.95 L239.00,66.85 L217.40,66.85 Z"/><path d="M235.80,66.85 L237.80,64.20 L239.60,66.85 Z"/>
<path d="M217.40,89.15 L238.00,89.15 L238.00,90.05 L217.40,90.05 Z"/>
<path d="M223.1,66.60 L224.9,66.60 L224.9,73.00 Q224.3,83.00 218.2,86.60 L218.0,85.60 Q222.8,81.00 223.1,73.00 Z"/>
<path d="M230.4,66.60 L232.1,66.60 L232.1,81.70 L236.2,81.70 L237.4,80.80 L237.4,83.20 L230.4,83.20 Z"/>
<rect x="251.05" y="65.20" width="1.70" height="12.20"/>
<rect x="266.85" y="65.20" width="1.70" height="12.20"/>
<path d="M251.90,65.40 L267.70,65.40 L267.70,66.40 L251.90,66.40 Z"/>
<path d="M251.90,70.85 L267.70,70.85 L267.70,71.75 L251.90,71.75 Z"/>
<path d="M251.90,76.30 L267.70,76.30 L267.70,77.30 L251.90,77.30 Z"/>
<path d="M267.00,64.30 L269.20,65.40 L268.60,66.20 Z"/>
<rect x="255.55" y="79.00" width="1.70" height="11.30"/>
<rect x="262.05" y="79.00" width="1.70" height="11.30"/>
<path d="M247.30,80.60 L248.30,80.20 L252.80,85.20 L252.40,87.30 L251.30,87.40 Z"/>
<path d="M270.00,80.20 L271.80,81.60 L264.00,88.60 L263.40,87.40 Z"/>
<path d="M246.00,89.75 L273.00,89.75 L273.00,90.85 L246.00,90.85 Z"/><path d="M269.80,90.85 L271.80,88.10 L273.60,90.85 Z"/>
<path d="M281.50,66.70 L302.50,66.70 L302.50,67.70 L281.50,67.70 Z"/><path d="M299.30,67.70 L301.30,65.00 L303.10,67.70 Z"/>
<path d="M277.70,75.40 L306.00,75.40 L306.00,76.40 L277.70,76.40 Z"/><path d="M302.80,76.40 L304.80,73.70 L306.60,76.40 Z"/>
<path d="M289.8,75.8 L291.6,75.8 L291.6,91.2 Q291.2,93.2 289.6,92.6 L287.0,90.4 L289.8,90.2 Z"/>
<path d="M285.40,78.90 L287.60,80.00 L277.90,90.70 L277.20,90.20 Z"/>
<path d="M296.00,79.50 L297.00,79.10 L303.60,85.50 L304.60,88.60 L303.40,89.40 Z"/>
</g></g>
<rect x="0" y="719" width="140" height="1" fill="#ffffff" fill-opacity="0.85"/>
</svg>
</body></html>
